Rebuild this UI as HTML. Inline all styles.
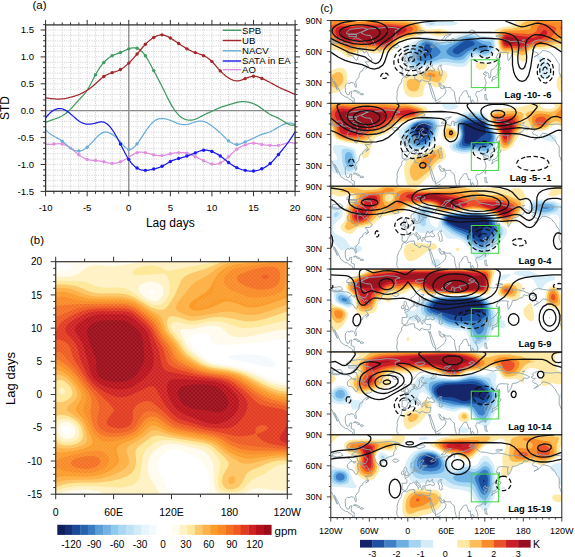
<!DOCTYPE html>
<html><head><meta charset="utf-8"><style>html,body{margin:0;padding:0;background:#fff;width:575px;height:557px;overflow:hidden}svg{display:block}</style></head>
<body><svg width="575" height="557" viewBox="0 0 575 557" font-family='"Liberation Sans", sans-serif'>
<path d="M53.92 24.9V191.3M62.23 24.9V191.3M70.55 24.9V191.3M78.87 24.9V191.3M87.18 24.9V191.3M95.5 24.9V191.3M103.82 24.9V191.3M112.13 24.9V191.3M120.45 24.9V191.3M128.77 24.9V191.3M137.08 24.9V191.3M145.4 24.9V191.3M153.72 24.9V191.3M162.03 24.9V191.3M170.35 24.9V191.3M178.67 24.9V191.3M186.98 24.9V191.3M195.3 24.9V191.3M203.62 24.9V191.3M211.93 24.9V191.3M220.25 24.9V191.3M228.57 24.9V191.3M236.88 24.9V191.3M245.2 24.9V191.3M253.52 24.9V191.3M261.83 24.9V191.3M270.15 24.9V191.3M278.47 24.9V191.3M286.78 24.9V191.3M45.6 186.02H295.1M45.6 180.64H295.1M45.6 175.26H295.1M45.6 169.88H295.1M45.6 164.5H295.1M45.6 159.12H295.1M45.6 153.74H295.1M45.6 148.36H295.1M45.6 142.98H295.1M45.6 137.6H295.1M45.6 132.22H295.1M45.6 126.84H295.1M45.6 121.46H295.1M45.6 116.08H295.1M45.6 110.7H295.1M45.6 105.32H295.1M45.6 99.94H295.1M45.6 94.56H295.1M45.6 89.18H295.1M45.6 83.8H295.1M45.6 78.42H295.1M45.6 73.04H295.1M45.6 67.66H295.1M45.6 62.28H295.1M45.6 56.9H295.1M45.6 51.52H295.1M45.6 46.14H295.1M45.6 40.76H295.1M45.6 35.38H295.1M45.6 30H295.1" stroke="#b4b4b4" stroke-width="0.7" stroke-dasharray="0.9 1.4" fill="none"/>
<path d="M45.6 110.7H295.1 M128.77 24.9V191.3" stroke="#8a8a8a" stroke-width="1.3" fill="none"/>
<polyline points="45.6,144.06 46.43,144.2 47.26,144.3 48.1,144.36 48.93,144.39 49.76,144.38 50.59,144.35 51.42,144.29 52.25,144.22 53.09,144.14 53.92,144.06 54.75,143.97 55.58,143.89 56.41,143.82 57.24,143.77 58.08,143.73 58.91,143.72 59.74,143.75 60.57,143.81 61.4,143.91 62.23,144.06 63.06,144.25 63.9,144.5 64.73,144.8 65.56,145.14 66.39,145.53 67.22,145.96 68.06,146.44 68.89,146.95 69.72,147.5 70.55,148.09 71.38,148.71 72.21,149.36 73.05,150.04 73.88,150.72 74.71,151.42 75.54,152.12 76.37,152.82 77.2,153.5 78.04,154.17 78.87,154.82 79.7,155.43 80.53,156.02 81.36,156.57 82.19,157.09 83.03,157.57 83.86,158.02 84.69,158.42 85.52,158.79 86.35,159.11 87.18,159.39 88.02,159.62 88.85,159.82 89.68,159.98 90.51,160.11 91.34,160.21 92.17,160.3 93.01,160.37 93.84,160.44 94.67,160.51 95.5,160.57 96.33,160.65 97.16,160.73 98,160.83 98.83,160.93 99.66,161.05 100.49,161.17 101.32,161.31 102.15,161.47 102.99,161.63 103.82,161.81 104.65,162 105.48,162.2 106.31,162.41 107.14,162.61 107.98,162.8 108.81,162.98 109.64,163.14 110.47,163.27 111.3,163.36 112.13,163.42 112.97,163.44 113.8,163.41 114.63,163.34 115.46,163.24 116.29,163.09 117.12,162.9 117.96,162.68 118.79,162.42 119.62,162.13 120.45,161.81 121.28,161.46 122.11,161.07 122.95,160.66 123.78,160.23 124.61,159.77 125.44,159.3 126.27,158.8 127.1,158.29 127.94,157.77 128.77,157.24 129.6,156.7 130.43,156.15 131.26,155.62 132.09,155.09 132.93,154.59 133.76,154.12 134.59,153.68 135.42,153.29 136.25,152.95 137.08,152.66 137.92,152.44 138.75,152.29 139.58,152.18 140.41,152.13 141.24,152.13 142.07,152.17 142.91,152.25 143.74,152.36 144.57,152.5 145.4,152.66 146.23,152.85 147.06,153.05 147.9,153.26 148.73,153.48 149.56,153.71 150.39,153.94 151.22,154.17 152.05,154.39 152.89,154.61 153.72,154.82 154.55,155.01 155.38,155.18 156.21,155.33 157.04,155.46 157.88,155.57 158.71,155.65 159.54,155.69 160.37,155.71 161.2,155.68 162.03,155.62 162.87,155.52 163.7,155.38 164.53,155.22 165.36,155.03 166.19,154.82 167.02,154.6 167.86,154.38 168.69,154.16 169.52,153.94 170.35,153.74 171.18,153.56 172.01,153.39 172.85,153.24 173.68,153.11 174.51,152.99 175.34,152.89 176.17,152.8 177,152.72 177.84,152.66 178.67,152.61 179.5,152.57 180.33,152.54 181.16,152.54 181.99,152.55 182.83,152.58 183.66,152.64 184.49,152.73 185.32,152.85 186.15,153.01 186.98,153.2 187.82,153.44 188.65,153.71 189.48,154.01 190.31,154.35 191.14,154.71 191.97,155.08 192.81,155.47 193.64,155.88 194.47,156.29 195.3,156.7 196.13,157.11 196.96,157.52 197.8,157.92 198.63,158.33 199.46,158.73 200.29,159.13 201.12,159.53 201.95,159.94 202.79,160.33 203.62,160.73 204.45,161.13 205.28,161.53 206.11,161.91 206.94,162.28 207.78,162.63 208.61,162.96 209.44,163.26 210.27,163.53 211.1,163.77 211.93,163.96 212.77,164.11 213.6,164.21 214.43,164.26 215.26,164.26 216.09,164.21 216.92,164.09 217.76,163.93 218.59,163.7 219.42,163.4 220.25,163.05 221.08,162.63 221.91,162.14 222.75,161.6 223.58,161.01 224.41,160.37 225.24,159.7 226.07,158.99 226.9,158.25 227.74,157.48 228.57,156.7 229.4,155.9 230.23,155.1 231.06,154.29 231.89,153.5 232.73,152.71 233.56,151.94 234.39,151.19 235.22,150.48 236.05,149.8 236.88,149.17 237.72,148.58 238.55,148.04 239.38,147.54 240.21,147.08 241.04,146.65 241.87,146.26 242.71,145.89 243.54,145.55 244.37,145.22 245.2,144.92 246.03,144.62 246.86,144.35 247.7,144.09 248.53,143.85 249.36,143.65 250.19,143.47 251.02,143.33 251.85,143.22 252.69,143.16 253.52,143.14 254.35,143.17 255.18,143.24 256.01,143.35 256.84,143.48 257.68,143.63 258.51,143.8 259.34,143.98 260.17,144.16 261,144.33 261.83,144.49 262.67,144.63 263.5,144.75 264.33,144.85 265.16,144.95 265.99,145.03 266.82,145.1 267.66,145.17 268.49,145.23 269.32,145.29 270.15,145.35 270.98,145.41 271.81,145.47 272.65,145.52 273.48,145.56 274.31,145.59 275.14,145.6 275.97,145.58 276.8,145.54 277.64,145.46 278.47,145.35 279.3,145.2 280.13,145.01 280.96,144.8 281.79,144.57 282.63,144.32 283.46,144.07 284.29,143.82 285.12,143.58 285.95,143.35 286.78,143.14 287.62,142.96 288.45,142.82 289.28,142.72 290.11,142.67 290.94,142.67 291.77,142.74 292.61,142.88 293.44,143.1 294.27,143.4 295.1,143.79" fill="none" stroke="#e08ee0" stroke-width="1.25" stroke-linejoin="round"/>
<circle cx="53.92" cy="144.06" r="1.7" fill="#e08ee0"/>
<circle cx="62.23" cy="144.06" r="1.7" fill="#e08ee0"/>
<circle cx="70.55" cy="148.09" r="1.7" fill="#e08ee0"/>
<circle cx="78.87" cy="154.82" r="1.7" fill="#e08ee0"/>
<circle cx="87.18" cy="159.39" r="1.7" fill="#e08ee0"/>
<circle cx="95.5" cy="160.57" r="1.7" fill="#e08ee0"/>
<circle cx="103.82" cy="161.81" r="1.7" fill="#e08ee0"/>
<circle cx="112.13" cy="163.42" r="1.7" fill="#e08ee0"/>
<circle cx="120.45" cy="161.81" r="1.7" fill="#e08ee0"/>
<circle cx="137.08" cy="152.66" r="1.7" fill="#e08ee0"/>
<circle cx="145.4" cy="152.66" r="1.7" fill="#e08ee0"/>
<circle cx="153.72" cy="154.82" r="1.7" fill="#e08ee0"/>
<circle cx="162.03" cy="155.62" r="1.7" fill="#e08ee0"/>
<circle cx="170.35" cy="153.74" r="1.7" fill="#e08ee0"/>
<circle cx="178.67" cy="152.61" r="1.7" fill="#e08ee0"/>
<circle cx="186.98" cy="153.2" r="1.7" fill="#e08ee0"/>
<circle cx="195.3" cy="156.7" r="1.7" fill="#e08ee0"/>
<circle cx="203.62" cy="160.73" r="1.7" fill="#e08ee0"/>
<circle cx="211.93" cy="163.96" r="1.7" fill="#e08ee0"/>
<circle cx="220.25" cy="163.05" r="1.7" fill="#e08ee0"/>
<circle cx="228.57" cy="156.7" r="1.7" fill="#e08ee0"/>
<circle cx="236.88" cy="149.17" r="1.7" fill="#e08ee0"/>
<circle cx="245.2" cy="144.92" r="1.7" fill="#e08ee0"/>
<circle cx="253.52" cy="143.14" r="1.7" fill="#e08ee0"/>
<circle cx="261.83" cy="144.49" r="1.7" fill="#e08ee0"/>
<circle cx="270.15" cy="145.35" r="1.7" fill="#e08ee0"/>
<circle cx="278.47" cy="145.35" r="1.7" fill="#e08ee0"/>
<polyline points="45.6,129.53 46.43,130.48 47.26,131.36 48.1,132.16 48.93,132.89 49.76,133.57 50.59,134.2 51.42,134.78 52.25,135.32 53.09,135.83 53.92,136.31 54.75,136.77 55.58,137.23 56.41,137.67 57.24,138.12 58.08,138.58 58.91,139.05 59.74,139.54 60.57,140.06 61.4,140.61 62.23,141.2 63.06,141.84 63.9,142.52 64.73,143.22 65.56,143.95 66.39,144.68 67.22,145.4 68.06,146.12 68.89,146.81 69.72,147.47 70.55,148.09 71.38,148.66 72.21,149.17 73.05,149.63 73.88,150.03 74.71,150.36 75.54,150.64 76.37,150.84 77.2,150.98 78.04,151.05 78.87,151.05 79.7,150.97 80.53,150.82 81.36,150.6 82.19,150.31 83.03,149.95 83.86,149.52 84.69,149.03 85.52,148.47 86.35,147.85 87.18,147.18 88.02,146.44 88.85,145.65 89.68,144.82 90.51,143.96 91.34,143.07 92.17,142.16 93.01,141.25 93.84,140.33 94.67,139.41 95.5,138.51 96.33,137.64 97.16,136.79 98,135.99 98.83,135.24 99.66,134.54 100.49,133.91 101.32,133.35 102.15,132.88 102.99,132.5 103.82,132.22 104.65,132.05 105.48,131.98 106.31,132.01 107.14,132.13 107.98,132.33 108.81,132.61 109.64,132.97 110.47,133.38 111.3,133.85 112.13,134.37 112.97,134.94 113.8,135.55 114.63,136.2 115.46,136.89 116.29,137.63 117.12,138.4 117.96,139.22 118.79,140.08 119.62,140.97 120.45,141.9 121.28,142.87 122.11,143.85 122.95,144.83 123.78,145.77 124.61,146.65 125.44,147.46 126.27,148.17 127.1,148.75 127.94,149.18 128.77,149.44 129.6,149.51 130.43,149.39 131.26,149.12 132.09,148.69 132.93,148.12 133.76,147.43 134.59,146.63 135.42,145.74 136.25,144.77 137.08,143.73 137.92,142.64 138.75,141.51 139.58,140.34 140.41,139.14 141.24,137.92 142.07,136.68 142.91,135.43 143.74,134.17 144.57,132.92 145.4,131.68 146.23,130.46 147.06,129.26 147.9,128.09 148.73,126.96 149.56,125.88 150.39,124.86 151.22,123.89 152.05,123 152.89,122.19 153.72,121.46 154.55,120.82 155.38,120.28 156.21,119.81 157.04,119.43 157.88,119.12 158.71,118.88 159.54,118.7 160.37,118.58 161.2,118.52 162.03,118.5 162.87,118.53 163.7,118.6 164.53,118.72 165.36,118.86 166.19,119.05 167.02,119.26 167.86,119.5 168.69,119.77 169.52,120.07 170.35,120.38 171.18,120.72 172.01,121.07 172.85,121.42 173.68,121.78 174.51,122.14 175.34,122.49 176.17,122.83 177,123.15 177.84,123.45 178.67,123.72 179.5,123.96 180.33,124.16 181.16,124.33 181.99,124.46 182.83,124.56 183.66,124.61 184.49,124.63 185.32,124.6 186.15,124.53 186.98,124.42 187.82,124.26 188.65,124.06 189.48,123.84 190.31,123.58 191.14,123.31 191.97,123.03 192.81,122.75 193.64,122.47 194.47,122.2 195.3,121.94 196.13,121.72 196.96,121.52 197.8,121.35 198.63,121.22 199.46,121.13 200.29,121.09 201.12,121.09 201.95,121.16 202.79,121.28 203.62,121.46 204.45,121.71 205.28,122.02 206.11,122.39 206.94,122.8 207.78,123.26 208.61,123.76 209.44,124.29 210.27,124.85 211.1,125.44 211.93,126.03 212.77,126.64 213.6,127.26 214.43,127.9 215.26,128.55 216.09,129.21 216.92,129.9 217.76,130.61 218.59,131.33 219.42,132.09 220.25,132.87 221.08,133.67 221.91,134.49 222.75,135.33 223.58,136.17 224.41,137 225.24,137.82 226.07,138.63 226.9,139.4 227.74,140.14 228.57,140.83 229.4,141.47 230.23,142.06 231.06,142.58 231.89,143.05 232.73,143.46 233.56,143.79 234.39,144.06 235.22,144.26 236.05,144.39 236.88,144.43 237.72,144.4 238.55,144.3 239.38,144.13 240.21,143.91 241.04,143.65 241.87,143.34 242.71,143.01 243.54,142.65 244.37,142.28 245.2,141.9 246.03,141.53 246.86,141.16 247.7,140.79 248.53,140.42 249.36,140.05 250.19,139.67 251.02,139.3 251.85,138.92 252.69,138.53 253.52,138.14 254.35,137.74 255.18,137.33 256.01,136.93 256.84,136.53 257.68,136.13 258.51,135.75 259.34,135.38 260.17,135.02 261,134.68 261.83,134.37 262.67,134.09 263.5,133.82 264.33,133.57 265.16,133.32 265.99,133.08 266.82,132.84 267.66,132.58 268.49,132.3 269.32,132.01 270.15,131.68 270.98,131.32 271.81,130.93 272.65,130.51 273.48,130.07 274.31,129.61 275.14,129.13 275.97,128.65 276.8,128.15 277.64,127.66 278.47,127.16 279.3,126.68 280.13,126.2 280.96,125.74 281.79,125.3 282.63,124.88 283.46,124.49 284.29,124.14 285.12,123.83 285.95,123.56 286.78,123.34 287.62,123.18 288.45,123.07 289.28,123.03 290.11,123.05 290.94,123.15 291.77,123.33 292.61,123.59 293.44,123.93 294.27,124.37 295.1,124.9" fill="none" stroke="#6aaed8" stroke-width="1.25" stroke-linejoin="round"/>
<circle cx="62.23" cy="141.2" r="1.7" fill="#6aaed8"/>
<circle cx="78.87" cy="151.05" r="1.7" fill="#6aaed8"/>
<circle cx="87.18" cy="147.18" r="1.7" fill="#6aaed8"/>
<circle cx="128.77" cy="149.44" r="1.7" fill="#6aaed8"/>
<circle cx="137.08" cy="143.73" r="1.7" fill="#6aaed8"/>
<circle cx="228.57" cy="140.83" r="1.7" fill="#6aaed8"/>
<circle cx="236.88" cy="144.43" r="1.7" fill="#6aaed8"/>
<circle cx="245.2" cy="141.9" r="1.7" fill="#6aaed8"/>
<polyline points="45.6,122.54 46.43,122.12 47.26,121.74 48.1,121.38 48.93,121.04 49.76,120.73 50.59,120.43 51.42,120.14 52.25,119.86 53.09,119.58 53.92,119.31 54.75,119.03 55.58,118.75 56.41,118.45 57.24,118.15 58.08,117.82 58.91,117.48 59.74,117.11 60.57,116.71 61.4,116.28 62.23,115.81 63.06,115.31 63.9,114.76 64.73,114.18 65.56,113.56 66.39,112.9 67.22,112.21 68.06,111.48 68.89,110.72 69.72,109.92 70.55,109.09 71.38,108.22 72.21,107.33 73.05,106.42 73.88,105.49 74.71,104.55 75.54,103.61 76.37,102.67 77.2,101.74 78.04,100.83 78.87,99.94 79.7,99.07 80.53,98.22 81.36,97.37 82.19,96.5 83.03,95.61 83.86,94.67 84.69,93.69 85.52,92.63 86.35,91.49 87.18,90.26 88.02,88.92 88.85,87.49 89.68,85.98 90.51,84.42 91.34,82.81 92.17,81.18 93.01,79.54 93.84,77.92 94.67,76.32 95.5,74.76 96.33,73.26 97.16,71.83 98,70.45 98.83,69.14 99.66,67.88 100.49,66.68 101.32,65.55 102.15,64.47 102.99,63.45 103.82,62.5 104.65,61.6 105.48,60.75 106.31,59.96 107.14,59.23 107.98,58.54 108.81,57.91 109.64,57.32 110.47,56.78 111.3,56.28 112.13,55.82 112.97,55.41 113.8,55.02 114.63,54.66 115.46,54.33 116.29,54.01 117.12,53.7 117.96,53.39 118.79,53.08 119.62,52.77 120.45,52.43 121.28,52.09 122.11,51.72 122.95,51.35 123.78,50.96 124.61,50.58 125.44,50.2 126.27,49.84 127.1,49.48 127.94,49.14 128.77,48.83 129.6,48.54 130.43,48.29 131.26,48.08 132.09,47.92 132.93,47.81 133.76,47.76 134.59,47.78 135.42,47.87 136.25,48.04 137.08,48.29 137.92,48.64 138.75,49.07 139.58,49.6 140.41,50.22 141.24,50.93 142.07,51.73 142.91,52.61 143.74,53.59 144.57,54.66 145.4,55.82 146.23,57.07 147.06,58.4 147.9,59.79 148.73,61.25 149.56,62.75 150.39,64.29 151.22,65.86 152.05,67.44 152.89,69.03 153.72,70.62 154.55,72.19 155.38,73.76 156.21,75.32 157.04,76.88 157.88,78.45 158.71,80.02 159.54,81.61 160.37,83.21 161.2,84.84 162.03,86.49 162.87,88.17 163.7,89.87 164.53,91.59 165.36,93.31 166.19,95.02 167.02,96.72 167.86,98.39 168.69,100.03 169.52,101.62 170.35,103.17 171.18,104.65 172.01,106.07 172.85,107.43 173.68,108.72 174.51,109.95 175.34,111.1 176.17,112.19 177,113.2 177.84,114.14 178.67,115 179.5,115.79 180.33,116.51 181.16,117.15 181.99,117.72 182.83,118.23 183.66,118.67 184.49,119.05 185.32,119.37 186.15,119.64 186.98,119.85 187.82,120 188.65,120.11 189.48,120.17 190.31,120.17 191.14,120.13 191.97,120.04 192.81,119.9 193.64,119.71 194.47,119.48 195.3,119.2 196.13,118.88 196.96,118.51 197.8,118.12 198.63,117.7 199.46,117.26 200.29,116.81 201.12,116.35 201.95,115.89 202.79,115.44 203.62,115 204.45,114.59 205.28,114.19 206.11,113.8 206.94,113.43 207.78,113.06 208.61,112.7 209.44,112.34 210.27,111.98 211.1,111.61 211.93,111.24 212.77,110.85 213.6,110.46 214.43,110.06 215.26,109.67 216.09,109.27 216.92,108.88 217.76,108.51 218.59,108.14 219.42,107.8 220.25,107.47 221.08,107.17 221.91,106.89 222.75,106.63 223.58,106.38 224.41,106.14 225.24,105.9 226.07,105.67 226.9,105.43 227.74,105.19 228.57,104.94 229.4,104.68 230.23,104.41 231.06,104.13 231.89,103.85 232.73,103.57 233.56,103.3 234.39,103.04 235.22,102.8 236.05,102.57 236.88,102.36 237.72,102.18 238.55,102.03 239.38,101.9 240.21,101.79 241.04,101.72 241.87,101.67 242.71,101.64 243.54,101.64 244.37,101.67 245.2,101.72 246.03,101.79 246.86,101.89 247.7,102.02 248.53,102.17 249.36,102.36 250.19,102.57 251.02,102.81 251.85,103.08 252.69,103.38 253.52,103.71 254.35,104.07 255.18,104.46 256.01,104.88 256.84,105.33 257.68,105.8 258.51,106.31 259.34,106.83 260.17,107.38 261,107.95 261.83,108.55 262.67,109.16 263.5,109.79 264.33,110.42 265.16,111.05 265.99,111.68 266.82,112.29 267.66,112.88 268.49,113.45 269.32,113.98 270.15,114.47 270.98,114.91 271.81,115.32 272.65,115.69 273.48,116.05 274.31,116.39 275.14,116.73 275.97,117.07 276.8,117.43 277.64,117.82 278.47,118.23 279.3,118.69 280.13,119.17 280.96,119.68 281.79,120.21 282.63,120.75 283.46,121.3 284.29,121.83 285.12,122.36 285.95,122.87 286.78,123.34 287.62,123.78 288.45,124.18 289.28,124.53 290.11,124.82 290.94,125.04 291.77,125.19 292.61,125.26 293.44,125.24 294.27,125.12 295.1,124.9" fill="none" stroke="#3f9a62" stroke-width="1.25" stroke-linejoin="round"/>
<circle cx="95.5" cy="74.76" r="1.7" fill="#3f9a62"/>
<circle cx="103.82" cy="62.5" r="1.7" fill="#3f9a62"/>
<circle cx="112.13" cy="55.82" r="1.7" fill="#3f9a62"/>
<circle cx="120.45" cy="52.43" r="1.7" fill="#3f9a62"/>
<circle cx="128.77" cy="48.83" r="1.7" fill="#3f9a62"/>
<circle cx="137.08" cy="48.29" r="1.7" fill="#3f9a62"/>
<circle cx="145.4" cy="55.82" r="1.7" fill="#3f9a62"/>
<circle cx="153.72" cy="70.62" r="1.7" fill="#3f9a62"/>
<polyline points="45.6,97.9 46.43,98.01 47.26,98.12 48.1,98.23 48.93,98.33 49.76,98.44 50.59,98.53 51.42,98.63 52.25,98.71 53.09,98.79 53.92,98.86 54.75,98.92 55.58,98.97 56.41,99.01 57.24,99.04 58.08,99.05 58.91,99.05 59.74,99.03 60.57,98.99 61.4,98.94 62.23,98.86 63.06,98.77 63.9,98.66 64.73,98.53 65.56,98.39 66.39,98.23 67.22,98.05 68.06,97.87 68.89,97.67 69.72,97.46 70.55,97.25 71.38,97.03 72.21,96.8 73.05,96.56 73.88,96.31 74.71,96.05 75.54,95.78 76.37,95.5 77.2,95.2 78.04,94.89 78.87,94.56 79.7,94.22 80.53,93.85 81.36,93.47 82.19,93.08 83.03,92.66 83.86,92.22 84.69,91.76 85.52,91.28 86.35,90.78 87.18,90.26 88.02,89.71 88.85,89.14 89.68,88.55 90.51,87.93 91.34,87.3 92.17,86.64 93.01,85.96 93.84,85.26 94.67,84.54 95.5,83.8 96.33,83.04 97.16,82.27 98,81.5 98.83,80.72 99.66,79.96 100.49,79.21 101.32,78.49 102.15,77.8 102.99,77.14 103.82,76.54 104.65,75.98 105.48,75.48 106.31,75.01 107.14,74.59 107.98,74.21 108.81,73.85 109.64,73.53 110.47,73.22 111.3,72.94 112.13,72.66 112.97,72.4 113.8,72.14 114.63,71.88 115.46,71.62 116.29,71.33 117.12,71.04 117.96,70.71 118.79,70.36 119.62,69.97 120.45,69.54 121.28,69.07 122.11,68.55 122.95,67.99 123.78,67.39 124.61,66.75 125.44,66.08 126.27,65.37 127.1,64.64 127.94,63.88 128.77,63.09 129.6,62.28 130.43,61.44 131.26,60.59 132.09,59.71 132.93,58.81 133.76,57.9 134.59,56.96 135.42,56.01 136.25,55.04 137.08,54.05 137.92,53.05 138.75,52.03 139.58,51.01 140.41,50 141.24,48.99 142.07,47.99 142.91,47.02 143.74,46.06 144.57,45.14 145.4,44.26 146.23,43.41 147.06,42.61 147.9,41.85 148.73,41.13 149.56,40.44 150.39,39.79 151.22,39.18 152.05,38.6 152.89,38.05 153.72,37.53 154.55,37.05 155.38,36.6 156.21,36.19 157.04,35.82 157.88,35.51 158.71,35.25 159.54,35.05 160.37,34.91 161.2,34.84 162.03,34.84 162.87,34.92 163.7,35.07 164.53,35.29 165.36,35.57 166.19,35.89 167.02,36.26 167.86,36.67 168.69,37.12 169.52,37.58 170.35,38.07 171.18,38.57 172.01,39.08 172.85,39.6 173.68,40.13 174.51,40.67 175.34,41.22 176.17,41.77 177,42.32 177.84,42.89 178.67,43.45 179.5,44.02 180.33,44.58 181.16,45.15 181.99,45.71 182.83,46.26 183.66,46.8 184.49,47.33 185.32,47.85 186.15,48.35 186.98,48.83 187.82,49.29 188.65,49.73 189.48,50.15 190.31,50.55 191.14,50.93 191.97,51.3 192.81,51.64 193.64,51.98 194.47,52.29 195.3,52.6 196.13,52.89 196.96,53.17 197.8,53.45 198.63,53.72 199.46,54.01 200.29,54.3 201.12,54.61 201.95,54.93 202.79,55.28 203.62,55.66 204.45,56.07 205.28,56.52 206.11,57 206.94,57.52 207.78,58.09 208.61,58.69 209.44,59.34 210.27,60.04 211.1,60.78 211.93,61.58 212.77,62.43 213.6,63.32 214.43,64.24 215.26,65.19 216.09,66.16 216.92,67.13 217.76,68.09 218.59,69.05 219.42,69.98 220.25,70.89 221.08,71.75 221.91,72.58 222.75,73.37 223.58,74.12 224.41,74.83 225.24,75.51 226.07,76.15 226.9,76.76 227.74,77.34 228.57,77.88 229.4,78.39 230.23,78.87 231.06,79.3 231.89,79.7 232.73,80.04 233.56,80.33 234.39,80.57 235.22,80.74 236.05,80.85 236.88,80.89 237.72,80.87 238.55,80.77 239.38,80.62 240.21,80.42 241.04,80.18 241.87,79.9 242.71,79.59 243.54,79.27 244.37,78.93 245.2,78.58 246.03,78.24 246.86,77.9 247.7,77.58 248.53,77.29 249.36,77.01 250.19,76.77 251.02,76.57 251.85,76.42 252.69,76.31 253.52,76.27 254.35,76.28 255.18,76.36 256.01,76.48 256.84,76.66 257.68,76.88 258.51,77.13 259.34,77.42 260.17,77.73 261,78.07 261.83,78.42 262.67,78.78 263.5,79.16 264.33,79.55 265.16,79.94 265.99,80.35 266.82,80.77 267.66,81.19 268.49,81.62 269.32,82.06 270.15,82.51 270.98,82.96 271.81,83.42 272.65,83.88 273.48,84.35 274.31,84.81 275.14,85.27 275.97,85.72 276.8,86.16 277.64,86.6 278.47,87.03 279.3,87.44 280.13,87.84 280.96,88.24 281.79,88.62 282.63,88.99 283.46,89.36 284.29,89.72 285.12,90.08 285.95,90.44 286.78,90.79 287.62,91.15 288.45,91.51 289.28,91.86 290.11,92.23 290.94,92.6 291.77,92.97 292.61,93.35 293.44,93.74 294.27,94.15 295.1,94.56" fill="none" stroke="#a3262a" stroke-width="1.25" stroke-linejoin="round"/>
<circle cx="103.82" cy="76.54" r="1.7" fill="#a3262a"/>
<circle cx="112.13" cy="72.66" r="1.7" fill="#a3262a"/>
<circle cx="120.45" cy="69.54" r="1.7" fill="#a3262a"/>
<circle cx="128.77" cy="63.09" r="1.7" fill="#a3262a"/>
<circle cx="137.08" cy="54.05" r="1.7" fill="#a3262a"/>
<circle cx="145.4" cy="44.26" r="1.7" fill="#a3262a"/>
<circle cx="153.72" cy="37.53" r="1.7" fill="#a3262a"/>
<circle cx="162.03" cy="34.84" r="1.7" fill="#a3262a"/>
<circle cx="170.35" cy="38.07" r="1.7" fill="#a3262a"/>
<circle cx="178.67" cy="43.45" r="1.7" fill="#a3262a"/>
<circle cx="186.98" cy="48.83" r="1.7" fill="#a3262a"/>
<circle cx="195.3" cy="52.6" r="1.7" fill="#a3262a"/>
<circle cx="203.62" cy="55.66" r="1.7" fill="#a3262a"/>
<circle cx="211.93" cy="61.58" r="1.7" fill="#a3262a"/>
<circle cx="220.25" cy="70.89" r="1.7" fill="#a3262a"/>
<circle cx="245.2" cy="78.58" r="1.7" fill="#a3262a"/>
<circle cx="253.52" cy="76.27" r="1.7" fill="#a3262a"/>
<circle cx="261.83" cy="78.42" r="1.7" fill="#a3262a"/>
<polyline points="45.6,118.07 46.43,116.99 47.26,115.97 48.1,115.02 48.93,114.13 49.76,113.31 50.59,112.55 51.42,111.85 52.25,111.22 53.09,110.66 53.92,110.16 54.75,109.73 55.58,109.37 56.41,109.07 57.24,108.84 58.08,108.68 58.91,108.59 59.74,108.57 60.57,108.62 61.4,108.74 62.23,108.92 63.06,109.18 63.9,109.51 64.73,109.89 65.56,110.33 66.39,110.83 67.22,111.37 68.06,111.96 68.89,112.58 69.72,113.24 70.55,113.93 71.38,114.64 72.21,115.37 73.05,116.11 73.88,116.85 74.71,117.59 75.54,118.31 76.37,119.01 77.2,119.69 78.04,120.33 78.87,120.92 79.7,121.47 80.53,121.97 81.36,122.41 82.19,122.81 83.03,123.16 83.86,123.46 84.69,123.7 85.52,123.9 86.35,124.05 87.18,124.15 88.02,124.2 88.85,124.21 89.68,124.17 90.51,124.1 91.34,123.99 92.17,123.85 93.01,123.69 93.84,123.5 94.67,123.29 95.5,123.07 96.33,122.84 97.16,122.62 98,122.4 98.83,122.21 99.66,122.05 100.49,121.94 101.32,121.89 102.15,121.91 102.99,122.02 103.82,122.21 104.65,122.51 105.48,122.92 106.31,123.42 107.14,124.03 107.98,124.72 108.81,125.51 109.64,126.39 110.47,127.35 111.3,128.4 112.13,129.53 112.97,130.74 113.8,132.01 114.63,133.36 115.46,134.76 116.29,136.21 117.12,137.72 117.96,139.26 118.79,140.83 119.62,142.43 120.45,144.06 121.28,145.69 122.11,147.33 122.95,148.97 123.78,150.59 124.61,152.18 125.44,153.74 126.27,155.25 127.1,156.7 127.94,158.08 128.77,159.39 129.6,160.61 130.43,161.75 131.26,162.8 132.09,163.77 132.93,164.66 133.76,165.48 134.59,166.23 135.42,166.9 136.25,167.51 137.08,168.05 137.92,168.53 138.75,168.95 139.58,169.3 140.41,169.61 141.24,169.85 142.07,170.05 142.91,170.2 143.74,170.3 144.57,170.35 145.4,170.36 146.23,170.34 147.06,170.27 147.9,170.18 148.73,170.06 149.56,169.91 150.39,169.75 151.22,169.56 152.05,169.37 152.89,169.17 153.72,168.97 154.55,168.76 155.38,168.55 156.21,168.34 157.04,168.11 157.88,167.87 158.71,167.6 159.54,167.32 160.37,167 161.2,166.66 162.03,166.28 162.87,165.86 163.7,165.4 164.53,164.93 165.36,164.44 166.19,163.93 167.02,163.43 167.86,162.93 168.69,162.44 169.52,161.98 170.35,161.54 171.18,161.14 172.01,160.77 172.85,160.42 173.68,160.11 174.51,159.81 175.34,159.53 176.17,159.27 177,159.02 177.84,158.77 178.67,158.53 179.5,158.29 180.33,158.05 181.16,157.8 181.99,157.56 182.83,157.31 183.66,157.06 184.49,156.8 185.32,156.54 186.15,156.27 186.98,156 187.82,155.72 188.65,155.43 189.48,155.13 190.31,154.83 191.14,154.52 191.97,154.2 192.81,153.88 193.64,153.55 194.47,153.22 195.3,152.88 196.13,152.53 196.96,152.19 197.8,151.85 198.63,151.53 199.46,151.22 200.29,150.94 201.12,150.69 201.95,150.48 202.79,150.31 203.62,150.19 204.45,150.12 205.28,150.11 206.11,150.14 206.94,150.23 207.78,150.35 208.61,150.52 209.44,150.72 210.27,150.96 211.1,151.23 211.93,151.53 212.77,151.86 213.6,152.21 214.43,152.59 215.26,153 216.09,153.43 216.92,153.89 217.76,154.38 218.59,154.89 219.42,155.43 220.25,156 221.08,156.6 221.91,157.21 222.75,157.85 223.58,158.5 224.41,159.17 225.24,159.83 226.07,160.5 226.9,161.16 227.74,161.82 228.57,162.46 229.4,163.08 230.23,163.68 231.06,164.27 231.89,164.83 232.73,165.37 233.56,165.88 234.39,166.37 235.22,166.83 236.05,167.27 236.88,167.67 237.72,168.05 238.55,168.4 239.38,168.72 240.21,169.02 241.04,169.29 241.87,169.54 242.71,169.77 243.54,169.99 244.37,170.18 245.2,170.36 246.03,170.53 246.86,170.68 247.7,170.81 248.53,170.93 249.36,171.02 250.19,171.08 251.02,171.12 251.85,171.14 252.69,171.12 253.52,171.06 254.35,170.98 255.18,170.86 256.01,170.7 256.84,170.52 257.68,170.3 258.51,170.06 259.34,169.78 260.17,169.48 261,169.16 261.83,168.8 262.67,168.43 263.5,168.03 264.33,167.59 265.16,167.13 265.99,166.63 266.82,166.1 267.66,165.52 268.49,164.9 269.32,164.24 270.15,163.53 270.98,162.77 271.81,161.97 272.65,161.12 273.48,160.24 274.31,159.33 275.14,158.39 275.97,157.44 276.8,156.46 277.64,155.48 278.47,154.49 279.3,153.5 280.13,152.51 280.96,151.52 281.79,150.51 282.63,149.5 283.46,148.47 284.29,147.44 285.12,146.38 285.95,145.31 286.78,144.22 287.62,143.1 288.45,141.96 289.28,140.8 290.11,139.6 290.94,138.37 291.77,137.11 292.61,135.81 293.44,134.48 294.27,133.1 295.1,131.68" fill="none" stroke="#1a1af0" stroke-width="1.25" stroke-linejoin="round"/>
<circle cx="120.45" cy="144.06" r="1.7" fill="#1a1af0"/>
<circle cx="128.77" cy="159.39" r="1.7" fill="#1a1af0"/>
<circle cx="137.08" cy="168.05" r="1.7" fill="#1a1af0"/>
<circle cx="145.4" cy="170.36" r="1.7" fill="#1a1af0"/>
<circle cx="153.72" cy="168.97" r="1.7" fill="#1a1af0"/>
<circle cx="162.03" cy="166.28" r="1.7" fill="#1a1af0"/>
<circle cx="170.35" cy="161.54" r="1.7" fill="#1a1af0"/>
<circle cx="178.67" cy="158.53" r="1.7" fill="#1a1af0"/>
<circle cx="186.98" cy="156" r="1.7" fill="#1a1af0"/>
<circle cx="195.3" cy="152.88" r="1.7" fill="#1a1af0"/>
<circle cx="203.62" cy="150.19" r="1.7" fill="#1a1af0"/>
<circle cx="211.93" cy="151.53" r="1.7" fill="#1a1af0"/>
<circle cx="220.25" cy="156" r="1.7" fill="#1a1af0"/>
<circle cx="228.57" cy="162.46" r="1.7" fill="#1a1af0"/>
<circle cx="236.88" cy="167.67" r="1.7" fill="#1a1af0"/>
<circle cx="245.2" cy="170.36" r="1.7" fill="#1a1af0"/>
<circle cx="253.52" cy="171.06" r="1.7" fill="#1a1af0"/>
<circle cx="261.83" cy="168.8" r="1.7" fill="#1a1af0"/>
<circle cx="270.15" cy="163.53" r="1.7" fill="#1a1af0"/>
<circle cx="278.47" cy="154.49" r="1.7" fill="#1a1af0"/>
<path d="M45.6 191.3v5M45.6 24.9v-5M53.92 191.3v2.5M53.92 24.9v-2.5M62.23 191.3v2.5M62.23 24.9v-2.5M70.55 191.3v2.5M70.55 24.9v-2.5M78.87 191.3v2.5M78.87 24.9v-2.5M87.18 191.3v5M87.18 24.9v-5M95.5 191.3v2.5M95.5 24.9v-2.5M103.82 191.3v2.5M103.82 24.9v-2.5M112.13 191.3v2.5M112.13 24.9v-2.5M120.45 191.3v2.5M120.45 24.9v-2.5M128.77 191.3v5M128.77 24.9v-5M137.08 191.3v2.5M137.08 24.9v-2.5M145.4 191.3v2.5M145.4 24.9v-2.5M153.72 191.3v2.5M153.72 24.9v-2.5M162.03 191.3v2.5M162.03 24.9v-2.5M170.35 191.3v5M170.35 24.9v-5M178.67 191.3v2.5M178.67 24.9v-2.5M186.98 191.3v2.5M186.98 24.9v-2.5M195.3 191.3v2.5M195.3 24.9v-2.5M203.62 191.3v2.5M203.62 24.9v-2.5M211.93 191.3v5M211.93 24.9v-5M220.25 191.3v2.5M220.25 24.9v-2.5M228.57 191.3v2.5M228.57 24.9v-2.5M236.88 191.3v2.5M236.88 24.9v-2.5M245.2 191.3v2.5M245.2 24.9v-2.5M253.52 191.3v5M253.52 24.9v-5M261.83 191.3v2.5M261.83 24.9v-2.5M270.15 191.3v2.5M270.15 24.9v-2.5M278.47 191.3v2.5M278.47 24.9v-2.5M286.78 191.3v2.5M286.78 24.9v-2.5M295.1 191.3v5M295.1 24.9v-5M45.6 191.4h-5M295.1 191.4h5M45.6 186.02h-2.5M295.1 186.02h2.5M45.6 180.64h-2.5M295.1 180.64h2.5M45.6 175.26h-2.5M295.1 175.26h2.5M45.6 169.88h-2.5M295.1 169.88h2.5M45.6 164.5h-5M295.1 164.5h5M45.6 159.12h-2.5M295.1 159.12h2.5M45.6 153.74h-2.5M295.1 153.74h2.5M45.6 148.36h-2.5M295.1 148.36h2.5M45.6 142.98h-2.5M295.1 142.98h2.5M45.6 137.6h-5M295.1 137.6h5M45.6 132.22h-2.5M295.1 132.22h2.5M45.6 126.84h-2.5M295.1 126.84h2.5M45.6 121.46h-2.5M295.1 121.46h2.5M45.6 116.08h-2.5M295.1 116.08h2.5M45.6 110.7h-5M295.1 110.7h5M45.6 105.32h-2.5M295.1 105.32h2.5M45.6 99.94h-2.5M295.1 99.94h2.5M45.6 94.56h-2.5M295.1 94.56h2.5M45.6 89.18h-2.5M295.1 89.18h2.5M45.6 83.8h-5M295.1 83.8h5M45.6 78.42h-2.5M295.1 78.42h2.5M45.6 73.04h-2.5M295.1 73.04h2.5M45.6 67.66h-2.5M295.1 67.66h2.5M45.6 62.28h-2.5M295.1 62.28h2.5M45.6 56.9h-5M295.1 56.9h5M45.6 51.52h-2.5M295.1 51.52h2.5M45.6 46.14h-2.5M295.1 46.14h2.5M45.6 40.76h-2.5M295.1 40.76h2.5M45.6 35.38h-2.5M295.1 35.38h2.5M45.6 30h-5M295.1 30h5M45.6 24.62h-2.5M295.1 24.62h2.5" stroke="#333" stroke-width="1" fill="none"/>
<rect x="45.6" y="24.9" width="249.5" height="166.4" fill="none" stroke="#333" stroke-width="1.3"/>
<line x1="222.7" y1="30.3" x2="241.2" y2="30.3" stroke="#3f9a62" stroke-width="1.4"/>
<text x="242" y="33.7" font-size="9.6">SPB</text>
<line x1="222.7" y1="40.5" x2="241.2" y2="40.5" stroke="#a3262a" stroke-width="1.4"/>
<text x="242" y="43.9" font-size="9.6">UB</text>
<line x1="222.7" y1="50.8" x2="241.2" y2="50.8" stroke="#6aaed8" stroke-width="1.4"/>
<text x="242" y="54.2" font-size="9.6">NACV</text>
<line x1="222.7" y1="61" x2="241.2" y2="61" stroke="#1a1af0" stroke-width="1.4"/>
<text x="242" y="64.4" font-size="9.6">SATA in EA</text>
<line x1="222.7" y1="69.7" x2="241.2" y2="69.7" stroke="#e08ee0" stroke-width="1.4"/>
<text x="242" y="73.1" font-size="9.6">AO</text>
<text x="45.6" y="210.8" font-size="9.6" text-anchor="middle">-10</text>
<text x="87.18" y="210.8" font-size="9.6" text-anchor="middle">-5</text>
<text x="128.77" y="210.8" font-size="9.6" text-anchor="middle">0</text>
<text x="170.35" y="210.8" font-size="9.6" text-anchor="middle">5</text>
<text x="211.93" y="210.8" font-size="9.6" text-anchor="middle">10</text>
<text x="253.52" y="210.8" font-size="9.6" text-anchor="middle">15</text>
<text x="295.1" y="210.8" font-size="9.6" text-anchor="middle">20</text>
<text x="34" y="194.8" font-size="9.6" text-anchor="end">-1.5</text>
<text x="34" y="167.9" font-size="9.6" text-anchor="end">-1.0</text>
<text x="34" y="141" font-size="9.6" text-anchor="end">-0.5</text>
<text x="34" y="114.1" font-size="9.6" text-anchor="end">0.0</text>
<text x="34" y="87.2" font-size="9.6" text-anchor="end">0.5</text>
<text x="34" y="60.3" font-size="9.6" text-anchor="end">1.0</text>
<text x="34" y="33.4" font-size="9.6" text-anchor="end">1.5</text>
<text x="170.3" y="226.8" font-size="12" text-anchor="middle">Lag days</text>
<text transform="translate(9.2,108) rotate(-90)" font-size="12" text-anchor="middle">STD</text>
<text x="32.5" y="9.2" font-size="11.5">(a)</text>
<defs><clipPath id="bclip"><rect x="55.7" y="261.7" width="231.6" height="232.5"/></clipPath><pattern id="stip" width="3.9" height="3.9" patternUnits="userSpaceOnUse"><circle cx="0.97" cy="0.97" r="0.72" fill="#fff" fill-opacity="0.25"/><circle cx="2.92" cy="2.92" r="0.72" fill="#fff" fill-opacity="0.25"/></pattern></defs>
<g clip-path="url(#bclip)">
<rect x="55.7" y="261.7" width="231.6" height="232.5" fill="#fff"/>
<path d="M57.2 261.7 287.3 261.7 287.3 339.3 282.9 338.9 277.1 339.2 258.2 342.4 246.5 343.8 226.1 344.8 218.8 344.8 215.9 344.5 213 343.6 211.4 342.1 210.8 340.7 209.7 334.8 208 333.4 204.3 332.9 198.4 333.4 192.4 334.8 190.1 336.3 189.3 337.7 189.1 339.2 190.2 343.6 192.6 347 199.9 352.9 205.4 358.2 210.1 361.3 213.5 362.6 217.4 363.5 233.4 365.8 243.6 368.1 253.8 371.6 269.7 378.7 275.6 380.7 281.5 381.8 287.3 381.6 287.3 494.2 204.5 494.2 207.2 493.2 208.6 491.5 209.3 488.4 209.5 484 209.1 478.1 208.3 473.7 206.8 469.3 204.3 464.8 199.9 459.5 195.4 456.2 180.5 450.3 173.7 448.9 170.8 449.2 167.9 450.2 164 453.3 160.2 457.6 158.3 460.6 157.3 463.5 157.2 466.4 158.5 470.8 166.9 488.4 169.3 491.1 170.8 492.2 176.2 494.2 55.7 494.2 55.7 268.5 58.6 270.5 61.5 271.1 64.4 271 67 270.5 69.8 269 71.2 267.5 71.8 266.1 71.4 264.6 67.4 263.2 60.1 263 57.8 263.2 55.7 263.8 55.7 261.7ZM149.3 290.9 149 292.4 150.4 294.1 151.8 294.7 153.3 294.7 154.5 293.9 154.9 292.4 154.1 290.9 151.8 289.8 150.4 290.1ZM62.7 426.9 61.8 428.4 61.6 429.9 62 431.3 63 433 64.8 434.2 67.4 434.6 68.8 434.2 70.3 433 71.1 431.3 71 429.9 70.5 428.4 69 426.9 65.9 425.9 64.4 426 63 426.7Z" fill="#fffbee"/>
<path d="M135.8 263 145.1 261.7 171.5 261.7 179.5 262.1 190.8 261.7 287.3 261.7 287.3 330 282.9 329.7 277.1 330.2 252.3 335.8 246.5 336.7 240.7 337.1 234.9 336.7 230.5 335.5 227.6 333.4 223.2 329 221 327.5 217.4 326.1 214.5 325.5 208.6 325.6 192.6 328.9 181.6 329 181 329.2 180.1 330.4 180.9 333.4 185 342.1 188.5 348 191.3 350.9 200.6 358.2 207.2 362.5 214.5 364.8 231.9 367.4 240.7 369.4 250.9 373.1 272.7 383.1 280 385.1 287.3 385.4 287.3 490.3 282.9 490.8 277.1 490.6 269.8 489.8 262.5 488.5 258.2 488.2 253.8 489.1 245.3 492.7 239.2 493.8 227.6 494.1 221.8 493.6 218.7 492.7 215.9 490.6 214.5 486.9 213.9 481 213.6 467.9 212.8 463.5 210.3 457.6 207.2 453.5 202.8 450.5 198.4 449.1 178.8 444.5 170.8 443.6 164.3 444.5 160.9 445.9 158.7 447.4 153.8 451.8 151.2 454.7 149.5 457.6 148.5 460.6 147.8 467.9 148.3 472.3 149 475.2 151.1 479.6 155.7 486.9 159.6 494.2 104.1 494.2 101.9 492.7 96.5 491 89.2 489.9 81.9 489.6 71.7 490.5 65.9 491.8 58 494.2 55.7 494.2 55.7 275.9 60.1 276.7 64.4 276.8 68.8 276.5 73.2 275.7 78.8 273.4 86.3 267.5 89.2 266.3 92.1 265.6 99.4 265.3 114 266.6 134.4 263.2ZM146.5 282.2 141.6 284 140.2 285.1 139.1 286.6 138.6 288 138.7 289.5 140 292.4 144.3 296.8 150.4 300.4 154.7 301.3 156.2 301.2 159.1 299.9 161.9 296.8 163.1 293.9 163.1 289.5 162 286.6 159.2 283.6 156.2 282.3 151.8 281.6 147.5 282ZM61.5 422.5 60.1 423.6 58.8 425.5 58.1 428.4 58.5 432.8 60.1 435.9 63 438.2 65.9 439 70.3 438.6 73.2 437.2 74.7 435.7 75.9 432.8 75.7 429.9 74.5 426.9 71.7 424.2 68.8 422.6 64.4 421.9 61.5 422.5Z" fill="#fff2c6"/>
<path d="M208.6 262.9 212.6 261.7 287.3 261.7 287.3 320.2 280 321.6 258.2 326.9 248 328.2 243.6 328.1 239.2 327.4 224.7 322.5 220.3 321.6 215.9 321.2 208.6 321.6 197 324.2 192.6 324.7 188.3 324.4 178.1 321.9 175.1 321.8 173.7 322.2 172.3 323.1 171.5 324.6 171.2 326 171.4 327.5 172.6 330.4 179.5 339.1 184 346.5 186.8 350.3 192.3 355.3 202.9 362.6 207.2 364.6 211.6 365.9 230.5 368.8 239.2 370.9 249.4 374.9 265.5 383 272.7 386.1 280 388.1 287.3 388.7 287.3 464.2 281.5 464.4 278.7 465 275.1 466.4 265.5 473.2 253.8 478.7 250.9 481 244.1 488.4 240.7 490.4 237.8 491.4 233.4 492 226.1 491.7 223.2 490.9 221.2 489.8 219.8 488.4 218.8 486.6 218.1 484 217.9 479.6 218.6 473.7 220.3 466.4 220.3 462 218.9 459.1 216.8 456.2 213.2 451.8 210.1 449 205.7 446.7 199.9 445.2 173.7 440.6 167.9 440.1 162 440.2 157.7 441.1 154.1 443 147.5 448.2 144.6 451.6 142.8 456.2 141.2 469.3 139.6 476.7 137.3 481.2 135.8 482.7 132.9 484.7 127.1 486.6 119.8 487.4 89.2 485.9 74.6 486.2 69.4 486.9 64.4 488 55.7 491.3 55.7 429.7 56.8 435.7 58.6 439 61.5 441.2 65.9 442.4 71.7 441.9 76.1 440 78.6 437.2 79.2 435.7 79.6 432.8 78.8 428.4 76 424 71.7 420.7 68.8 419.5 65.9 418.7 61.5 418.7 58.6 420.1 56.8 422.5 56 425.5 55.7 428 55.7 280.4 83.4 281.5 87.7 282.4 96.2 286.6 99.4 287.3 105.2 287.8 118.3 287.6 124.2 288.3 128.5 289.9 131.4 291.6 143.1 299.7 148.9 303.3 153.3 305.1 157.7 305.5 160.6 304.7 163.6 302.6 166.9 298.3 168.9 293.9 169.8 289.5 169.8 285.1 169 280.7 167.2 276.3 164.9 274.1 162 273.7 141.6 275.2 135.8 275.1 134.4 274.7 132.7 273.4 132.6 271.9 133.5 270.5 135.5 269 138.9 267.5 145.1 266.1 151.8 265.6 157.7 266.4 160.9 267.5 166.4 270.6 169.3 270.9 184.1 267.5 199.9 265 207.7 263.2ZM59.5 388.9 59 390.4 59 391.8 60.1 393.8 61.5 394.5 63 394.4 64.8 393.3 65.3 391.8 65.1 390.4 64.2 388.9 63 388 61.5 387.6 60.1 388.2ZM134.4 494.2 134.7 494.2 132.9 494.2Z" fill="#fde89c"/>
<path d="M218.8 263.1 223.5 261.7 287.3 261.7 287.3 311.5 265.5 318.8 258.2 320.5 250.9 321.4 243.6 321.1 229 317.9 220.3 317.1 211.6 317.6 197 320.4 191.2 320.7 186.8 319.9 176.6 316.8 173.7 316.3 170.8 316.3 168.8 317.3 167.9 318.5 167.3 320.2 167 323.1 167.7 327.5 169.9 331.9 177.3 340.7 182.9 349.4 185.3 352.6 188.2 355.3 192.2 358.2 201.4 363.9 205.7 365.8 210.1 367.2 229 370.1 237.8 372.3 246.6 375.8 264 385 271.3 388.3 280 390.9 287.3 391.7 287.3 460.4 278.6 460.5 271.2 462 263.5 465 250.9 470.5 248.1 472.3 246.5 473.9 241.4 484 238.8 486.9 234.9 488.8 231.9 489.3 229 489.3 226.1 488.4 224 486.9 222.4 484 222 481 222.3 478.1 223.2 475.1 228.3 466.4 228.7 463.5 228.3 462 224.8 457.6 213.9 447.4 208.9 444.5 204.1 443 160.6 435.8 156.2 435.5 153.3 436.2 150.4 437.8 139.1 445.9 136.4 448.9 135.5 451.8 136.2 462 135 467.9 133.5 470.8 131.4 473.3 127.1 476.3 119.8 479 109.6 481.3 97.9 482.4 77.5 482.7 70.3 483.2 63 484.5 55.7 487.4 55.7 439.6 58.2 443 60.7 444.5 64.4 445.4 70.3 445.3 76.1 444 80.5 441.6 82.5 438.6 83.1 435.7 82.3 429.9 80.5 425.5 77.5 421.6 74.6 419.2 68.8 416.2 63 414.8 58.6 415.1 57.2 415.8 55.7 417.3 55.7 401.2 57.2 401.9 60.1 402.2 63 401.7 65.9 400.7 70.5 397.7 71.7 396.1 72.5 393.3 72 390.4 70.6 387.5 68.3 384.5 64.9 381.6 63 380.6 60.1 379.8 57.2 380.5 55.7 381.9 55.7 284.4 65.9 284.6 74.6 285.8 80.5 287.7 90.7 292 95 293.1 100.9 293.5 118.3 293.2 127.1 294.5 134.4 297.3 151.8 307.8 157.7 309.6 162 309.9 164.9 308.9 167.9 305.9 175.4 293.9 181 280.9 182.4 278.8 185 276.3 190.1 273.4 205.7 268.8 218.7 263.2Z" fill="#fdc86a"/>
<path d="M229 263.1 237.7 261.7 287.3 261.7 287.3 304.6 264 312.8 258.2 314.3 252.3 315 245.1 314.7 233.4 312 227.6 311.5 218.8 312.4 198.4 316.1 192.6 316.5 188.3 315.8 183.9 314.3 178.2 311.4 176.7 310 176 308.5 175.9 307 177.7 302.6 189.7 287.4 192.6 284.2 197 281 207.2 275.4 218.1 267.5 224 264.6 228.8 263.2ZM58.6 288 64.4 288.1 70.3 289 74.6 290.3 84.8 294.4 92.1 296.2 99.4 296.8 114 296.4 121.2 296.7 128.5 297.9 134.4 300 138.7 302.4 150.4 309.9 157.7 313.9 160.2 315.8 162.1 318.7 165.4 329 167.9 333.4 175.4 342.1 180.9 350.9 183.1 353.8 186.8 357.2 192.5 361.1 200.4 365.5 207.2 368 213 369.3 229 371.7 237.8 374 245.1 377.2 262.5 386.9 269.8 390.4 278.6 393.2 287.3 394.6 287.3 457.8 281.5 457.6 274.2 458.2 268.4 459.2 252.3 463.2 248 463.8 243.6 463.6 240.7 462.8 233.4 458.5 226.1 453.6 215.9 445.3 210.1 442.2 202.8 440.3 172.2 435.2 166.4 433.7 157.7 430.6 153.3 430.2 150.4 431.3 141.6 438.5 130.8 444.5 127.4 447.4 126.7 448.9 126.4 451.8 128.7 459.1 128.9 462 128.6 463.5 127.1 466.4 125.8 467.9 121.2 471.1 109.6 476.2 100.9 478.4 92.1 479.4 67.4 479.9 61.5 480.9 55.7 483 55.7 445.5 58.6 447.6 63 448.6 68.8 448.6 74.6 447.7 80.5 446 83.7 444.5 85.5 443 86.4 441.6 87 438.6 86.5 434.2 85.3 429.9 83.5 425.5 81.9 422.5 77.5 417.7 69.6 412.3 67.7 410.9 66.8 409.4 67 407.9 68 406.5 74.5 400.6 76.5 397.7 77.1 396.2 77.2 393.3 75.7 388.9 71.7 383 68.8 379.9 65.9 377.6 63 375.9 60.1 374.8 57.2 374.5 55.7 374.8 55.7 288.3 58 288ZM231.9 476.2 234.1 476.7 235.1 478.1 235.3 479.6 235.1 481 234.3 482.5 231.9 484 230.5 484.1 229 483.3 228.2 481 229 478.1 230.6 476.7Z" fill="#fdb24a"/>
<path d="M248 263.1 258.4 261.7 287.3 261.7 287.3 297 281.5 299.6 266.9 304.5 261.1 306.2 255.3 307.3 250.9 307.5 246.5 306.9 233.4 302.3 227.6 301.3 223.2 302 212.4 307 208.3 308.5 202.1 310 197 310.4 194.1 310.2 192.6 309.9 190.1 308.5 189.2 307 189.1 305.6 190.9 302.6 194.3 299.7 205.5 292.4 208.6 289.5 210.8 286.6 216.6 276.3 218.8 273.4 221.8 270.5 226.3 267.5 230.5 265.9 236.2 264.6 247.2 263.2ZM57.2 292.2 61.5 291.8 67.1 292.4 81.9 297.3 89.2 298.7 97.9 299.3 121.2 299.2 128.5 300.3 134.4 302.4 140.2 305.7 152.9 314.3 157.7 318.4 159.7 321.7 162.8 329 164.9 332.9 173.6 343.6 179.8 353.8 183.9 358.1 188.3 361.1 197 365.9 204.3 368.8 211.6 370.5 227.6 372.9 236.3 375.3 243.8 378.7 259.6 388.1 268.4 392.5 277.1 395.4 287.3 397.4 287.3 455.6 281.5 455.3 274.2 455.6 252.3 458.6 245.1 458.2 237.8 455.9 230.5 452.4 226.1 449.6 217.3 443 211.6 440.2 204.3 438.4 181 434.6 172.2 432.8 166.4 430.7 157.7 426.3 153.3 425.3 151.8 425.5 148.9 426.8 141.2 434.2 137.3 437 132.9 439.2 123.4 443 118.4 445.9 117.1 447.4 116.3 450.3 118.7 459.1 118.4 462 117.8 463.5 115.3 466.4 111.7 469.3 108.1 471.5 100.9 474.6 93.6 476 84.8 476.4 64.4 476.1 60.1 476.5 55.7 477.6 55.7 451.6 58.6 452.4 64.4 452.4 71.7 451.4 79 449.9 84.8 448.4 89.2 446.6 92.1 444.5 92.8 443 92.8 441.6 91.9 438.6 85.2 422.5 81.9 417.5 77.3 412.3 76.3 410.9 75.9 409.4 76.7 406.5 80.5 400.7 81.5 397.7 81.6 394.8 80.2 390.4 77.6 386 74.6 381.9 68.8 375.7 63 371.7 58.6 369.9 55.7 369.2 55.7 292.5 56.1 292.4Z" fill="#fb9b2a"/>
<path d="M268.4 263.1 284.4 261.9 284.9 263.2 285.3 277.8 284.8 285.1 284 288 282.9 289.8 281.5 291.3 278.6 293.1 272.7 295.2 264 297.1 256.7 297.8 250.9 297.4 245.1 295.8 231.9 290.4 227.8 288 225.2 285.1 224.1 282.2 224.4 277.8 225.8 274.9 227 273.4 230.7 270.5 234.1 269 240 267.5 267.4 263.2ZM285.8 261.7 287.3 261.7 285.2 261.7ZM61.5 296.8 65.9 297.2 76.1 299.8 83.4 301 95 301.6 121.2 301.5 128.5 302.6 134.4 304.6 138.7 307.1 144.8 311.4 152.6 317.3 155.5 320.2 157.7 323.3 162.7 333.4 171.7 345 177.3 355.3 179.7 358.2 183.9 361.4 194.6 367 202.4 369.9 210.1 371.7 227.2 374.3 234.9 376.6 242.3 380.1 259.6 390.9 266.9 394.7 275.6 397.7 287.3 400.2 287.3 453.5 274.2 453.2 252.3 454.6 248 454.4 243.6 453.6 237.8 451.9 231.9 449.5 227.6 447 219.8 441.6 213.8 438.6 205.7 436.5 181 432.3 173.7 430.7 167.8 428.4 157.7 422.2 153.3 420.9 150.4 421.3 147.5 422.8 138 432.8 134.4 435.2 128.5 437.6 116.9 440.7 109.6 441.8 103.8 441.3 99.4 439.3 95 435.4 92.3 431.3 87.4 419.6 83.8 412.3 83.4 410.9 83.5 407.9 85.6 402.1 86.1 397.7 85.7 394.8 83.7 390.4 76.7 380.1 70.3 372.9 63 367.5 55.7 364 55.7 297.8 60.7 296.8ZM87.7 451.6 93.6 450.7 97.9 450.6 100.9 451 103.8 452.2 106.7 454.5 108.7 457.6 109.2 460.6 108.4 463.5 106.2 466.4 102.3 469.4 96.5 471.8 90.7 472.8 83.4 473 73.2 472.3 64.7 470.8 59 469.3 55.7 468 55.7 461.1 58.9 459.1 67.3 456.2 86.9 451.8Z" fill="#f98a25"/>
<path d="M261.1 267.5 266.9 266.8 272.7 266.8 276 267.5 278.2 269 279.2 270.5 280 273 280.2 277.8 279.1 282.2 277.1 285.1 274.2 287.2 269.8 288.8 264 289.6 258.2 289.5 252.3 288.4 246.5 286.4 241 283.6 237.7 280.7 237 279.2 237 277.8 237.6 276.3 239 274.9 240.7 273.9 249.9 270.5 261.1 267.5ZM83.4 304.1 121.2 303.7 128.5 304.8 134.4 306.9 138.7 309.5 143.3 312.9 150.4 318.5 153.5 321.7 156.2 325.5 161.9 336.3 169.5 346.5 175.1 357.9 178.1 361.1 180.2 362.6 189.2 367 199.9 371 207.2 372.7 224.7 375.3 231.9 377.3 240.7 381.6 256.7 392.3 265.5 397.2 272.7 399.8 287.3 403.3 287.3 451.4 275.6 450.8 253.8 450.8 248 450.2 240.7 448.9 231.9 445.8 221.8 439.5 214.5 436.4 207.2 434.7 180.7 429.9 173.7 428 168.5 425.5 159.1 418.7 156.2 417.3 153.3 416.5 148.9 416.9 146 418.5 143.1 421.5 139.2 426.9 136.7 429.9 132.9 432.6 128.5 434.4 119.8 436.4 111.1 437 105.2 436.3 102.3 435.3 99.4 433.7 96.7 431.3 95 429.1 93.3 425.5 92 421.1 90.4 412.3 91.5 403.5 91.4 400.6 90.4 396.2 88.2 391.8 77.5 376.7 71.7 369.9 67.4 366 61.5 361.6 58.6 359.8 55.7 358.6 55.7 305.9 71.7 304.5 82 304.1ZM86.3 456.2 93.6 456.1 97.9 457.5 99.7 459.1 100.4 460.6 100.5 462 99.9 463.5 97.9 465.6 95 467.3 92.1 468.3 87.7 468.9 83.4 468.8 77.5 467.9 73.4 466.4 71.5 465 70.8 463.5 71.1 462 72.5 460.6 75 459.1 79 457.7 86.3 456.2Z" fill="#f46f22"/>
<path d="M264 274.8 265.5 274.5 267.9 274.9 269 276.3 268.5 277.8 265.5 279.2 264 279.1 262.5 278.5 261.7 277.8 261.7 276.3 263.7 274.9ZM84.8 307 96.5 306.2 119.8 305.9 127.1 306.6 132.9 308.5 137.3 311 141.7 314.3 148.9 320.4 152.8 324.6 160 337.7 166.8 348 171.5 359.7 173.7 362.4 175.8 364.1 182.4 367.2 197 372.2 205.7 374 223.2 376.7 230.3 378.7 238.7 383.1 258.2 397.2 262.5 399.7 269.8 402.4 281.6 405 287.3 406.7 287.3 449.3 258.2 446.8 243.6 444.8 237.8 443.5 232.5 441.6 223.2 436.8 217.4 434.7 181 427.2 175.1 425.5 169.8 422.5 159.1 414.1 154.7 411.9 151.8 411.1 147.5 411.3 144.6 412.6 143.1 413.7 140.6 416.7 136.8 424 134.8 426.9 131.4 429.7 128.5 431.1 121.2 432.7 114 433 106.7 432 101.8 429.9 99 426.9 97.4 422.5 97.2 418.2 99.3 409.4 99.4 406.5 98.3 402.1 95.4 396.2 84.4 381.6 76.1 369.8 68.4 361.1 63 354.3 60.1 352.3 58.6 352 55.7 352.2 55.7 317.2 74.6 309.2 79 308 84.8 307Z" fill="#ee5a20"/>
<path d="M97.9 308.5 118.3 308.2 125.6 308.7 131.4 310.3 134.4 311.8 138 314.3 147.5 322.4 151.8 327.5 157.7 339.1 162.8 348 164.4 352.4 166.2 359.7 167.5 362.6 169.3 364.9 172.2 367 178.1 369.4 194.1 373.7 201.4 375.2 220.3 377.9 228.3 380.1 234.1 383.1 240.3 387.5 247.3 393.3 255.3 401 259.6 404.2 265.5 406.2 281.5 409 287.3 411.2 287.3 446.8 273.1 444.5 267.7 443 264.2 441.6 259.8 438.6 257.2 435.7 256.5 434.2 264 431.2 266.9 429.4 267.8 428.4 267.6 426.9 264.9 425.5 262.5 425.1 259.6 425.4 256.8 426.9 255.8 428.4 255.4 429.9 255.7 432.8 255.3 433.5 253.9 434.2 247.2 435.7 242.1 436.3 234.9 435.9 221.8 432.7 205.7 429.8 181.3 424 175.1 421.6 170.8 418.6 162 410.4 154.7 404.2 150.4 401.5 147.5 400.9 144.6 401.2 140.2 402.8 136.9 405 134.1 407.9 132.9 410.9 133 418.2 132.4 421.1 130.9 424 128.5 426.3 124.2 428 118.3 428.4 111.1 427 108.2 425.5 107 424 106.6 422.5 106.8 421.1 108.3 418.2 113.1 412.3 113.7 410.9 113.7 409.4 113.1 407.9 109.3 403.5 92.1 386.8 86.7 380.1 74.1 359.7 72.4 355.3 70.3 348 68.6 345 67.3 343.6 64.4 341.6 60.1 339.7 57.2 339.5 55.7 340.8 55.7 332.9 57 329 59.2 324.6 63 320.8 71.3 315.8 80.8 311.4 87.7 309.6 97.4 308.5Z" fill="#e23a1e"/>
<path d="M96.5 311.3 118.3 310.9 125.6 311.4 130 312.6 132.9 314 139.1 318.7 147 326 150.4 330.7 159 350.9 161 362.6 161.8 365.5 163.5 368.6 166.4 370.9 172.2 372.6 191.2 376 212.5 378.7 220.3 380.1 227.6 382.6 233.2 386 238.5 390.4 242.8 394.8 245.9 399.2 247.1 402.1 247.6 405 246.9 409.4 244.2 415.2 241.2 419.6 236.3 424.5 233.4 426.3 229 427.9 224.7 428.5 218.8 428.6 213 428.1 205.8 426.9 182.4 420 178.3 418.2 175.1 416.1 170.8 412 165 405 162.2 400.6 156.2 389.1 154.7 387.4 153.3 386.5 151.8 386.2 148.9 386.6 131.4 395.1 125.6 396.8 121.2 397.3 116.9 396.9 111.1 395.1 103.8 391.4 97.9 387.5 92.1 382.2 87.6 375.8 80.5 359.7 76.5 345 73.7 340.7 66.8 333.4 65.5 330.4 65.4 329 65.8 327.5 67.7 324.6 71.1 321.7 75.5 318.7 84.8 314 89.2 312.5 95.1 311.4ZM287.3 423.3 287.3 443.5 282.2 441.6 280.3 440.1 279.6 438.6 279.7 437.2 280.2 435.7 285.1 428.4 286.9 424Z" fill="#cf2020"/>
<path d="M116.9 314.3 124.2 314.6 130 316.4 135.5 320.2 144.6 328.7 147.5 333.2 148.9 337.1 153 352.4 153.8 358.2 153.5 364.1 152.2 368.4 149.3 372.8 143.8 378.7 138.7 383.1 132.9 386.7 127.1 388.7 121.2 389.6 114 389.1 105.2 386.6 98.6 383.1 93.8 378.7 91.9 375.8 90.2 371.4 87.4 359.7 83.1 345 81.1 340.7 75.5 331.9 74.9 329 76 326 78.9 323.1 85.6 318.7 90.7 316.4 95 315.2 99.4 314.6 116.1 314.3ZM170.8 380.1 175.1 379.1 179.5 378.9 204.3 380.4 214.5 381.6 220.3 383 224 384.5 228.8 387.5 232.1 390.4 235.9 394.8 237.8 397.7 238.8 400.6 239.1 403.5 238.7 406.5 237.7 409.4 234.1 415.2 229.3 419.6 223.5 422.5 217.4 423.9 211.6 423.8 205.7 422.6 185.3 414.9 180.6 412.3 176.6 409 172.2 403.8 169.7 399.2 167.3 391.8 166.9 386 167.9 382.8 168.7 381.6 170.7 380.1Z" fill="#b8101a"/>
<path d="M118.3 320.2 124.2 320.7 128.5 322.4 135.8 328 140.2 332.7 141.6 335.4 142.7 339.2 144.5 356.7 144 361.1 142.2 365.5 138.7 371.4 135.3 375.8 131.8 378.7 128.5 380.3 124.2 381.5 119.8 382 112.5 381.7 106.7 380.8 101.6 378.7 98.4 375.8 97 372.8 96.5 370.8 96.1 359.7 90.7 345.8 87.8 336.3 87 331.9 87.4 329 89.4 326 93.3 323.1 96.5 321.7 102.3 320.6 117.7 320.2ZM194.1 384.5 202.8 384.4 210.1 385.1 214.5 386.1 217.8 387.5 220.2 388.9 224.4 393.3 227.9 399.2 228.5 403.5 227.7 406.5 226.7 407.9 224.7 409.9 221.8 411.5 218.8 412.3 215.9 412.5 207.2 410.6 197 409.5 192.6 408.7 188.3 407.2 184.4 405 181 401.7 178.6 397.7 177.6 393.3 178.1 390.2 180.2 387.5 183.3 386 186.8 385.2 193.6 384.5Z" fill="#9a0c18"/>
<path d="M233.4 355.2 242.1 354.5 250.9 354.5 259.6 355.2 265.5 356.4 269.8 358 272.7 359.7 275.3 362.6 275.8 364.1 275.8 365.5 274.1 367 271.3 367.3 268.1 367 234.6 359.7 229.5 358.2 228.1 356.7 232.5 355.3Z" fill="#f4f9fd"/>
<path d="M252.3 263 262.1 261.7 287.3 261.7 287.3 294.9 284.4 296.8 278.6 299.2 264 303.7 256.7 305.3 252.3 305.6 248 305.2 243.6 303.9 231.9 299.4 227.6 298.5 223.2 298.3 218.8 299.2 212.1 304.1 209.5 305.6 205.4 307 198.4 307.9 195.1 307 194.3 305.6 194.8 304.1 196 302.6 200.2 299.7 209.4 295.3 211.6 293.6 212.9 290.9 215 283.6 217.4 277.8 220.4 273.4 223.3 270.5 227.6 267.8 232.4 266.1 239.2 264.8 251.3 263.2ZM57.2 293.1 61.5 292.6 65.9 293.1 70.3 294.2 80.5 297.6 87.7 299.1 96.5 299.8 121.2 299.7 128.5 300.8 134.4 302.9 140.2 306.2 152 314.3 157.1 318.7 159.1 321.7 162.3 329 164.7 333.4 173 343.6 179.1 353.8 182.4 357.6 187.3 361.1 197 366.3 204.3 369.1 211.6 370.7 227.6 373.2 236.3 375.7 242.9 378.7 259.6 388.6 266.9 392.4 275.6 395.6 287.3 397.9 287.3 455.2 281.5 454.9 274.2 455.1 252.3 457.8 248 457.7 243.6 457 237.8 455 230.5 451.6 226.1 448.9 218.3 443 211.6 439.7 204.3 437.9 181 434.1 172.2 432.3 166.4 430.1 157.7 425.4 153.3 424.4 150.4 425 148.9 425.8 141.6 432.9 137.3 436.3 131.4 439.1 121.1 443 115.8 445.9 114.5 447.4 113.9 448.9 113.9 450.3 116.3 457.6 116.6 460.6 116.3 462 115.6 463.5 113.2 466.4 109.7 469.3 106.7 471.2 99.4 474.2 92.1 475.5 83.4 475.8 63 475.2 58.6 475.5 55.7 476.3 55.7 453 60.1 453.5 65.9 453 81.9 449.9 87.7 448.2 92.1 446.3 94.3 444.5 94.6 443 93.7 440.1 85.1 421.1 77.8 410.9 77.4 409.4 77.6 407.9 81.6 400.6 82.4 397.7 82.4 394.8 80.9 390.4 78.3 386 75.1 381.6 68.8 374.9 63 370.9 58.6 369 55.7 368.2 55.7 293.4Z" fill="url(#stip)"/>
</g>
<path d="M55.7 494.2h-5M287.3 494.2h5M55.7 487.56h-2.5M287.3 487.56h2.5M55.7 480.91h-2.5M287.3 480.91h2.5M55.7 474.27h-2.5M287.3 474.27h2.5M55.7 467.63h-2.5M287.3 467.63h2.5M55.7 460.99h-5M287.3 460.99h5M55.7 454.34h-2.5M287.3 454.34h2.5M55.7 447.7h-2.5M287.3 447.7h2.5M55.7 441.06h-2.5M287.3 441.06h2.5M55.7 434.41h-2.5M287.3 434.41h2.5M55.7 427.77h-5M287.3 427.77h5M55.7 421.13h-2.5M287.3 421.13h2.5M55.7 414.49h-2.5M287.3 414.49h2.5M55.7 407.84h-2.5M287.3 407.84h2.5M55.7 401.2h-2.5M287.3 401.2h2.5M55.7 394.56h-5M287.3 394.56h5M55.7 387.91h-2.5M287.3 387.91h2.5M55.7 381.27h-2.5M287.3 381.27h2.5M55.7 374.63h-2.5M287.3 374.63h2.5M55.7 367.99h-2.5M287.3 367.99h2.5M55.7 361.34h-5M287.3 361.34h5M55.7 354.7h-2.5M287.3 354.7h2.5M55.7 348.06h-2.5M287.3 348.06h2.5M55.7 341.41h-2.5M287.3 341.41h2.5M55.7 334.77h-2.5M287.3 334.77h2.5M55.7 328.13h-5M287.3 328.13h5M55.7 321.49h-2.5M287.3 321.49h2.5M55.7 314.84h-2.5M287.3 314.84h2.5M55.7 308.2h-2.5M287.3 308.2h2.5M55.7 301.56h-2.5M287.3 301.56h2.5M55.7 294.91h-5M287.3 294.91h5M55.7 288.27h-2.5M287.3 288.27h2.5M55.7 281.63h-2.5M287.3 281.63h2.5M55.7 274.99h-2.5M287.3 274.99h2.5M55.7 268.34h-2.5M287.3 268.34h2.5M55.7 261.7h-5M287.3 261.7h5M55.7 494.2v5M55.7 261.7v-5M84.65 494.2v3M84.65 261.7v-3M113.6 494.2v5M113.6 261.7v-5M142.55 494.2v3M142.55 261.7v-3M171.5 494.2v5M171.5 261.7v-5M200.45 494.2v3M200.45 261.7v-3M229.4 494.2v5M229.4 261.7v-5M258.35 494.2v3M258.35 261.7v-3M287.3 494.2v5M287.3 261.7v-5" stroke="#333" stroke-width="1" fill="none"/>
<rect x="55.7" y="261.7" width="231.6" height="232.5" fill="none" stroke="#333" stroke-width="1.2"/>
<text x="42" y="497.8" font-size="10" text-anchor="end">-15</text>
<text x="42" y="464.59" font-size="10" text-anchor="end">-10</text>
<text x="42" y="431.37" font-size="10" text-anchor="end">-5</text>
<text x="42" y="398.16" font-size="10" text-anchor="end">0</text>
<text x="42" y="364.94" font-size="10" text-anchor="end">5</text>
<text x="42" y="331.73" font-size="10" text-anchor="end">10</text>
<text x="42" y="298.51" font-size="10" text-anchor="end">15</text>
<text x="42" y="265.3" font-size="10" text-anchor="end">20</text>
<text x="55.7" y="516.4" font-size="10.5" text-anchor="middle">0</text>
<text x="113.6" y="516.4" font-size="10.5" text-anchor="middle">60E</text>
<text x="171.5" y="516.4" font-size="10.5" text-anchor="middle">120E</text>
<text x="229.4" y="516.4" font-size="10.5" text-anchor="middle">180</text>
<text x="287.3" y="516.4" font-size="10.5" text-anchor="middle">120W</text>
<text transform="translate(15.2,378.5) rotate(-90)" font-size="13" text-anchor="middle">Lag days</text>
<text x="30" y="244.3" font-size="11.5">(b)</text>
<rect x="57.3" y="524.8" width="7.94" height="10.1" fill="#0f1f5c"/>
<rect x="64.94" y="524.8" width="7.94" height="10.1" fill="#14307a"/>
<rect x="72.59" y="524.8" width="7.94" height="10.1" fill="#1a4898"/>
<rect x="80.23" y="524.8" width="7.94" height="10.1" fill="#2862ae"/>
<rect x="87.87" y="524.8" width="7.94" height="10.1" fill="#3a7cc0"/>
<rect x="95.51" y="524.8" width="7.94" height="10.1" fill="#5a9cd6"/>
<rect x="103.16" y="524.8" width="7.94" height="10.1" fill="#74b0e0"/>
<rect x="110.8" y="524.8" width="7.94" height="10.1" fill="#8ccbee"/>
<rect x="118.44" y="524.8" width="7.94" height="10.1" fill="#a8d8f4"/>
<rect x="126.09" y="524.8" width="7.94" height="10.1" fill="#bde2f6"/>
<rect x="133.73" y="524.8" width="7.94" height="10.1" fill="#d2ebf8"/>
<rect x="141.37" y="524.8" width="7.94" height="10.1" fill="#e6f4fb"/>
<rect x="149.01" y="524.8" width="7.94" height="10.1" fill="#f4f9fd"/>
<rect x="156.66" y="524.8" width="7.94" height="10.1" fill="#ffffff"/>
<rect x="164.3" y="524.8" width="7.94" height="10.1" fill="#ffffff"/>
<rect x="171.94" y="524.8" width="7.94" height="10.1" fill="#fffbee"/>
<rect x="179.59" y="524.8" width="7.94" height="10.1" fill="#fff2c6"/>
<rect x="187.23" y="524.8" width="7.94" height="10.1" fill="#fde89c"/>
<rect x="194.87" y="524.8" width="7.94" height="10.1" fill="#fdc86a"/>
<rect x="202.51" y="524.8" width="7.94" height="10.1" fill="#fdb24a"/>
<rect x="210.16" y="524.8" width="7.94" height="10.1" fill="#fb9b2a"/>
<rect x="217.8" y="524.8" width="7.94" height="10.1" fill="#f98a25"/>
<rect x="225.44" y="524.8" width="7.94" height="10.1" fill="#f46f22"/>
<rect x="233.09" y="524.8" width="7.94" height="10.1" fill="#ee5a20"/>
<rect x="240.73" y="524.8" width="7.94" height="10.1" fill="#e23a1e"/>
<rect x="248.37" y="524.8" width="7.94" height="10.1" fill="#cf2020"/>
<rect x="256.01" y="524.8" width="7.94" height="10.1" fill="#b8101a"/>
<rect x="263.66" y="524.8" width="7.94" height="10.1" fill="#9a0c18"/>
<text x="71.29" y="547.9" font-size="10" text-anchor="middle">-120</text>
<text x="94.21" y="547.9" font-size="10" text-anchor="middle">-90</text>
<text x="117.14" y="547.9" font-size="10" text-anchor="middle">-60</text>
<text x="140.07" y="547.9" font-size="10" text-anchor="middle">-30</text>
<text x="163" y="547.9" font-size="10" text-anchor="middle">0</text>
<text x="185.93" y="547.9" font-size="10" text-anchor="middle">30</text>
<text x="208.86" y="547.9" font-size="10" text-anchor="middle">60</text>
<text x="231.79" y="547.9" font-size="10" text-anchor="middle">90</text>
<text x="254.71" y="547.9" font-size="10" text-anchor="middle">120</text>
<text x="274.5" y="534.5" font-size="11.5">gpm</text>
<defs>
<clipPath id="mc0"><rect x="330.8" y="20.5" width="231" height="82.8"/></clipPath>
<clipPath id="mc1"><rect x="330.8" y="103.3" width="231" height="82.8"/></clipPath>
<clipPath id="mc2"><rect x="330.8" y="186.2" width="231" height="82.8"/></clipPath>
<clipPath id="mc3"><rect x="330.8" y="269" width="231" height="82.8"/></clipPath>
<clipPath id="mc4"><rect x="330.8" y="351.9" width="231" height="82.8"/></clipPath>
<clipPath id="mc5"><rect x="330.8" y="434.8" width="231" height="82.8"/></clipPath>
</defs>
<g clip-path="url(#mc0)">
<rect x="330.8" y="20.5" width="231" height="82.8" fill="#fff"/>
<path d="M331.8 20.5 412.8 20.5 417.8 21.6 419 22.5 422.6 27.2 425.5 29.2 428.4 29.8 437.1 28.9 442 29.2 447.3 30.5 449.1 31.5 449.5 32.5 448.8 33.5 445.1 35.5 440 36.5 436.2 36.2 428.4 33.7 423.6 33.9 412 38.2 400.4 40.7 397.5 43 393.6 49.4 391.7 51 389.8 51.9 384 53 376.2 53.6 372.4 53.2 365.6 51.6 361.7 51.6 357.9 53 351.1 57.1 348.2 57.5 346.3 56.7 341.7 52.4 339.5 51.1 330.8 49.6 330.8 20.5ZM514.4 20.5 561.8 20.5 561.8 49.6 557 47.9 554.1 47.5 544.4 49 536.7 48.7 532.8 49.4 530.9 50.5 529 52.4 527.7 55.4 526 61 524.1 62 521.2 61 515.4 55.4 513.5 54.4 510.6 54 504.8 54.6 501.9 54 500.1 52.4 499.2 50.4 497.4 38.5 496.1 34.6 494.5 31.5 494.5 30.5 495.7 29.5 499 28.2 512.5 25.2 514.4 23.9 515.2 22.5 515.1 21.5 513.7 20.5ZM477.7 62.3 481.6 62 485.4 63.1 486.8 64.4 487.1 65.4 486.5 67.4 484.5 69.1 482.5 69.8 479.6 69.7 477.7 69 476.3 67.4 475.8 65.4 476.4 63.4 477.4 62.4ZM336.6 68.2 341.4 67.7 343.4 68.3 345.3 70 346.6 72.4 347.4 75.4 347.2 81.4 345.5 86.4 342.9 89.4 336.6 92.5 331.8 93.2 330.8 93 330.8 71.3 332.7 69.9 335.9 68.4ZM430.4 68.4 435.2 68.5 440.5 69.4 443.9 70.6 446.4 72.4 447.4 74.4 447.3 76.4 445.4 80.4 442.7 84.4 440 86.6 437.1 87.4 434.2 86.8 428.4 83.8 426.5 83.8 425.4 84.4 424.6 85.7 423.2 94.4 421.7 96.2 418.8 97 412 97.5 409.1 97 407.2 95.8 404.7 92.4 403.1 86.4 403 80.4 404.4 76.4 405.4 75.4 407.2 74.8 414.9 75.6 417.8 75.2 424.6 70 427.5 68.8 430 68.4ZM561.8 71.3 561.8 93 559.9 91.8 557.9 89.4 557 87.2 556.5 84.4 556.8 81.4 558 77.4 559.9 73.7 561.7 71.4Z" fill="#feeaa6"/>
<path d="M331.8 20.5 398.2 20.5 411 21.8 414.9 22.5 417 23.5 418.9 25.5 422.1 30.5 421.9 31.5 420.6 32.5 414.2 35.5 399.2 39.5 396.6 41.5 391.7 47.9 387.8 49.8 379.1 50.6 366.6 49.1 361.7 49 357.9 50.1 352.1 53.2 349.2 53.7 347.2 52.9 340.5 48.2 330.8 44.5 330.8 20.5ZM526 21.2 528.4 20.5 561.8 20.5 561.8 44.5 558.9 43.6 556 43.7 544.4 46.6 533.2 47.5 529.3 49.4 524.1 54.9 522.2 55.5 514.4 51.8 511.5 51.4 504.8 51.7 501.9 50.4 500.1 47.5 499.2 43.5 498.4 34.5 498.7 32.5 499.4 31.5 501 30.5 503.8 29.6 513.2 28.5 517 27.5 519.3 26.2 523.1 22.6 525.1 21.5ZM434.2 31.4 437.1 30.9 439.1 31.1 440.6 31.5 441.5 32.5 440 33.7 437.1 34 435.1 33.5 433.7 32.5 434.1 31.5ZM428.4 70.3 431.3 70.1 435.2 70.6 438.1 71.6 440.8 73.4 441.8 76.4 441.4 78.4 440 80.7 438.1 82.3 436.2 82.6 423 78.4 422.5 76.4 423.7 73.4 425.7 71.4 428.1 70.4ZM336.6 72.2 339.5 72 341.8 73.4 343.2 76.4 343.4 79.7 342.4 83.1 340.7 85.4 337.6 87.2 334.7 87.6 332.7 87.2 330.8 85.6 330.8 77.5 332.9 74.4 335.9 72.4ZM561.8 77.5 561.8 85.6 560.7 82.4 561.4 78.4ZM409.1 79.2 413.9 78.9 417.8 79.5 419.7 80.4 420.1 82.4 419.6 86.4 418.8 88.5 416.8 90.7 414.9 91.4 412 91.3 410.1 90.5 408.1 88.6 407.1 86.4 406.8 83.4 407.2 81.3 408.8 79.4Z" fill="#fdbb50"/>
<path d="M331.8 21.3 341.4 20.5 353 22.4 367.5 21.3 387.8 21.7 410.1 23.6 413.9 24.4 415.9 25.5 417.4 27.5 417.9 29.5 416.8 31.5 413.5 33.5 398.1 38.5 395.6 40.5 391.6 45.5 387.8 47.8 381.1 48.5 360.8 46.8 357.9 47.3 352.1 49.8 350.1 50.1 348.2 49.5 336.6 43.3 330.8 38.9 330.8 21.4ZM536.7 21.3 542.5 20.5 554.1 21.8 561.8 21.4 561.8 38.9 559.9 38 557.9 38.2 549.6 42.5 545.4 44.1 532.8 45.9 529.3 47.5 524.1 51.2 522.2 51.8 514.4 49.6 504.8 49.6 502.8 48.6 501.9 47.5 500.4 43.5 499.9 38.5 500.5 34.5 501.9 32.8 503.8 31.8 506.7 31.2 529.6 29.5 530.6 28.5 531 25.5 532.1 23.5 536 21.5ZM428.4 73.3 430.4 72.7 433.7 73.4 434.9 74.4 435.3 75.4 435.2 76.4 433.3 77.2 429.5 76.4 428.1 75.4 427.7 74.4 428.2 73.4Z" fill="#fa8c28"/>
<path d="M368.5 23.5 388.8 23.7 406.5 25.5 412 26.9 413.2 28.5 413.2 29.5 411.5 31.5 409.1 33 399.4 36.3 396.5 37.8 390.7 44.1 388.8 45.6 384 46.7 370.4 45.7 359.8 44.4 351.1 46 348.2 45.6 340.5 42.4 337.3 40.5 334.5 37.5 330.8 30.8 330.8 25.7 335.6 23.9 340.5 23.5 353 24.9 368.3 23.5ZM540.5 24.2 543.4 23.7 548.5 24.5 554.2 26.5 555.8 27.5 556.3 28.5 555.3 31.5 552.9 35.5 550.1 38.5 547.1 40.5 542.5 42.4 531.8 44.3 524.1 48.6 522.2 49.1 514.4 47.7 505.7 48 503.8 47.2 502.4 45.5 501.4 42.5 501.2 38.5 502.2 35.5 503.8 33.9 505.7 33.2 509.6 32.8 528.9 34 532.8 33.6 536.1 31.5 538.1 26.5 539.9 24.5ZM561.8 25.7 561.8 30.8 560.4 28.5 560.2 27.5 560.8 26.5Z" fill="#eb502a"/>
<path d="M339.5 26.4 342.4 26.2 352.1 27.1 370.4 25.6 390.7 25.8 398.8 26.5 403.9 27.5 406.1 28.5 407 29.5 406.9 30.5 404.7 32.5 398.5 35 395.6 36.7 388.8 43.7 385.9 44.7 383 44.9 369.5 43.8 358.8 41.7 348.2 41.8 342.4 40.3 340.5 39.4 338.1 37.5 336.7 35.5 335.5 32.5 335.4 30.5 336 28.5 336.9 27.5 339 26.5ZM543.4 30.2 544.4 29.9 546.3 30.4 547.3 32.5 546.3 35.2 544.4 37.2 541.5 38.8 533.8 40.8 523.1 46.2 521.2 46.5 514.4 45.7 506.7 46.4 504.4 45.5 502.8 43 502.4 40.5 502.8 37.9 503.8 36.3 505.7 35.1 510.6 34.7 533.8 37.8 537.6 36.3 543 30.5Z" fill="#cc1c28"/>
<path d="M365.6 28.4 379.1 27.9 393.6 28.1 398.5 28.7 400.3 29.5 401.1 30.5 400.6 31.5 393.6 36.1 388.8 41.5 386.9 42.6 384.9 42.9 368.5 41.6 356.9 38.3 344.3 37.7 342.4 36.9 340.5 35.5 339.1 32.5 339.6 30.5 340.7 29.5 342.4 29 352.1 29.5 364.7 28.5ZM505.7 37.4 507.7 36.7 510.6 36.9 522.2 40.3 523.2 41.5 521.7 42.5 515.4 42.8 509.6 44.4 506.7 44.4 505.1 43.5 504.1 41.5 504.2 39.5 505.6 37.5Z" fill="#9c1420"/>
<path d="M427.5 21.4 452.6 21.2 456.4 21.9 457.5 22.5 457.6 23.5 456.4 24.5 452.6 25.5 440 25.7 429.4 26.6 426.5 25.8 425 24.5 424.5 23.5 424.7 22.5 426.8 21.5ZM466.1 33.4 474.8 33.6 483.5 36.1 490.3 36.5 493.2 37.6 495.2 40.5 495.7 45.5 494.5 51.4 492.4 55.4 490.3 57 487.4 57.8 483.5 57.7 476.7 56.5 473.8 56.9 471.7 58.4 467.1 65.1 465.1 66.5 462.2 67.3 458.4 67.1 446.8 64.9 438.1 64.7 426.5 66.2 417.8 69.5 414.9 69.9 412 69.2 408.8 67.4 406.3 65.4 404.8 63.4 404 59.4 404.7 52.4 404.5 47.5 404.9 46.5 406.2 45.4 420.7 38.2 424.6 37 428.4 37 438.1 39.9 443.9 40.2 451.6 38.6 460.3 34.8 465.4 33.5ZM536.7 55.1 539.6 55.4 544.4 58.2 551.8 68.4 552.3 71.4 551.4 74.4 549.3 77.4 547.3 78.8 545.4 79.2 543.4 78.8 541.6 77.4 540.5 75.7 539.5 71.4 539.5 62.4 538.9 60.4 536.2 56.4 536.2 55.4ZM358.8 61.5 359.7 62.4 359.1 63.4 358.4 63.4 358 62.4Z" fill="#d8eef9"/>
<path d="M428.4 23.3 431.3 22.7 435 23.5 433.2 24.5 431.3 24.7 429.2 24.5 428.2 23.5ZM465.1 35.3 469 34.9 472.9 35.2 476.7 36 483.5 38.5 490.3 38.8 492.2 39.5 493.7 41.5 494.2 44.5 493.4 48.4 491.5 52.4 489.3 54.7 485.4 56 482.5 55.7 475.8 54 472.9 54.4 470 56.4 465.1 62.2 462.2 63.4 458.4 63.4 446.8 61.9 442 62 426.5 64.7 418.8 66.8 415.9 67.1 412 65.7 408.9 62.4 408.2 60.4 408.2 57.4 409.3 52.4 410.7 48.4 414.4 44.5 421.6 39.5 425.5 38.3 428.4 38.3 439.1 42 444.9 42.4 452.6 40.5 464.4 35.5Z" fill="#a8d8f4"/>
<path d="M464.2 37.2 468 36.6 472.9 36.9 476.7 38 483.5 41 490.3 41.7 491.3 42.5 491.9 44.5 491.2 48.4 488.6 52.4 485.4 54 482.5 53.8 475.8 51.6 471.9 52 469 53.7 464.2 58.8 460.3 60.3 455.5 60.2 446.8 58.6 443.9 58.5 440 59.3 430 62.4 418.8 64.2 416.8 64 414.9 63.2 412.5 60.4 412.1 58.4 412.3 55.4 414.4 49.4 419.1 43.5 423.2 40.5 426.5 39.6 429.4 39.9 440 44.8 444.9 45.3 452.6 42.8 463.4 37.5Z" fill="#70b4e6"/>
<path d="M466.1 38.4 470 38.2 473.8 39 481.6 43.4 486.4 44.9 487.5 45.5 488.1 46.5 487.5 49.4 486.4 50.8 484.5 51.6 482.5 51.4 476.7 49 474.8 48.9 471.9 49.4 467.6 51.4 462.2 56.2 458.4 57.5 455.2 57.4 451.6 56.5 449.5 55.4 447.1 53.4 446.3 51.4 446.6 50.4 449.5 47.5 461.3 40.3 466 38.5ZM425.5 41.4 428.9 41.5 432.8 43.5 439.4 49.4 440.7 51.4 440.6 52.4 438 55.4 431.3 59.6 424.6 61.4 419.7 61.1 417.8 59.9 416.8 58.4 416.4 56.4 416.8 53.4 420.6 45.5 422.6 43.1 425.4 41.5Z" fill="#3b80c6"/>
<path d="M467.1 40.3 470.7 40.5 473.2 41.5 474.2 42.5 474.7 43.5 474.5 44.5 473.4 45.5 465.1 49.4 459.3 53.7 456.4 54.2 453.5 53 452.6 51.4 452.7 50.4 454 48.4 463.2 41.8 466.3 40.5ZM426.5 44.1 428.4 44.1 430.4 45.5 431.6 47.5 431.9 49.4 431.3 51.5 429.4 54.8 427.5 56.3 425.5 56.7 424.4 56.4 423.6 55.6 423.3 54.4 423.7 47.5 424.6 45.5 425.6 44.5Z" fill="#1b4fa0"/>
<path transform="translate(0,20.5)" d="M330.8 57.6 332.1 58 332.7 59.5 333.5 62.1 334.7 64.2 335.9 66.3 337.2 69.4 337.5 69.2 336.9 67.8 335.8 65.2 335.3 63.2 334.3 60.6 335.9 63.2 337.9 66.8 340.1 71.5 341.1 73.5 345.6 76.6 347.5 76.6 348.8 78.2 351.3 79.4 352.6 80.8 352.9 82.8M354.2 82.8 354.2 77.7 351.3 76.8 351.3 74 352 70.9 349.7 71.5 349.4 73.8 347.2 74.4 345.6 71.5 345.2 66.8 345.6 64.2 347.5 62.4 350.1 63 350.7 61.8 353.3 62.4 354.5 63.2 354.9 65.2 355.8 67.1 356.5 65.8 356.1 63.7 355.6 61.1 357.1 58.5 359 57 359 54.9 360.3 51.3 362.9 50.2 362.6 48.7 364.8 46.9 366.4 45.8 368.7 46.1 365.8 48.2 368.7 46.1 366.7 43 365.1 41.4 369.3 41.2 371.9 39.9 371.9 38.3 370.6 36.8 368.7 35.2 368 33.1 366.4 30.8 364.2 32.6 362.9 30 357.8 28.5 357.8 32.6 358.4 35.7 356.8 39.9 354.9 38.8 353.3 35.9 351 34.7 348.4 34.2 347.2 32.1 347.5 30 349.7 27.4 352 26.4 350.1 24.3 346.8 22.8 344.9 23 340.4 22.3 338.5 22.8 334 22.8 330.8 21.2M561.8 21.2 558.6 20.7 555.4 20.7 552.2 21.2 548.3 21.1 542.5 20.3 538.4 19.4 534.8 20.5 532.3 22 533.6 23.8 531 25.3 532.9 26.4 535.5 26.4 533.6 28 532.3 29.5 533.2 30.8 534.8 31.3 537.4 32.4 538.1 33.7 534.8 36.2 533.9 36.6 539.3 33.7 541.3 31.6 542.5 30 545.1 30.2 549 31.4 551.5 33.1 554.1 36.2 555.4 37.3 557 40.9 559.2 43 559.2 45.6 559.2 49.7 559 51.4 560.2 54.4 561.5 57.5 561.8 57.6M353.3 70.6 355.2 69.7 358.1 70.9 360.2 72.3 357.9 72.6 355.8 70.7 353.3 70.6M360 74 361.3 72.6 363.8 73.7 362.9 74.4 360 74M368 24.3 365.4 29 362.2 28.2 357.8 26.4 356.5 20.7 351.3 20.2 355.2 17.1 358.4 17.9 362.2 20.2 364.8 21.7 368 24.3M346.8 13.5 356.5 13.5 368 8.8 362.9 7.2 350.1 8.8 346.8 11.4 346.8 13.5M332.7 18.6 340.4 17.6 343 20.7 337.2 22.3 332.1 20.7 332.7 18.6M348.8 16.1 356.5 16.1 356.5 14 348.8 14 348.8 16.1M352.6 26.9 356.1 26.9 353.9 28.5 352.6 26.9M361 12.4 365.4 14.5 370.6 15 372.5 19.7 374.4 22.3 375.7 26.9 379.6 31.1 380.9 30 382.8 25.4 387.3 22.8 393.7 20.7 393.7 17.6 396.2 14.5 395 10.4 400.1 8.8 395 7.2 386.6 6.7 378.9 7.8 369.3 8.3 366.1 9.3 361 12.4M392.4 25.4 393.7 24.4 397.5 24.3 399.1 25.9 396.2 27.5 393.7 27.1 392.4 25.4M398.5 82.3 397.1 80.3 396.7 78 397.4 73 396.9 71.5 398.5 66.3 399.5 64.5 401.6 61.6 401.7 59 403.9 56.1 406.5 56.9 409.7 55.1 414.2 54.7 414.9 57 414.3 58.2 417.7 59.9 420 61.8 420.6 59.9 422.6 59.4 423.8 60.3 427.1 60.9 428.7 60.9 429.9 60.6 430.6 57.5 430.9 55.3 428.3 55.7 426.4 55.3 425.1 54.1 424.7 51.8 426.4 50.7 427.7 50.6 430.3 49.7 432.2 50.7 434.4 50.2 434.6 48.7 432.8 47.1 431.9 46.3 432.7 44.3 430.3 46.4 429.3 47.1 428.7 46.1 427.7 44.9 426.8 46.4 426.1 47.9 425.8 49.9 424.7 51 422.6 51.3 423.2 53.9 422.2 55.4 421.3 53.3 420.3 51.8 420.2 49.7 418.1 48.2 416.5 45.9 415.7 46.6 416.8 49.7 419.7 51.7 418.1 53.9 417.8 51.8 415.8 50 414.2 47.6 413.3 47.3 411.6 48.6 409.9 48.5 409.9 49.7 408.1 51.3 407.5 53.1 406.5 55.1 404.3 55.9 403.6 54.9 402 54.9 402.2 49.7 401.9 48.5 406.8 48.3 407 45.6 404.8 43 406.8 42.8 408.8 41.4 410.4 39.9 411 37.9 413.3 37.6 413.3 34.2 414.5 33.5 414.5 36.8 415.8 36.9 416.8 37.3 419.4 36.5 421.3 35.2 421.6 33.7 423.2 34 422.9 31.9 427.1 31.1 422.2 30.8 421.6 29.5 421.6 28 424.2 25.9 421.9 25.1 419 28.5 419.7 31.1 418.4 34.7 417 35.7 416 35.2 415.2 33.1 414.2 32.1 412.3 33.1 411 32.1 411 29 414.2 26.9 416.8 23.3 418.7 21.2 421.9 20.2 424.5 19.7 427.1 20.7 429 21.4 431.5 22.3 434.1 23.4 432.8 24.9 430.3 26.4 431.5 27.1 434.1 26.4 436 24.9 436 22.3 439.9 22.8 442.4 22.3 445 22 446.3 20.9 450.8 22.3 452.1 17.9 454 18.1 454.3 22.8 455 19.2 459.1 18.1 461.1 20.7 459.1 17.1 463.6 16.6 468.8 14.5 474.5 12.7 480.3 17.1 485.4 17.6 490.6 18.6 493.1 19.2 497.6 18.1 504 19.1 510.5 21 516.9 20.7 523.3 22 528.4 24.3 529.7 25.1 527.1 26.6 523.9 25.9 522.7 28.5 519.4 29.3 516.9 31.1 512.4 31.6 511.8 34.2 510.5 37.3 508.3 40.4 507.9 38.5 507.6 33.7 508.5 32.2 505.3 31.9 500.8 31.8 498.3 32.6 496 37.3 498.3 38.3 498 42.5 496.3 45.6 493.1 48.9 491.5 49.2 490.9 51 490.8 54.9 490.6 56.9 489 57.5 488.8 54.2 487.8 52.2 485.8 52.8 485.6 51 483.5 52.6 483.5 53.9 485.1 54.4 486.4 54.9 484.5 57 485.4 59.9 486.1 62.1 485.8 64.2 484.5 66.8 482.9 68.9 480.9 70.1 478.7 71.5 478.3 70.9 477.1 70.9 476.1 72.5 475.6 74 477.4 77.7 477.9 80.8 477.1 81.8 476.2 82.8M440.5 80.9 436.4 82.4 435.6 81 435.1 79.2 433.1 77.2 431.7 73.5 430.6 69.4 429.6 65.2 428.7 62.2 429.5 64.4 430.3 62.7 430.6 64.2 431.5 66.8 432.8 70.4 434.1 74 435.3 77.7 435.6 80.1 436.7 80 438.9 78.7 441.3 76.9 443.1 75.1 444.9 73.5 446.2 69.9 445.3 68.8 444 65.9 443.7 67.8 442.8 68.1 440.8 67.8 440.7 66.2 440 66.8 439.6 65.2 438.6 62.7 439.9 62.1 440.8 64.4 442.4 65.6 444.1 65.1 444.6 66.6 447.3 67.1 450.5 66.9 451.1 68.4 451.8 69.2 452.7 69.9 454.4 71.1 454.6 73.5 455 76.6 455.8 80 456.6 82.8M459 82.8 459.3 79.2 459.3 76.8 460.6 75.6 462.2 73.1 463.6 70.9 464.6 70.4 465.5 70.4 466.7 70.1 467 71.8 468.4 75.1 468.3 76.6 470.4 76.1 470.4 78.2 471.1 82.8M471.5 82.8 472 79.2 472.5 79.3 473.6 80.8 474.2 82.3M438 47.1 439.6 45 441.8 44.7 440.7 46.4 441.8 49.5 442.4 51.3 441.9 52.5 442.4 54.6 440.5 55.2 439.2 54.3 439.6 51.5 438.3 49.2 438 47.1M491.8 60.9 492.3 58.5 492.8 56.4 495.1 56 497.6 53.3 498 50.2 498.6 50.4 498.9 52.3 498.3 54.9 498.1 56.6 497.5 57 495.7 57.4 494.4 58.4 492.8 59.2 491.8 60.9M497.6 49.7 498.6 46.2 501.2 47.6 499.8 49.7 498.3 49.9 497.6 49.7M498.9 45.6 499.9 42.5 499.2 37.1 498.9 40.4 498.9 45.6M484.9 69.9 485.4 67.1 486 67.3 485.4 70.4 484.9 69.9M484.8 74 486.2 74 486.1 76.1 487.4 79.7 485.2 78.9 484.8 76.6 484.8 74M404.1 41.4 408.7 40.2 408.9 38.6 407.9 37.8 406.8 35.9 406.5 33.5 405.7 32.5 404.6 32.5 403.8 34.7 404.6 36.2 405.9 37.3 404.9 38 404.9 39.4 404.5 39.8 405.9 40.1 404.1 41.4M403.9 39.4 403.9 37.3 403.1 35.9 402.3 36.8 401.4 37.3 401.4 39.4 402.7 39.9 403.9 39.4M414.9 11.9 418.1 10.4 423.8 10 425.1 11.9 419.4 14 416.8 12.9 414.9 11.9M441.2 19.7 443.7 17.6 445 15 451.4 13.5 446.3 17.1 444.4 20.2 441.2 19.7M468.8 11.4 472 9.3 475.2 10.9 472 12.4 468.8 11.4M495.7 15.5 498.9 14.5 502.8 15.2 497.6 16.6 495.7 15.5M522.3 19.7 524.6 19.2 523.6 19.9 522.3 19.7" fill="none" stroke="#8ea3ab" stroke-width="0.9" stroke-linejoin="round"/>
<path d="M561.8 52.1 554.7 47.4 547 44.1 540.6 43 538.1 43.5 536.1 44.4 534.4 46.4 533.3 49.5 530.7 67.1 528.6 75.4 525.9 79.7 523.9 81 522 81.4 519.4 80.7 517.5 79.1 515.6 76.4 513.8 72.3 512.5 65 512.4 50.5 511.1 45.4 509.7 43.3 507.3 41.3 504 40 500.2 39.2 491.9 38.4 483.5 38.2 461.1 40.1 450.1 40.4 438.6 40.1 418.7 38.2 412.3 38.4 407.2 39.3 398.8 42.4 391.8 47.3 389.7 49.5 387.8 52.6 384.6 61.9 382.9 65 378.9 67.9 374.4 69.2 370.6 68.5 362.2 64.6 351.3 62.4 344.9 60.4 338.5 57.3 330.8 52.1" fill="none" stroke="#111" stroke-width="1.3"/>
<path d="M561.8 43.5 549 37.3 541.9 35 535.5 34.7 532.9 35.4 530.4 36.7 527.1 39.9 525.7 43.3 525.5 46.4 526.7 56.7 526.4 61.9 524.6 67.3 523.3 68.7 522 69.1 520.7 68.7 519.4 67.3 518 63 517.8 56.7 519 45.4 518.1 41.2 516.1 38.1 513 35.5 509.8 34 505.3 32.9 489.9 32.3 423.2 32.5 414.9 33 408.4 34 403.9 35.4 398.8 37.7 392.4 41.5 387.3 45.4 384 49.5 381.5 57.8 380 60.9 378.3 62.7 375.7 63.5 372.5 62.5 364.8 56.8 349.4 52.7 330.8 43.5" fill="none" stroke="#111" stroke-width="1.3"/>
<path d="M453.8 20.5 437.3 20.8 424.5 21.9 415.5 23.3 407.8 25.3 403.3 27.3 400.1 29.4 391.1 37.1 381.2 44.3 375.7 49.5 373.8 50.5 357.1 48.3 350.7 46.8 339.8 42.9 330.8 38.4M561.8 38.4 557 35 549 27.4 545.8 25.3 542.5 24 538.7 23.2 535.5 23.3 525.2 26.4 521.4 26.8 517.1 25.7 506.6 21.5 505 20.5" fill="none" stroke="#111" stroke-width="1.3"/>
<path d="M366.6 20.5 377.6 22.2 381.5 23.5 384.7 25.3 387 27.7 387.7 29.8 387.6 31.9 385.9 35 381.3 39.1 375.1 42.5 369.3 44 361.6 44.4 353.3 43.6 344.3 41.1 337.8 38.1 334.9 36 333 34 332.1 31.9 332.2 29.8 333.4 27.7 336.6 25.2 340.4 23.4 344.9 22.1 356.3 20.5" fill="none" stroke="#111" stroke-width="1.3"/>
<path d="M350.7 25.6 356.5 24.9 362.2 24.8 367.4 25.3 372.5 26.4 376.1 27.7 378.9 29.8 380 31.9 379.8 34 378.4 36 375.6 38.1 371.9 39.7 368 40.7 359 41.3 349.4 39.7 344.9 38.1 341.5 36 339.7 34 339.4 31.9 340.6 29.8 343 28.1 350.5 25.7Z" fill="none" stroke="#111" stroke-width="1.3"/>
<path d="M407.8 46.2 403.9 47.5 400.7 49.3 398.1 51.6 395.7 54.7 394.4 57.8 393.8 61.9 394.1 65 395.4 68.1 397.5 70.8 400.1 72.6 403.3 74.2 407.2 75.2 411 75.5 415.5 75.2 422.6 72.8 427 69.5 430.3 65 431.5 59.9 431.1 56.7 430.3 54.7 427 50.5 421.3 47.2 414.9 45.7 408.4 46.1ZM483.5 46.4 479.7 47.1 476.5 48.3 474.5 49.5 472.6 51.6 471.6 53.6 471.6 55.7 472.5 57.8 474.4 59.9 477.1 61.5 480.3 62.6 487.4 63.3 493.8 62 496.3 60.7 498.6 58.8 499.9 56.7 500.2 53.6 499.4 51.6 497.5 49.5 494.4 47.8 491.2 46.8 487.4 46.3 483.5 46.4M543.2 58.8 540.6 60.5 538.5 64 537.4 68.1 537.3 73.3 538.4 77.5 540.3 80.6 542.5 82.4 545.8 83 549 81.7 551.8 78.5 553.4 74.4 553.6 69.2 552.6 65 550.2 61.1 547 58.9 543.8 58.6ZM383.4 73.3 381.5 74.4 380.7 76.4 382.1 78.2 384.7 78.6 387 77.5 388.1 75.4 387.8 74.4 386.6 73.4 384.1 73.1Z" fill="none" stroke="#111" stroke-width="1.25" stroke-dasharray="4.5 2.5"/>
<path d="M407.8 49.4 402.7 51.9 399.3 55.7 398.4 57.8 398.1 60.9 399.5 65.2 401 67.1 403.3 68.8 405.9 70 409.1 70.7 414.9 70.5 418.1 69.5 420.6 68.1 423.8 65.1 425.4 61.9 425.6 57.8 424.4 54.7 421.5 51.6 417.4 49.5 412.9 48.8 407.8 49.4M484.2 50.5 481.4 51.6 479.7 53.6 480.1 55.7 481.1 56.7 484.2 58 487.4 58.1 489.9 57.3 492.1 55.7 492.5 53.6 490.8 51.6 488 50.5 484.8 50.4ZM543.8 62.7 541.9 64 540.6 66.1 539.8 69.2 539.9 72.3 540.6 74.9 541.9 76.9 543.8 78.2 545.8 78.4 547.7 77.6 549.6 75.4 550.6 72.3 550.6 69.2 549.8 66.1 548.4 64 546.4 62.7 544.5 62.5Z" fill="none" stroke="#111" stroke-width="1.25" stroke-dasharray="4.5 2.5"/>
<path d="M408.4 52.5 405.2 54.2 403.1 56.7 402.3 59.9 403.3 63.1 405.9 65.5 409.7 66.8 413.6 66.7 417.4 65.2 419.8 63 420.8 60.9 420.8 57.8 419.8 55.7 417.7 53.6 415.5 52.6 412.3 52 409.1 52.4ZM545.1 67 543.5 68.1 542.9 70.2 543.3 72.3 544.1 73.3 545.1 73.7 546.2 73.3 547 72.3 547.5 70.2 546.8 68.1 545.5 67.1Z" fill="none" stroke="#111" stroke-width="1.25" stroke-dasharray="4.5 2.5"/>
<path d="M409.7 57.4 408.5 58.8 408.5 59.9 409.1 60.9 411.6 61.7 413.8 60.9 414.4 59.9 413.9 57.8 412.3 57 410.4 57.1Z" fill="none" stroke="#111" stroke-width="1.25" stroke-dasharray="4.5 2.5"/>
</g>
<g clip-path="url(#mc1)">
<rect x="330.8" y="103.3" width="231" height="82.8" fill="#fff"/>
<path d="M331.8 103.3 413.6 103.3 425.5 107.3 426.9 108.3 427.7 110.3 426.1 113.3 421.9 116.3 397.7 124.3 394.9 126.3 390.7 130.7 387.8 133 379.1 135.9 376.4 137.3 374.3 139.4 372.2 143.3 369.2 155.3 367.5 157.3 364.6 158.5 362.7 157.3 362 155.3 362.7 152.6 365.4 148.3 365.3 146.3 364.6 145.3 360.8 143.7 350.1 143 340.5 140.7 336.6 139.2 333.7 136.3 330.8 128.9 330.8 103.3ZM530.9 104.1 532.9 103.3 561.8 103.3 561.8 128.9 560.8 127.2 558.9 125.3 556 124.6 554.1 125 549 128.3 545.4 129.9 539.6 130.9 533.8 130.8 529.7 129.3 526 125.1 525.1 124.6 524.1 125 523.4 126.3 520.9 133.3 517.3 138.1 512.5 146.3 509.6 148.8 505.7 150.7 502.8 151.1 500.9 150.4 499.9 149.3 499.3 147.3 498.9 138.3 498.3 134.3 497 131.3 492.9 125.3 491.4 122.3 489.9 116.3 489.8 114.3 490.3 112.8 491.2 111.8 493.2 110.9 505.7 108.1 518.3 107.4 530.1 104.3ZM541.4 104.3 539.5 105.3 540.3 106.3 544.4 108.2 547.3 108.8 552.1 108.5 554.1 107.5 555 106.3 555 105.3 554.1 104.4 552.1 103.9 547.3 103.7 541.5 104.3ZM445.8 124.3 446.8 124 448.7 124.9 454.5 129.1 456.4 131.3 457.2 133.3 457.1 135.3 456 137.3 454.5 138.6 450.6 139.9 446.8 140.3 443.9 139.6 442.9 138.3 442.4 135.3 442.8 131.3 443.9 127.3 445.8 124.3ZM439.1 145.2 441 145.6 441.8 146.3 443.9 149.7 446.3 155.3 446.2 157.3 445.7 158.3 443.5 160.2 436.2 165.1 429.9 175.2 419.7 185 417.4 186.2 407.8 186.2 405.2 178.9 404 171.2 404.5 165.2 406.4 161.2 409.6 158.3 413 156.3 427.5 151.9 436.2 146.4 438.9 145.3ZM551.2 164.1 552.1 165.2 552 166.2 551.2 167 550.2 166.2 550.2 165 550.9 164.2Z" fill="#feeaa6"/>
<path d="M331.8 103.3 398.2 103.3 405.2 103.9 411 104.9 420.7 108 423 109.3 424 111.3 423.5 113.3 422.6 114.3 419.7 116.2 407.2 120.2 396.5 122.7 393.8 124.3 387.8 129.4 384.9 130.8 374.5 134.3 366.6 140.3 361.7 141.1 351.1 141.3 344.3 140.1 339.5 138.7 336.6 136.8 334.8 134.3 332.6 127.3 330.8 124.1 330.8 103.3ZM559.9 103.3 561.8 103.3 561.8 124.1 558.9 121.9 555 121.2 552.1 122.6 546.8 127.3 543.4 128.7 540.5 129.1 534.7 128.6 532.8 127.7 531.3 126.3 525.6 114.3 526.2 113.3 529.7 111.3 533.8 110.6 549.2 111.8 553.1 111.4 556 110 559 107.3 560.2 105.3 560.4 104.3 559.7 103.4ZM507.7 111.2 513.5 111 518.3 111.5 521.2 112.3 523.8 114.3 519.3 129.3 514.9 136.3 511.8 143.3 508.6 146.7 505.7 148 503.8 148.1 501.9 146.9 500.9 145.3 498.9 133.3 497.5 130.3 492.9 123.3 491.6 119.3 491.4 116.3 492.2 113.9 494.1 112.6 498 111.9 506.9 111.3ZM447.7 128.3 449.7 128.4 451.6 129.1 454.7 131.3 455.5 132.4 455.9 134.3 455.5 135.7 454.5 136.8 452.6 137.8 449.7 138.1 447.7 137.7 445.9 136.3 445.1 134.3 445.3 131.3 446.3 129.3 447.7 128.3ZM437.1 149.2 439.1 149.6 440 150.2 441.4 152.3 441.9 155.3 441 157.3 434.1 163.2 429.3 170.2 426.5 173.3 417.6 180.2 414.9 180.8 413 179.9 410.7 176.2 409.9 173.2 409.7 170.2 410.7 166.2 413.9 161.2 415.7 159.2 418.4 157.3 428.4 153.6 437 149.3Z" fill="#fdbb50"/>
<path d="M340.5 104.3 352.1 105.1 362.7 104.6 386.9 104.8 397.5 106.1 407.2 105.9 412 106.9 418.8 109.1 420.7 110.3 421.5 112.3 420.4 114.3 416.6 116.3 408.1 118.6 398.5 120.1 395.6 121 385.9 127.5 372.6 132.3 365.7 137.3 363.7 138.3 357.9 139.4 350.1 139.4 341.4 137.7 337.6 135.3 335.9 132.3 333.7 124.3 330.8 120.4 330.8 108.5 334.7 105.3 340.1 104.3ZM561.8 108.5 561.8 120.4 556.4 116.3 555.9 115.3 557 113.3 561 109.3ZM495.1 114.3 498 113.7 504.8 114.2 513.5 113.7 515.4 114.1 517.3 115.2 518.7 117.3 519 122.3 517.5 128.3 513.5 134.8 510 142.3 508.6 143.9 506.7 145.2 503.8 145.2 502.1 143.3 499.1 131.3 493.6 122.3 492.9 117.3 493.7 115.3 495 114.3ZM535.7 114.3 540.5 113.6 546.4 114.3 549.5 115.3 550.9 116.3 550.9 118.3 548.3 123.3 545.4 126 541.5 127.3 537.6 127.2 535.7 126.6 533.9 125.3 532.6 123.3 532 121.3 532 118.3 532.8 116.3 535.7 114.3ZM448.7 132.2 449.7 131.5 451.6 131.6 453.5 133.1 453.7 134.3 452.6 135.6 449.7 135.5 448.5 134.3 448.6 132.3ZM435.2 154.1 436.2 154.3 436.6 155.3 436.2 156.3 432.3 160 427.5 166.6 424.6 168.5 422.6 168.4 421.7 167.7 420.4 164.2 420.6 162.2 421.6 160.2 424.4 158.3 434.2 154.3Z" fill="#fa8c28"/>
<path d="M339.5 106.3 343.4 106.3 351.1 107.3 363.7 106.7 385.9 107.3 396.5 108.5 408.1 107.8 415.9 109.7 417.8 110.7 419 112.3 418.8 113.3 417.9 114.3 413 116.3 407.2 117.4 398.5 118.1 394.6 119 384 125.7 370.4 130.7 364.3 135.3 361.7 136.7 356.9 137.6 349.2 137.4 342.4 136.3 339.2 134.3 337.6 131.3 335.7 123.3 330.9 115.3 331.4 112.3 333.7 109.4 336.3 107.3 339.3 106.3ZM561.8 113.9 561.8 114.9 561.7 114.3ZM497 116 504.8 116.7 512.5 116.1 515.3 117.3 516.6 119.3 517.1 123.3 516 127.3 512.4 133.3 509 140.3 506.7 142.5 504.8 142.7 503.8 142.1 502.8 140.7 499.8 130.3 495 122.3 494.6 118.3 496.1 116.3ZM537.6 117.3 541.5 116.5 543.4 116.7 545.4 117.7 546.3 119.2 546.4 120.3 545.2 123.3 543.4 124.8 541.5 125.4 539 125.3 536.7 124.3 535.4 122.3 535.3 120.3 536.3 118.3 537.6 117.3Z" fill="#eb502a"/>
<path d="M338.5 109.2 342.4 108.4 351.1 109.4 363.7 108.8 377.2 109.3 384.9 109.8 396.5 111.8 404.3 110.2 408.1 109.9 413 110.7 415.6 112.3 415.5 113.3 414.1 114.3 410.1 115.3 405.2 115.6 398.5 115.2 394.6 115.8 390.7 117.7 383 123.4 368.5 128.9 361.3 134.3 358.8 135.2 355 135.4 344.3 134.6 342.4 134 340.4 132.3 339.5 130.3 338.3 123.3 335.1 116.3 334.7 114.3 335.9 111.3 338.2 109.3ZM498 119 499.9 118.7 504.8 119.2 511.5 118.6 513.5 119.4 514.8 121.3 515.1 123.3 514.4 126.3 508.6 137.1 506.7 139.4 504.8 139.5 503.7 138.3 500.7 129.3 497.1 122.3 496.9 120.3 497.5 119.3Z" fill="#cc1c28"/>
<path d="M343.4 111.3 352.1 111.8 366.6 111.3 377.2 111.6 381.1 112.1 384 113.1 385.4 114.3 385.8 115.3 384.4 118.3 380.8 121.3 376.2 123.4 365.6 126.6 363.7 127.6 359.8 130.7 356.9 131.5 355 131.1 351.1 128.9 350.1 128.7 346.3 130.2 345.3 130.2 343.9 129.3 343.3 128.3 342.6 124.3 339.8 118.3 339 115.3 339.4 113.3 340.3 112.3 343.1 111.3ZM504.8 122.1 508.6 121.5 510.6 121.7 511.7 122.3 512.5 124.3 511.6 127.3 508.6 132.9 506.7 135.5 505.7 135.9 504.8 135.5 503.8 133.9 501.3 125.3 501.6 123.3 503.9 122.3Z" fill="#9c1420"/>
<path d="M442.9 103.9 446.8 103.4 454.5 104 457.4 105.1 457.9 106.3 457.5 107.3 456.4 108.3 454.5 109 450.6 109.7 446.8 109.6 444.9 108.9 443 107.3 442 105.3 442.2 104.3ZM465.1 112.3 470 111.6 477.7 111.6 481.6 112.1 484.5 113.4 487.4 117.4 491.3 126.3 496.1 133.3 496.9 136.3 497 139.3 495.5 146.3 492.2 152.3 489.3 155.4 487.4 156.7 485.4 157.2 483.5 156.8 477.7 153.4 474.8 152.5 471.9 152.6 465.1 154.1 459.3 153.5 452.8 151.3 451.3 150.3 449.8 148.3 449.4 146.3 450.3 144.3 457.4 139.3 458.7 137.3 459.3 135.3 459.3 133.3 458.4 130.3 453.6 123.3 454.1 120.3 455.8 118.3 460.3 114.9 464.9 112.3ZM430.4 116.3 434.2 116.9 436.8 118.3 438.6 120.3 439.6 123.3 439.6 127.3 438.2 133.3 436.5 138.3 434.1 142.3 429.1 147.3 423.6 149.8 418.8 150.6 413 150.8 409.3 150.3 407.2 149.3 405.2 147.2 398.7 136.3 398.2 133.3 399.3 130.3 402.7 127.3 412.7 121.3 426.5 117 430.3 116.3ZM543.4 135.1 549.2 134.4 554.1 134.8 556 136.4 556.6 138.3 556.4 140.3 555 141.9 553.1 142.3 542.9 139.3 541 138.3 540.4 137.3 540.8 136.3 542.6 135.3ZM334.7 145.2 338.5 144.7 343.2 145.3 352.1 147.4 355.1 149.3 356.2 152.3 358.4 166.2 357.7 169.2 355.2 172.2 350.1 174.3 340.5 175.8 337.6 175 332.5 171.2 330.9 167.2 330.9 164.2 331.4 162.2 332.7 160.5 335.6 160.6 336.5 160.2 337 158.3 336.6 156.1 333.8 152.3 332.8 149.3 332.8 147.3 333.3 146.3 334.6 145.3Z" fill="#d8eef9"/>
<path d="M467.1 114.2 477.7 113.8 480.6 114.1 483.5 115.2 486.4 118.1 490.3 126.4 495.1 133.3 495.8 135.3 496 138.3 495.1 143.3 491.6 149.3 487.4 153.2 485.4 153.9 483.5 153.7 477.7 151.2 474.8 150.5 465.1 152 461.3 151.8 455.5 150.1 453.5 148.7 452.6 147.3 452.7 145.3 458.4 139.9 459.8 137.3 460.3 135.3 460.3 133.3 459.5 130.3 456 124.3 456.2 121.3 457.8 119.3 460.3 117.4 464.2 115.2 466.6 114.3ZM427.5 118.3 430.7 118.3 433.8 119.3 436.2 121.2 437.3 123.3 437.7 126.3 437.2 130.3 435.2 136.3 433.2 140.3 429.1 145.3 426.5 147 423.6 148.1 419.7 148.8 415.9 148.8 413 148.4 410.3 147.3 407.5 144.3 404.4 137.3 403.6 133.3 404.5 130.3 408.6 125.3 412.8 122.3 417.8 120.4 427.2 118.3ZM342.4 149.2 345.3 148.6 349.2 149 352.1 150.3 353.7 152.3 355 157.3 355.7 164.2 355.4 166.2 354.4 168.2 352.1 170.3 350.1 170.9 347.2 170.7 345.3 169.7 343.6 167.2 342.6 163.2 341.5 152.3 341.6 150.3 342.3 149.3Z" fill="#a8d8f4"/>
<path d="M468 116.1 478.7 115.8 481.6 116.2 483.5 117.1 486.4 120.3 489.7 127.3 493.9 133.3 495 137.3 494.1 141.8 490.3 147.6 486.4 150.7 483.5 151.1 477.7 149.2 474.8 148.7 466.1 150 462.2 150 458.4 149 456 147.3 455.7 145.3 460.1 139.3 461.3 135.3 460.9 131.3 457.9 124.3 458.1 122.3 459.3 120.5 461.3 119 467.1 116.3ZM422.6 120.2 429.4 119.9 432.3 120.9 434.2 122.3 435.4 124.3 435.8 126.3 435 131.3 431.7 139.3 429.7 142.3 427.5 144.5 424.6 146.1 421.7 146.8 417.8 147 414.9 146.5 411.3 144.3 409.5 141.3 407.9 135.3 408 130.3 409.8 126.3 413 123.3 416.8 121.6 422.2 120.3ZM347.2 152.2 349.2 152.1 351.1 153.1 352.1 154.5 353 157.4 353.5 161.2 353.1 164.2 352.1 166.2 350.1 167.3 348.2 166.9 347.2 166.2 345.3 162.2 344.9 158.3 345.1 155.3 345.8 153.3 347 152.3Z" fill="#70b4e6"/>
<path d="M468 118.2 480.6 117.8 483.5 119 485.4 121 488.9 128.3 493 134.3 493.6 136.3 493.4 139.3 492.2 142 487.4 147.1 484.5 148.3 474.8 146.9 464.2 148.3 461.3 147.7 459.1 146.3 458.9 144.3 461.4 139.3 462.3 134.3 461.8 130.3 460.1 125.3 460.1 123.3 461.3 121.4 462.6 120.3 467.6 118.3ZM422.6 121.3 428.4 121.5 432 123.3 433.6 126.3 433.4 130.3 430.7 137.3 427.5 142 423.6 144.4 420.7 145 417.8 144.8 414.9 143.5 413 141.1 410.7 133.3 410.5 129.3 411.7 126.3 413.9 124 417.4 122.3 422.3 121.3Z" fill="#3b80c6"/>
<path d="M470 120.3 480.6 119.7 482.5 120.3 484.5 121.9 488.3 130.3 490.9 134.3 491.7 136.3 491.2 139.3 488.3 142.6 485.4 144.5 483.5 145 475.8 144.7 466.1 146.3 464.2 146.1 462.5 145.3 461.8 143.3 463.4 134.3 462.2 124.3 463.2 122.6 465.1 121.3 469.6 120.3ZM417.8 123.2 422.6 122.4 426.5 122.7 429.4 124 431.1 126.3 431.2 130.3 428.9 136.3 426.5 139.7 424.6 141.2 422.6 142 419.7 142.1 416.8 140.3 412.7 131.3 412.7 128.3 413.5 126.3 415.5 124.3 417.5 123.3Z" fill="#1b4fa0"/>
<path d="M476.7 122.3 480.6 121.8 483.5 123.4 484.6 125.3 485.4 128.3 485.7 131.3 485.4 133.7 484.5 134.6 481.3 136.3 477.3 140.3 473.7 142.3 469 143.7 467.1 143.8 465.3 143.3 464.6 142.3 464.3 140.3 464.7 134.3 464.2 127.3 464.6 125.3 465.3 124.3 467.1 123.3 476.5 122.3ZM418.8 124.2 422.6 123.7 425.5 124.3 427.3 125.3 428.6 127.3 428.7 130.3 427.7 133.3 425.5 136.3 423.6 137.5 421.7 137.6 419.7 136.7 416.8 133.7 415.2 131.3 414.7 129.3 415 127.3 416.4 125.3 418.3 124.3Z" fill="#15266a"/>
<path transform="translate(0,103.3)" d="M330.8 57.6 332.1 58 332.7 59.5 333.5 62.1 334.7 64.2 335.9 66.3 337.2 69.4 337.5 69.2 336.9 67.8 335.8 65.2 335.3 63.2 334.3 60.6 335.9 63.2 337.9 66.8 340.1 71.5 341.1 73.5 345.6 76.6 347.5 76.6 348.8 78.2 351.3 79.4 352.6 80.8 352.9 82.8M354.2 82.8 354.2 77.7 351.3 76.8 351.3 74 352 70.9 349.7 71.5 349.4 73.8 347.2 74.4 345.6 71.5 345.2 66.8 345.6 64.2 347.5 62.4 350.1 63 350.7 61.8 353.3 62.4 354.5 63.2 354.9 65.2 355.8 67.1 356.5 65.8 356.1 63.7 355.6 61.1 357.1 58.5 359 57 359 54.9 360.3 51.3 362.9 50.2 362.6 48.7 364.8 46.9 366.4 45.8 368.7 46.1 365.8 48.2 368.7 46.1 366.7 43 365.1 41.4 369.3 41.2 371.9 39.9 371.9 38.3 370.6 36.8 368.7 35.2 368 33.1 366.4 30.8 364.2 32.6 362.9 30 357.8 28.5 357.8 32.6 358.4 35.7 356.8 39.9 354.9 38.8 353.3 35.9 351 34.7 348.4 34.2 347.2 32.1 347.5 30 349.7 27.4 352 26.4 350.1 24.3 346.8 22.8 344.9 23 340.4 22.3 338.5 22.8 334 22.8 330.8 21.2M561.8 21.2 558.6 20.7 555.4 20.7 552.2 21.2 548.3 21.1 542.5 20.3 538.4 19.4 534.8 20.5 532.3 22 533.6 23.8 531 25.3 532.9 26.4 535.5 26.4 533.6 28 532.3 29.5 533.2 30.8 534.8 31.3 537.4 32.4 538.1 33.7 534.8 36.2 533.9 36.6 539.3 33.7 541.3 31.6 542.5 30 545.1 30.2 549 31.4 551.5 33.1 554.1 36.2 555.4 37.3 557 40.9 559.2 43 559.2 45.6 559.2 49.7 559 51.4 560.2 54.4 561.5 57.5 561.8 57.6M353.3 70.6 355.2 69.7 358.1 70.9 360.2 72.3 357.9 72.6 355.8 70.7 353.3 70.6M360 74 361.3 72.6 363.8 73.7 362.9 74.4 360 74M368 24.3 365.4 29 362.2 28.2 357.8 26.4 356.5 20.7 351.3 20.2 355.2 17.1 358.4 17.9 362.2 20.2 364.8 21.7 368 24.3M346.8 13.5 356.5 13.5 368 8.8 362.9 7.2 350.1 8.8 346.8 11.4 346.8 13.5M332.7 18.6 340.4 17.6 343 20.7 337.2 22.3 332.1 20.7 332.7 18.6M348.8 16.1 356.5 16.1 356.5 14 348.8 14 348.8 16.1M352.6 26.9 356.1 26.9 353.9 28.5 352.6 26.9M361 12.4 365.4 14.5 370.6 15 372.5 19.7 374.4 22.3 375.7 26.9 379.6 31.1 380.9 30 382.8 25.4 387.3 22.8 393.7 20.7 393.7 17.6 396.2 14.5 395 10.4 400.1 8.8 395 7.2 386.6 6.7 378.9 7.8 369.3 8.3 366.1 9.3 361 12.4M392.4 25.4 393.7 24.4 397.5 24.3 399.1 25.9 396.2 27.5 393.7 27.1 392.4 25.4M398.5 82.3 397.1 80.3 396.7 78 397.4 73 396.9 71.5 398.5 66.3 399.5 64.5 401.6 61.6 401.7 59 403.9 56.1 406.5 56.9 409.7 55.1 414.2 54.7 414.9 57 414.3 58.2 417.7 59.9 420 61.8 420.6 59.9 422.6 59.4 423.8 60.3 427.1 60.9 428.7 60.9 429.9 60.6 430.6 57.5 430.9 55.3 428.3 55.7 426.4 55.3 425.1 54.1 424.7 51.8 426.4 50.7 427.7 50.6 430.3 49.7 432.2 50.7 434.4 50.2 434.6 48.7 432.8 47.1 431.9 46.3 432.7 44.3 430.3 46.4 429.3 47.1 428.7 46.1 427.7 44.9 426.8 46.4 426.1 47.9 425.8 49.9 424.7 51 422.6 51.3 423.2 53.9 422.2 55.4 421.3 53.3 420.3 51.8 420.2 49.7 418.1 48.2 416.5 45.9 415.7 46.6 416.8 49.7 419.7 51.7 418.1 53.9 417.8 51.8 415.8 50 414.2 47.6 413.3 47.3 411.6 48.6 409.9 48.5 409.9 49.7 408.1 51.3 407.5 53.1 406.5 55.1 404.3 55.9 403.6 54.9 402 54.9 402.2 49.7 401.9 48.5 406.8 48.3 407 45.6 404.8 43 406.8 42.8 408.8 41.4 410.4 39.9 411 37.9 413.3 37.6 413.3 34.2 414.5 33.5 414.5 36.8 415.8 36.9 416.8 37.3 419.4 36.5 421.3 35.2 421.6 33.7 423.2 34 422.9 31.9 427.1 31.1 422.2 30.8 421.6 29.5 421.6 28 424.2 25.9 421.9 25.1 419 28.5 419.7 31.1 418.4 34.7 417 35.7 416 35.2 415.2 33.1 414.2 32.1 412.3 33.1 411 32.1 411 29 414.2 26.9 416.8 23.3 418.7 21.2 421.9 20.2 424.5 19.7 427.1 20.7 429 21.4 431.5 22.3 434.1 23.4 432.8 24.9 430.3 26.4 431.5 27.1 434.1 26.4 436 24.9 436 22.3 439.9 22.8 442.4 22.3 445 22 446.3 20.9 450.8 22.3 452.1 17.9 454 18.1 454.3 22.8 455 19.2 459.1 18.1 461.1 20.7 459.1 17.1 463.6 16.6 468.8 14.5 474.5 12.7 480.3 17.1 485.4 17.6 490.6 18.6 493.1 19.2 497.6 18.1 504 19.1 510.5 21 516.9 20.7 523.3 22 528.4 24.3 529.7 25.1 527.1 26.6 523.9 25.9 522.7 28.5 519.4 29.3 516.9 31.1 512.4 31.6 511.8 34.2 510.5 37.3 508.3 40.4 507.9 38.5 507.6 33.7 508.5 32.2 505.3 31.9 500.8 31.8 498.3 32.6 496 37.3 498.3 38.3 498 42.5 496.3 45.6 493.1 48.9 491.5 49.2 490.9 51 490.8 54.9 490.6 56.9 489 57.5 488.8 54.2 487.8 52.2 485.8 52.8 485.6 51 483.5 52.6 483.5 53.9 485.1 54.4 486.4 54.9 484.5 57 485.4 59.9 486.1 62.1 485.8 64.2 484.5 66.8 482.9 68.9 480.9 70.1 478.7 71.5 478.3 70.9 477.1 70.9 476.1 72.5 475.6 74 477.4 77.7 477.9 80.8 477.1 81.8 476.2 82.8M440.5 80.9 436.4 82.4 435.6 81 435.1 79.2 433.1 77.2 431.7 73.5 430.6 69.4 429.6 65.2 428.7 62.2 429.5 64.4 430.3 62.7 430.6 64.2 431.5 66.8 432.8 70.4 434.1 74 435.3 77.7 435.6 80.1 436.7 80 438.9 78.7 441.3 76.9 443.1 75.1 444.9 73.5 446.2 69.9 445.3 68.8 444 65.9 443.7 67.8 442.8 68.1 440.8 67.8 440.7 66.2 440 66.8 439.6 65.2 438.6 62.7 439.9 62.1 440.8 64.4 442.4 65.6 444.1 65.1 444.6 66.6 447.3 67.1 450.5 66.9 451.1 68.4 451.8 69.2 452.7 69.9 454.4 71.1 454.6 73.5 455 76.6 455.8 80 456.6 82.8M459 82.8 459.3 79.2 459.3 76.8 460.6 75.6 462.2 73.1 463.6 70.9 464.6 70.4 465.5 70.4 466.7 70.1 467 71.8 468.4 75.1 468.3 76.6 470.4 76.1 470.4 78.2 471.1 82.8M471.5 82.8 472 79.2 472.5 79.3 473.6 80.8 474.2 82.3M438 47.1 439.6 45 441.8 44.7 440.7 46.4 441.8 49.5 442.4 51.3 441.9 52.5 442.4 54.6 440.5 55.2 439.2 54.3 439.6 51.5 438.3 49.2 438 47.1M491.8 60.9 492.3 58.5 492.8 56.4 495.1 56 497.6 53.3 498 50.2 498.6 50.4 498.9 52.3 498.3 54.9 498.1 56.6 497.5 57 495.7 57.4 494.4 58.4 492.8 59.2 491.8 60.9M497.6 49.7 498.6 46.2 501.2 47.6 499.8 49.7 498.3 49.9 497.6 49.7M498.9 45.6 499.9 42.5 499.2 37.1 498.9 40.4 498.9 45.6M484.9 69.9 485.4 67.1 486 67.3 485.4 70.4 484.9 69.9M484.8 74 486.2 74 486.1 76.1 487.4 79.7 485.2 78.9 484.8 76.6 484.8 74M404.1 41.4 408.7 40.2 408.9 38.6 407.9 37.8 406.8 35.9 406.5 33.5 405.7 32.5 404.6 32.5 403.8 34.7 404.6 36.2 405.9 37.3 404.9 38 404.9 39.4 404.5 39.8 405.9 40.1 404.1 41.4M403.9 39.4 403.9 37.3 403.1 35.9 402.3 36.8 401.4 37.3 401.4 39.4 402.7 39.9 403.9 39.4M414.9 11.9 418.1 10.4 423.8 10 425.1 11.9 419.4 14 416.8 12.9 414.9 11.9M441.2 19.7 443.7 17.6 445 15 451.4 13.5 446.3 17.1 444.4 20.2 441.2 19.7M468.8 11.4 472 9.3 475.2 10.9 472 12.4 468.8 11.4M495.7 15.5 498.9 14.5 502.8 15.2 497.6 16.6 495.7 15.5M522.3 19.7 524.6 19.2 523.6 19.9 522.3 19.7" fill="none" stroke="#8ea3ab" stroke-width="0.9" stroke-linejoin="round"/>
<path d="M561.8 130.5 558.6 130.2 556 130.8 547.7 135.1 543.2 136.8 539.3 137.6 534.8 137.7 530.4 137.1 521 134.4 516.2 133.6 497.6 133.4 485.4 131.8 475.8 129.2 464.3 124 460.4 123.4 459.1 124 458.5 125.1 458.2 133.4 457 137.5 455.6 139.6 454 140.9 450.8 141.8 448.9 141.3 446.9 139.9 445.7 138.1 444.6 135.5 444.3 130.3 446 122 445 120.3 442.4 118.9 439.2 118.3 424.5 117.5 414.9 118.2 407.8 120.6 402 124.5 391.8 134.6 387.9 137.7 382.8 140.3 376.4 141.8 365.5 142.1 354.5 140.5 346.8 137.9 334.7 131.9 330.8 130.5M420.6 163.3 423.2 162.5 425.1 163.3 425.9 164.5 425.6 166.5 424.5 167.6 423.2 168 420.9 167.6 419.9 166.5 419.6 165.5 420.5 163.4Z" fill="none" stroke="#111" stroke-width="1.3"/>
<path d="M561.8 118 556.7 116.5 553.5 116.7 550.9 117.6 547.6 119.9 541.3 127 538.7 128.4 536.1 129.1 532.3 129.2 519.4 127.6 503.4 129.2 496.3 129.3 488.7 128.3 480.9 126 475.1 123 464.9 116.1 457.2 113.2 450.1 112.1 441.8 111.5 419.3 111.9 410.4 113.3 403.9 115.8 400.1 118.7 391.1 127.4 384.1 131.7 376.4 134 368 134.7 358.4 133.7 348.8 130.7 341.7 126.7 330.8 118M450.1 131.2 451.4 130.9 452.1 131.5 452.4 133.4 451.4 134.6 450.1 134.4 449.6 133.4 450 131.3Z" fill="none" stroke="#111" stroke-width="1.3"/>
<path d="M396 103.4 398.2 104.4 398.9 105.4 398.8 106.5 395.6 111.4 392 118.9 388.6 123.3 384.7 126.2 379.6 128.6 373.8 130 367.4 130.5 361 130 354.5 128.4 348.8 125.8 344.3 122.3 341.1 117.8 337.1 107.5 337.3 105.4 338.5 104.4 340.9 103.3M531.3 103.3 536.5 105.4 537.2 106.5 537 107.5 530.9 114.7 527.3 117.8 521 121 511.8 124 504.7 125.5 498.3 126 492.5 125.5 487.4 124.4 482.9 122.5 478.9 119.9 474.5 115.8 467.7 107.5 467.1 105.4 467.6 104.4 469 103.3" fill="none" stroke="#111" stroke-width="1.3"/>
<path d="M492.5 104.4 502.8 104.4 507.3 105.1 511.3 106.5 514.3 108.4 515.6 110 516.2 112.7 515.6 114.7 514.2 116.8 511.7 118.9 507.9 120.8 504 122 499.6 122.6 495.7 122.5 488.6 120.8 485.3 118.9 483 116.8 481.2 113.7 480.9 110.6 481.9 108.5 484.6 106.5 488 105.2 492.5 104.4ZM362.2 106.4 368 106.2 373.1 106.6 377.6 107.5 381.5 109 384.1 111 385.8 113.7 386.2 116.8 385.2 119.9 382.8 122.7 379.6 124.8 375.7 126.2 371.2 127.1 366.7 127.4 361.6 127 357.1 125.9 352.9 124.1 350.1 122 347.8 118.9 347.3 115.8 348.1 113 350.1 110.6 353.3 108.6 357.1 107.3 361.8 106.5Z" fill="none" stroke="#111" stroke-width="1.3"/>
<path d="M366.7 110.6 373.1 111.4 378 113.7 379 114.7 380 116.8 379.2 119.9 377 122 374.4 123.3 370.6 124.3 366.7 124.5 362.9 124.2 359 123.2 356.5 122 354.2 119.9 353.4 116.8 354.3 114.7 355.4 113.7 360.3 111.4 366.4 110.6ZM495.1 110.5 498.9 110.3 502.1 111 504.4 112.7 504.7 114.7 502.7 116.8 500.2 117.7 497 117.9 493.8 117.1 491.8 115.8 491 113.7 492.3 111.6 494.7 110.6Z" fill="none" stroke="#111" stroke-width="1.3"/>
<path d="M415.5 127.1 410.4 128.9 405.8 132.3 402.2 137.5 400.7 142.7 400.9 147.9 403.3 153 407.2 156.5 409.7 157.8 412.3 158.5 415.5 158.3 425.2 156.2 429 154.7 430.9 153.1 433.2 150 434.4 146.8 435 143.7 434.8 139.6 434 136.5 432.3 133.4 430.3 131 427.1 128.8 423.2 127.4 419.4 126.8 415.5 127.1M480.3 141.5 475.8 143.6 473.4 146.8 472.7 151 473.8 154.1 476.5 157.1 480.3 159 484.8 159.4 488.6 158.5 491.9 156.3 493.8 153.5 494.4 150 493.6 146.8 491.9 144.5 488.6 142.4 484.8 141.3 480.9 141.4ZM525.2 157.1 519.4 159.4 517.4 161.3 516.7 163.4 517.4 165.5 518.2 166.5 520.7 168.2 523.9 169.5 531.6 170.7 539.3 170.1 545.8 167.9 547.6 166.5 548.9 164.5 548.8 162.4 547.4 160.3 542.5 157.7 534.2 156.3 525.9 157ZM350.7 159.1 349.1 160.3 348.6 163.4 349.8 165.5 351.3 166.1 353.3 165 354.1 162.4 353.3 160 351.3 159Z" fill="none" stroke="#111" stroke-width="1.25" stroke-dasharray="4.5 2.5"/>
<path d="M413.6 131.2 409.1 133.9 406.3 137.5 404.8 142.7 405.4 146.8 408.2 151 412.3 153.5 417.4 154.2 422.6 153 426.4 150.5 429 146.8 430.1 141.7 429.1 137.5 426.4 133.7 422.6 131.3 418.1 130.5 413.6 131.2M480.9 146.8 479.1 148.9 479.1 151 479.7 152.2 480.9 153.3 482.9 154 484.8 153.8 486.5 153.1 488 151 487.9 148.9 487.3 147.9 484.8 146.3 481.6 146.5Z" fill="none" stroke="#111" stroke-width="1.25" stroke-dasharray="4.5 2.5"/>
<path d="M415.5 134.4 412.9 135.5 410.4 137.8 409 140.6 408.9 143.7 410.1 146.8 412.3 148.9 415.5 150.1 418.7 150.1 421.7 148.9 424 146.8 425.5 143.7 425.6 140.6 424.3 137.5 422.1 135.5 419.4 134.3 416.1 134.3Z" fill="none" stroke="#111" stroke-width="1.25" stroke-dasharray="4.5 2.5"/>
<path d="M416.1 139.6 414.8 140.6 414.3 142.7 415.5 144.3 417.5 144.8 419.4 143.7 420 141.7 418.7 139.8 416.8 139.4Z" fill="none" stroke="#111" stroke-width="1.25" stroke-dasharray="4.5 2.5"/>
</g>
<g clip-path="url(#mc2)">
<rect x="330.8" y="186.2" width="231" height="82.8" fill="#fff"/>
<path d="M331.8 186.2 407.8 186.2 415.9 186.4 416.8 186.6 417 187.2 420.7 188.2 426.5 188.5 432.2 188.2 436.9 187.2 436.7 186.2 465.5 186.2 483.5 188.3 495.1 188.1 504.8 190.3 508.6 189.9 514.4 188.2 518.3 188.1 521.2 189.1 523.1 191.1 524.9 194.2 525.2 197.2 523.7 207.2 522.2 211.6 513.7 222.1 511.5 223.6 509.6 224.2 506.7 224.3 503.8 223.4 500.9 221.4 494.1 214.6 491.2 213 486.4 211.6 479.6 210.3 473.8 209.9 438.1 212.4 437.1 211.5 435.1 207.2 433.3 205.6 429.4 204.3 425.5 204.1 409.1 206.4 407.2 207.3 403.3 211.6 400.4 213.5 385.9 215.8 383 216.6 380.4 218.1 372.4 224.9 368.5 226.3 358.8 227.9 356.8 229.1 353 233 350.1 233.9 346.3 233 342.6 231.1 340.8 229.1 340.5 227.1 341.4 225.1 345.3 220.1 346.1 218.1 346.4 215.1 346.1 208.2 346.7 205.2 348.2 203 352.1 199.9 353 198.2 353 197.2 352.1 196 349.2 195.1 346.3 195.3 340.5 196.6 338.5 196.5 330.8 193.7 330.8 186.2ZM417.8 186.2 427.1 186.2 417.5 186.2ZM553.1 186.2 561.8 186.2 561.8 193.7 554.1 196.5 550.4 196.2 548.8 195.2 548.4 194.2 549.3 192.2 554.5 187.2 552.2 186.2ZM532.8 238.1 532.8 238.1ZM412 243 417.8 242.8 426.5 244.1 433.3 243.1 436.2 244.4 437.2 247.1 436.8 248.1 435.2 249.3 427.5 251.2 420.7 256.6 415.9 259.6 413 260.8 410.1 261.2 407.2 260.1 405.5 258.1 404.3 255.1 403.8 251.1 404.3 248.1 405.4 246.1 407.9 244.1 411.1 243.1ZM456.4 247.9 458.5 248.1 459.3 249.1 459.3 250.2 458.4 251.1 456.4 250.7 455.7 249.1 456.2 248.1Z" fill="#feeaa6"/>
<path d="M383 187.1 388.8 186.6 394.6 186.7 400.4 187.7 410.1 188.3 418.8 189.9 424.6 190.2 451.6 188.4 465.1 188.3 469.5 189.2 480.6 193.5 486.4 194.9 492.2 195.3 501.9 194.5 506.7 195.2 519.3 200.5 521.1 203.2 521.3 206.2 520.9 208.2 519.4 211.2 512.5 219.9 509.6 222 506.7 222.6 503.8 221.9 501.9 220.7 496.1 214.9 493.2 212.9 489.3 211.4 481.6 209.7 473.8 208.9 450.6 210.7 442 210.9 439.1 209.9 434.8 205.2 430.4 203.5 425.5 203.2 416.8 204.3 409.1 204.4 406.2 205.4 400.8 210.2 397.5 211.8 392.7 212.5 383 212.8 380.1 213.6 378 215.1 372.3 221.1 367.5 224 356.9 226.2 350.1 229.7 348.2 229.9 345.9 229.1 344.7 227.1 348 219.1 348 210.2 348.4 207.2 349.7 205.2 354 201.9 355.5 200.2 356.3 198.2 356.4 196.2 355.5 194.2 353 193 341.4 192 340.3 191.2 340.1 190.2 340.9 189.2 344.3 188 351.1 187.5 355.9 188 362.7 189.9 370.4 190.1 377.2 189.2 382.7 187.2ZM386 195.2 385.2 196.2 384.8 198.2 385.9 201 387.8 202.1 390.7 201.4 392.8 199.2 393.5 197.2 393.3 196.2 392.7 195.2 390.7 194.3 386.9 194.7ZM412 249.9 413.9 250 413.8 251.1 412 251.4 411.6 251.1 411.8 250.1Z" fill="#fdbb50"/>
<path d="M386.9 188.1 392 188.2 394 189.2 394.7 190.2 394.4 191.2 393.6 191.4 384.9 192.5 384 192.9 383 194.1 382.5 197.2 383 201.7 384 204.2 385.9 205.8 387.8 205.7 390.7 204.5 394.4 201.2 396.2 197.2 396.7 192.2 401.4 190.6 407.2 189.8 421.7 191.4 456.4 191.4 460.3 192.2 464.9 195.2 468 196.2 491.2 198 503.8 197.6 507.7 198.7 515.4 202.2 517.6 204.2 518.4 207.2 516.7 211.2 511.5 218.2 508.6 220.4 505.7 220.9 503.8 220.5 501.9 219.3 496.8 214.1 493.2 211.8 489.3 210.5 479.6 208.3 472.9 207.8 451.6 209.9 444.9 210.1 441 209.2 436.2 204.7 431.3 202.7 426.5 202.2 416.8 203.1 408.1 202.7 404.3 204.1 399.4 208.2 396.5 209.5 391.7 209.9 384 208.2 380.1 209.2 376.2 211.9 369.7 220.1 365.6 222.6 361.7 223.6 355 224.3 352.6 224.1 351.1 223.3 350.2 219.1 349.8 212.2 350.1 209 352.1 206.2 357.5 202.2 358.6 200.2 360.2 195.2 361 194.2 362.8 193.2 365.6 192.5 380.1 191.2 386.1 188.2Z" fill="#fa8c28"/>
<path d="M406.2 192 409.1 191.8 418.8 192.5 440 192.7 455.5 195.2 464.2 198.7 470 199.9 483.5 199.5 502.8 200.1 507.7 201.4 513.1 204.2 514.9 206.2 515.1 208.2 514 211.2 510.6 216.6 508.6 218.4 505.7 219.3 502.8 218.4 497 212.8 494.1 211 490.3 209.6 476.7 206.4 471.9 206.3 462.2 207.9 446.8 209.4 442 208.3 436.2 203.2 430.4 201.5 425.5 201.3 416.8 201.8 407.2 200.8 403.3 201.5 398.5 204 397.7 203.2 400.4 195.3 402.8 193.2 405.4 192.2ZM368.5 194.1 375.3 193.6 378.2 194.2 379.1 194.8 379.9 196.2 380.4 199.2 380.2 202.2 379.4 204.2 373.4 210.2 369.4 217.1 366.6 220 363.7 221.5 360.8 222.2 357.9 222.3 355 221.8 353 220.2 352.2 218.1 351.7 213.2 352.3 210.2 354 207.9 359.9 204.2 361 202.2 362.2 198.2 363.5 196.2 364.9 195.2 368 194.2Z" fill="#eb502a"/>
<path d="M410.1 194 431.3 193.5 439.1 194.1 456.4 198.3 465.3 202.2 466.8 203.2 467.1 204.2 466.1 205.2 463.6 206.2 458.8 207.2 450.6 208.4 445.8 208.4 442.5 207.2 438.1 202.7 434.2 201 428.4 200.2 415.9 200.3 411.2 199.2 406.3 197.2 406 196.2 406.8 195.2 409.1 194.2ZM369.5 196 373.3 195.6 376.2 196.3 377.6 198.2 377.2 201.5 375.3 203.9 369.9 208.2 368.9 210.2 367.6 215.1 365.8 218.1 361.7 220.3 358.8 220.6 356.8 220.1 355.3 219.1 354.1 217.1 353.8 214.1 354.2 212.2 355.9 209.9 362.5 207.2 363.8 206.2 365.3 199.2 366.8 197.2 368.8 196.2ZM482.5 202.2 487.4 201.8 498.6 202.2 504.8 203.1 508.6 204.7 510.7 206.2 511.8 208.2 511.7 210.2 510.5 213.2 508.6 215.9 506.7 217.3 504.8 217.5 502.8 216.6 498 211.8 495.1 209.9 485.7 207.2 481 205.2 480.1 204.2 480.3 203.2 482.5 202.2Z" fill="#cc1c28"/>
<path d="M422.6 195.2 435.3 195.2 443.9 197.8 452 199.2 457.1 201.2 459.4 203.2 459.5 204.2 458.5 205.2 456.2 206.2 452.6 207.2 446.8 207.5 443.5 206.2 440 201.9 437.1 200 430.4 199 418.8 198.6 416.6 198.2 415.1 197.2 415.9 196.1 422.3 195.2ZM495.1 205.1 501.9 205.5 506.4 207.2 507.7 208.4 508.3 210.2 507.6 213.2 505.7 214.8 503.8 214.6 498 209 493 206.2 494.8 205.2ZM358.8 211.8 360.8 211.3 362.7 211.6 364.3 213.2 364.1 216.1 361.8 218.1 358.8 218.4 356.9 217.1 356.5 214.1 358.1 212.2Z" fill="#9c1420"/>
<path d="M537.6 199.2 542.5 199.4 555 201.3 558.9 203 561.8 205.5 561.8 238 558.5 230.1 559.3 220.1 558.8 217.1 557.9 215.8 556 214.8 553.1 214.7 543.4 217.2 541.5 217.2 538.6 216.4 531.8 213.2 529.4 211.2 528.6 209.2 528.5 207.2 529.9 203 532.8 200.4 537.6 199.2ZM331.8 206 337.6 205.7 339.5 206.2 341.4 208.6 342.5 213.2 342.2 216.1 341.2 218.1 335.5 223.1 333.3 226.1 332.7 229.1 333.6 232.1 335.7 234.1 342.1 237.1 345 239.1 347.5 242.1 350.1 246.4 351.1 246.8 356.9 245.4 360.3 246.1 361.3 247.1 361.9 249.1 361.2 251.1 360 252.1 357.9 252.5 355.6 252.1 350.1 248.3 344.3 250.3 340.5 249.9 336.6 246.4 332.1 240.1 330.8 238 330.8 205.5ZM425.5 206.2 428.4 206.3 430.4 207 432.2 209.2 432 212.2 429.5 218.1 429.6 221.1 430.4 223.1 432.3 225.5 436.2 227.7 437.1 227.6 438.1 226.3 439.6 219.1 440.8 216.1 442 214.9 443.9 213.8 450.6 212.7 477.7 211.8 487.4 213.5 493.1 216.1 499.9 223.6 506.3 229.1 507.3 231.1 507.1 233.1 505.5 236.1 501.6 241.1 493.7 249.1 487.4 256.6 482.5 259.9 479.6 260.6 477.7 260.5 475.8 259.4 474.8 258.1 471.4 251.1 468.5 247.1 464.2 242.7 460.3 240.1 455.5 238.5 448.7 238.7 446.8 238.3 442.9 232.6 439.1 230.5 437.1 230.5 431.3 232.6 426.5 233.3 420.7 232.8 416.8 231.1 415.4 229.1 414.5 226.1 412.8 215.1 413.1 212.2 414.9 210.2 418.8 208.2 425.5 206.2ZM435.2 258.8 438.1 259.1 440 261.1 440.1 264.1 439.5 265.1 438 266.1 434.2 266.4 431.3 265.1 430.8 264.1 431.1 262.1 432.6 260.1 434.3 259.1Z" fill="#d8eef9"/>
<path d="M535.7 202 538.6 201.5 543.4 201.5 553.1 202.8 555 203.6 557 205.2 558.1 207.2 558.1 209.2 556.5 211.2 553.1 212.5 544.4 214.5 542.5 214.7 539.6 214.1 533.6 211.2 531.8 209.4 531.2 208.2 531.2 206.2 531.8 204.7 533.2 203.2 535.1 202.2ZM423.6 208 426.5 207.6 428.4 208 429.7 209.2 430.1 210.2 429.7 212.2 426.4 219.1 425.5 225.3 424.6 226.3 423.6 226.4 420.8 225.1 419.3 223.1 417.8 219.1 417.2 215.1 417.5 213.2 418.7 211.2 421 209.2 423.1 208.2ZM336.6 212 337.6 212 338.5 212.8 338.6 215.1 336.7 217.1 334.7 217.3 333.8 216.1 333.8 215.1 334.7 213.3 336.2 212.2ZM460.3 213.1 477.7 212.6 485.4 213.8 490.3 215.6 493.9 218.1 502.3 228.1 503.5 231.1 502.8 234.1 497.3 241.1 486.4 251.6 482.5 253.3 478.7 252.6 475.8 250.6 464.2 239.7 460.3 237.4 451.6 233.7 443.4 227.1 441.7 225.1 440.9 222.1 441 219.1 441.7 217.1 443.4 215.1 445.8 214.1 448.7 213.5 459.9 213.2Z" fill="#a8d8f4"/>
<path d="M537.6 204.1 545.4 203.5 551.1 204.2 553.1 205.1 554.2 206.2 554.5 208.2 553.1 209.9 550.1 211.2 545.4 212.2 541.5 212.1 536.9 210.2 534.8 208.2 534.7 206.1 535.7 205 537.5 204.2ZM424.6 210.8 425.5 210.6 426.4 211.2 425.5 213.1 424.6 213.7 423.6 213.7 423.1 213.2 423.1 212.2 423.8 211.2ZM449.7 214.1 475.8 213.3 482.5 214.1 487.4 215.3 492.3 218.1 498.6 226.1 500.5 230.1 500.1 233.1 496.1 238.5 487.4 246.8 483.5 248.7 481.6 248.9 478.7 248.2 473.8 245.4 464.2 237 453.5 231.7 443.9 224.8 442.8 223.1 442.3 221.1 442.3 219.1 443 217.1 445.4 215.1 449.6 214.1Z" fill="#70b4e6"/>
<path d="M546.3 206.2 549.2 206.9 549.5 207.2 549.2 208.2 545.4 209.1 542.2 208.2 542.2 207.2 546.1 206.2ZM448.7 215 475.8 214.2 481.6 214.8 486.4 216 490.5 218.1 494 222.1 497.4 228.1 497.8 230.1 497.4 232.1 494.1 236.7 486.4 244 482.5 245.5 478.7 245 473.8 242.5 465.1 234.8 455.5 230.4 445.4 224.1 443.7 221.1 443.9 218.1 445.6 216.1 448.1 215.1Z" fill="#3b80c6"/>
<path d="M473.8 215.1 481.6 215.7 487.4 217.6 489.5 219.1 491.2 221.1 494.1 226.7 494.6 229.1 493.5 232.1 487.4 239.2 483.5 241.9 479.6 242.2 475.8 240.7 467.1 233.1 456.4 228.7 447.8 224.1 445.7 222.1 445 220.1 445.3 218.1 446.1 217.1 449.7 215.8 473.3 215.1Z" fill="#1b4fa0"/>
<path d="M448.7 217.1 452.6 216.5 473.8 216.2 480.6 216.7 484.5 217.8 486.8 219.1 489 222.1 489.3 224.5 488.3 226.2 483.8 228.1 482.4 229.1 481.5 231.1 481.9 236.1 480.6 237.4 478.7 237.4 476.7 236.6 473.1 233.1 470 231 457.4 227 449 223.1 447.7 222.1 446.6 220.1 447.1 218.1 448.5 217.1Z" fill="#15266a"/>
<path transform="translate(0,186.2)" d="M330.8 57.6 332.1 58 332.7 59.5 333.5 62.1 334.7 64.2 335.9 66.3 337.2 69.4 337.5 69.2 336.9 67.8 335.8 65.2 335.3 63.2 334.3 60.6 335.9 63.2 337.9 66.8 340.1 71.5 341.1 73.5 345.6 76.6 347.5 76.6 348.8 78.2 351.3 79.4 352.6 80.8 352.9 82.8M354.2 82.8 354.2 77.7 351.3 76.8 351.3 74 352 70.9 349.7 71.5 349.4 73.8 347.2 74.4 345.6 71.5 345.2 66.8 345.6 64.2 347.5 62.4 350.1 63 350.7 61.8 353.3 62.4 354.5 63.2 354.9 65.2 355.8 67.1 356.5 65.8 356.1 63.7 355.6 61.1 357.1 58.5 359 57 359 54.9 360.3 51.3 362.9 50.2 362.6 48.7 364.8 46.9 366.4 45.8 368.7 46.1 365.8 48.2 368.7 46.1 366.7 43 365.1 41.4 369.3 41.2 371.9 39.9 371.9 38.3 370.6 36.8 368.7 35.2 368 33.1 366.4 30.8 364.2 32.6 362.9 30 357.8 28.5 357.8 32.6 358.4 35.7 356.8 39.9 354.9 38.8 353.3 35.9 351 34.7 348.4 34.2 347.2 32.1 347.5 30 349.7 27.4 352 26.4 350.1 24.3 346.8 22.8 344.9 23 340.4 22.3 338.5 22.8 334 22.8 330.8 21.2M561.8 21.2 558.6 20.7 555.4 20.7 552.2 21.2 548.3 21.1 542.5 20.3 538.4 19.4 534.8 20.5 532.3 22 533.6 23.8 531 25.3 532.9 26.4 535.5 26.4 533.6 28 532.3 29.5 533.2 30.8 534.8 31.3 537.4 32.4 538.1 33.7 534.8 36.2 533.9 36.6 539.3 33.7 541.3 31.6 542.5 30 545.1 30.2 549 31.4 551.5 33.1 554.1 36.2 555.4 37.3 557 40.9 559.2 43 559.2 45.6 559.2 49.7 559 51.4 560.2 54.4 561.5 57.5 561.8 57.6M353.3 70.6 355.2 69.7 358.1 70.9 360.2 72.3 357.9 72.6 355.8 70.7 353.3 70.6M360 74 361.3 72.6 363.8 73.7 362.9 74.4 360 74M368 24.3 365.4 29 362.2 28.2 357.8 26.4 356.5 20.7 351.3 20.2 355.2 17.1 358.4 17.9 362.2 20.2 364.8 21.7 368 24.3M346.8 13.5 356.5 13.5 368 8.8 362.9 7.2 350.1 8.8 346.8 11.4 346.8 13.5M332.7 18.6 340.4 17.6 343 20.7 337.2 22.3 332.1 20.7 332.7 18.6M348.8 16.1 356.5 16.1 356.5 14 348.8 14 348.8 16.1M352.6 26.9 356.1 26.9 353.9 28.5 352.6 26.9M361 12.4 365.4 14.5 370.6 15 372.5 19.7 374.4 22.3 375.7 26.9 379.6 31.1 380.9 30 382.8 25.4 387.3 22.8 393.7 20.7 393.7 17.6 396.2 14.5 395 10.4 400.1 8.8 395 7.2 386.6 6.7 378.9 7.8 369.3 8.3 366.1 9.3 361 12.4M392.4 25.4 393.7 24.4 397.5 24.3 399.1 25.9 396.2 27.5 393.7 27.1 392.4 25.4M398.5 82.3 397.1 80.3 396.7 78 397.4 73 396.9 71.5 398.5 66.3 399.5 64.5 401.6 61.6 401.7 59 403.9 56.1 406.5 56.9 409.7 55.1 414.2 54.7 414.9 57 414.3 58.2 417.7 59.9 420 61.8 420.6 59.9 422.6 59.4 423.8 60.3 427.1 60.9 428.7 60.9 429.9 60.6 430.6 57.5 430.9 55.3 428.3 55.7 426.4 55.3 425.1 54.1 424.7 51.8 426.4 50.7 427.7 50.6 430.3 49.7 432.2 50.7 434.4 50.2 434.6 48.7 432.8 47.1 431.9 46.3 432.7 44.3 430.3 46.4 429.3 47.1 428.7 46.1 427.7 44.9 426.8 46.4 426.1 47.9 425.8 49.9 424.7 51 422.6 51.3 423.2 53.9 422.2 55.4 421.3 53.3 420.3 51.8 420.2 49.7 418.1 48.2 416.5 45.9 415.7 46.6 416.8 49.7 419.7 51.7 418.1 53.9 417.8 51.8 415.8 50 414.2 47.6 413.3 47.3 411.6 48.6 409.9 48.5 409.9 49.7 408.1 51.3 407.5 53.1 406.5 55.1 404.3 55.9 403.6 54.9 402 54.9 402.2 49.7 401.9 48.5 406.8 48.3 407 45.6 404.8 43 406.8 42.8 408.8 41.4 410.4 39.9 411 37.9 413.3 37.6 413.3 34.2 414.5 33.5 414.5 36.8 415.8 36.9 416.8 37.3 419.4 36.5 421.3 35.2 421.6 33.7 423.2 34 422.9 31.9 427.1 31.1 422.2 30.8 421.6 29.5 421.6 28 424.2 25.9 421.9 25.1 419 28.5 419.7 31.1 418.4 34.7 417 35.7 416 35.2 415.2 33.1 414.2 32.1 412.3 33.1 411 32.1 411 29 414.2 26.9 416.8 23.3 418.7 21.2 421.9 20.2 424.5 19.7 427.1 20.7 429 21.4 431.5 22.3 434.1 23.4 432.8 24.9 430.3 26.4 431.5 27.1 434.1 26.4 436 24.9 436 22.3 439.9 22.8 442.4 22.3 445 22 446.3 20.9 450.8 22.3 452.1 17.9 454 18.1 454.3 22.8 455 19.2 459.1 18.1 461.1 20.7 459.1 17.1 463.6 16.6 468.8 14.5 474.5 12.7 480.3 17.1 485.4 17.6 490.6 18.6 493.1 19.2 497.6 18.1 504 19.1 510.5 21 516.9 20.7 523.3 22 528.4 24.3 529.7 25.1 527.1 26.6 523.9 25.9 522.7 28.5 519.4 29.3 516.9 31.1 512.4 31.6 511.8 34.2 510.5 37.3 508.3 40.4 507.9 38.5 507.6 33.7 508.5 32.2 505.3 31.9 500.8 31.8 498.3 32.6 496 37.3 498.3 38.3 498 42.5 496.3 45.6 493.1 48.9 491.5 49.2 490.9 51 490.8 54.9 490.6 56.9 489 57.5 488.8 54.2 487.8 52.2 485.8 52.8 485.6 51 483.5 52.6 483.5 53.9 485.1 54.4 486.4 54.9 484.5 57 485.4 59.9 486.1 62.1 485.8 64.2 484.5 66.8 482.9 68.9 480.9 70.1 478.7 71.5 478.3 70.9 477.1 70.9 476.1 72.5 475.6 74 477.4 77.7 477.9 80.8 477.1 81.8 476.2 82.8M440.5 80.9 436.4 82.4 435.6 81 435.1 79.2 433.1 77.2 431.7 73.5 430.6 69.4 429.6 65.2 428.7 62.2 429.5 64.4 430.3 62.7 430.6 64.2 431.5 66.8 432.8 70.4 434.1 74 435.3 77.7 435.6 80.1 436.7 80 438.9 78.7 441.3 76.9 443.1 75.1 444.9 73.5 446.2 69.9 445.3 68.8 444 65.9 443.7 67.8 442.8 68.1 440.8 67.8 440.7 66.2 440 66.8 439.6 65.2 438.6 62.7 439.9 62.1 440.8 64.4 442.4 65.6 444.1 65.1 444.6 66.6 447.3 67.1 450.5 66.9 451.1 68.4 451.8 69.2 452.7 69.9 454.4 71.1 454.6 73.5 455 76.6 455.8 80 456.6 82.8M459 82.8 459.3 79.2 459.3 76.8 460.6 75.6 462.2 73.1 463.6 70.9 464.6 70.4 465.5 70.4 466.7 70.1 467 71.8 468.4 75.1 468.3 76.6 470.4 76.1 470.4 78.2 471.1 82.8M471.5 82.8 472 79.2 472.5 79.3 473.6 80.8 474.2 82.3M438 47.1 439.6 45 441.8 44.7 440.7 46.4 441.8 49.5 442.4 51.3 441.9 52.5 442.4 54.6 440.5 55.2 439.2 54.3 439.6 51.5 438.3 49.2 438 47.1M491.8 60.9 492.3 58.5 492.8 56.4 495.1 56 497.6 53.3 498 50.2 498.6 50.4 498.9 52.3 498.3 54.9 498.1 56.6 497.5 57 495.7 57.4 494.4 58.4 492.8 59.2 491.8 60.9M497.6 49.7 498.6 46.2 501.2 47.6 499.8 49.7 498.3 49.9 497.6 49.7M498.9 45.6 499.9 42.5 499.2 37.1 498.9 40.4 498.9 45.6M484.9 69.9 485.4 67.1 486 67.3 485.4 70.4 484.9 69.9M484.8 74 486.2 74 486.1 76.1 487.4 79.7 485.2 78.9 484.8 76.6 484.8 74M404.1 41.4 408.7 40.2 408.9 38.6 407.9 37.8 406.8 35.9 406.5 33.5 405.7 32.5 404.6 32.5 403.8 34.7 404.6 36.2 405.9 37.3 404.9 38 404.9 39.4 404.5 39.8 405.9 40.1 404.1 41.4M403.9 39.4 403.9 37.3 403.1 35.9 402.3 36.8 401.4 37.3 401.4 39.4 402.7 39.9 403.9 39.4M414.9 11.9 418.1 10.4 423.8 10 425.1 11.9 419.4 14 416.8 12.9 414.9 11.9M441.2 19.7 443.7 17.6 445 15 451.4 13.5 446.3 17.1 444.4 20.2 441.2 19.7M468.8 11.4 472 9.3 475.2 10.9 472 12.4 468.8 11.4M495.7 15.5 498.9 14.5 502.8 15.2 497.6 16.6 495.7 15.5M522.3 19.7 524.6 19.2 523.6 19.9 522.3 19.7" fill="none" stroke="#8ea3ab" stroke-width="0.9" stroke-linejoin="round"/>
<path d="M561.8 199.3 557.3 198.4 552.2 198.3 547.7 199.2 545 200.7 543 203.8 539.8 215.2 536.8 221.9 533.6 226 531.6 227.2 529.7 227.6 526.5 226.8 519.4 221.5 516.2 220.3 502.8 221.3 483.5 220.7 464.9 222.2 457.2 222 448.2 220.6 430.9 216.7 422.6 214.5 409.7 210.4 403.3 209.3 397.5 209.6 385.3 212.9 377 214.2 368 214.6 359 213.9 351.3 212.3 344.3 209.6 340.2 206.9 334 200.9 330.8 199.3M330.8 234.5 332.1 236.9 332.8 241.1 332.1 245.2 330.8 247.7M561.8 247.7 559.2 249.4 557.3 249.2 556 248.4 554.1 245.2 553.4 241.1 554.1 236.9 556 233.8 557.3 233 559.2 232.8 561.8 234.5" fill="none" stroke="#111" stroke-width="1.3"/>
<path d="M561.8 188 555.4 188 547.7 188.8 542.5 190.5 539.3 192.7 538 194.5 536.9 197.6 536.6 207.9 535.3 214.2 533.8 217.3 532.3 219.1 531 220 529.1 220.5 526.5 219.7 520.1 215.2 516.9 214.4 513.7 214.7 503.4 217.2 496.3 218 469.4 218.8 458.5 218 420.6 209.9 412 206.9 400.7 201.9 397.5 201.1 395 201.9 387 206.9 380.9 209.1 371.9 210.4 362.2 209.9 354.9 207.9 350.3 204.8 349.1 202.8 348.8 200.7 349.8 194.5 348.1 192 342.4 189.7 330.8 188" fill="none" stroke="#111" stroke-width="1.3"/>
<path d="M487.4 186.2 499.6 187.4 507.9 189.6 512.4 192.3 518.2 198.8 520.1 199.9 525.9 198.4 528.4 199 530.4 201.1 531.8 204.8 531.9 209 531 211.7 529.1 213.3 527.1 213.1 525.2 211.8 520.7 207.4 518.8 206.7 516.9 207.3 507.3 212.4 498.3 214.9 482.2 216.1 466.2 215.8 457.8 214.6 422.6 207 415.4 203.8 413 201.7 411.9 199.7 412 196.6 414.2 193.4 417.4 191.2 422.6 189.5 430.9 188.4 448.9 187.8 470.4 186.2M364.8 199.5 369.3 198.8 373.8 199.3 376.8 200.7 377.7 201.7 377.8 202.8 377.2 203.8 375.7 204.7 373.1 205.5 369.3 205.9 365.4 205.4 362.9 204.5 361.3 202.8 361.5 201.7 362.2 200.8 364.3 199.7Z" fill="none" stroke="#111" stroke-width="1.3"/>
<path d="M469.4 191.3 477.1 190.8 484.8 191 491.9 191.9 497.6 193.3 502.8 195.6 506.6 198.6 508.6 201.7 508.6 204.8 507.4 206.9 504.9 209 501.5 210.7 497.1 212.1 486.1 213.7 472.6 213.8 463 212.6 445 207.8 427.9 204.8 422.8 202.8 421.4 201.7 420.4 199.7 421.1 197.6 422.1 196.6 424.5 195.3 428.3 194.2 434.8 193.7 450.8 193.8 469 191.4Z" fill="none" stroke="#111" stroke-width="1.3"/>
<path d="M472 195.5 482.9 195.2 492.5 196.9 496.7 198.6 499.6 200.7 500.9 202.8 500.8 204.8 499.3 206.9 497.8 207.9 492.4 210 484.8 211.2 475.8 211.4 468.8 210.6 462.1 209 455 205.9 451 202.8 451 201.7 454.7 199.7 463.6 197 471.8 195.5Z" fill="none" stroke="#111" stroke-width="1.3"/>
<path d="M400.7 218.1 397.5 220 395.5 222.4 394.7 225.6 395.6 229.7 398.2 232.8 401.4 234.5 405.2 235 409.1 234 412.1 231.8 413.9 228.7 414.3 225.6 413.3 222.4 411.6 220.3 408.4 218.3 404.6 217.5 401.4 217.9ZM478.4 226.5 475 227.6 472 229.4 469.6 231.8 468.5 233.8 467.8 236.9 468 240.1 469.1 243.2 470.5 245.2 472.6 247.5 475.2 249.3 478.4 250.6 481.6 251.3 488 250.8 491.2 249.6 494.4 247.7 498 244.2 500 240.1 499.6 235.9 497.6 231.8 494.3 228.7 489.5 226.6 484.2 225.9 478.4 226.5M377 230.7 375.6 231.8 375.1 233.8 375.6 235.9 377 237 378.5 235.9 379 233.8 378.5 231.8 377.1 230.7ZM516.2 238.9 513.4 240.1 512.4 241.1 512.1 242.1 513.4 244.2 515.4 245.2 518.8 245.9 522 245.7 524.6 244.8 526.1 243.2 525.6 241.1 523.3 239.5 520.1 238.7 516.2 238.9" fill="none" stroke="#111" stroke-width="1.25" stroke-dasharray="4.5 2.5"/>
<path d="M403.3 222.3 401.4 223.5 400.7 224.5 400.6 226.6 402 228.7 403.3 229.3 405.2 229.4 407.8 228 408.6 225.6 407.2 223 405.9 222.3 403.9 222.2ZM479.7 229.6 475.8 231.8 473.7 234.9 473.5 239 474.9 242.1 477.7 244.8 481.6 246.2 486.1 246.1 489.9 244.4 492.3 242.1 493.7 239 493.7 235.9 492.3 232.8 490 230.7 486.7 229.4 482.9 229 479.7 229.6" fill="none" stroke="#111" stroke-width="1.25" stroke-dasharray="4.5 2.5"/>
<path d="M481.6 233.7 479.9 234.9 479.3 235.9 479 236.9 479.5 239 480.4 240.1 482.2 241 485.4 240.8 487.5 239 488 237.2 487.8 235.9 485.7 233.8 482.2 233.5Z" fill="none" stroke="#111" stroke-width="1.25" stroke-dasharray="4.5 2.5"/>
</g>
<g clip-path="url(#mc3)">
<rect x="330.8" y="269" width="231" height="82.8" fill="#fff"/>
<path d="M368.5 269.4 369.3 269 494.4 269 495.4 270 495.5 271 492.7 279 490.5 291 489.3 293 487.4 294.3 484.5 294.7 473.8 293.9 448.7 294.6 437.1 294.2 427.5 295 423.6 293.9 416.8 289.6 414.9 289.1 412 289.3 409.8 290 403.3 293.7 393.6 295.8 392.4 297 390.7 301 388.8 302.2 387.8 302.1 383 299.6 380.1 300.1 378.2 302.5 376.7 309 375.7 311 374.6 312 372.4 313.1 367.5 314.6 361.7 315.4 358.8 314.5 356.5 312 356 310 356 303 355.2 299 352.5 295 346.7 290 345.6 287 347.2 283 352.1 277.5 355 275.9 362.6 273 367.6 270ZM505.7 282.9 510.6 282.3 516.4 282.3 519.3 282.8 521.4 284 522.1 285 522.4 287 521.6 291 519.4 297 517.3 299.5 515.4 300.2 513.5 300.1 501.9 297.3 499 295.5 498.1 294 497.8 292 498.7 288 501.1 285 505.2 283ZM550.2 286.9 553.1 286.1 556.6 287 558.9 289.3 560.5 293 561.8 300.1 561.8 331.2 560.8 329.9 560.2 327.9 559 315 558 311 555.9 309 548.3 305.9 546.5 304 545.6 302 545.2 298 545.9 293 547.3 289.7 550 287ZM331 301 331.8 303 333.7 304.9 341.4 307.7 345.6 310 347.4 312 348.2 314 347.5 318 343.4 325.3 339.5 328.6 335.6 330.8 332.7 331.7 330.8 331.2 330.8 300.1ZM529.9 302.8 530.9 302.8 531.8 304.6 534.3 316 533.8 319.9 531.8 321.2 529.9 320.9 527 318.9 524.1 315 523.3 312 523.4 310 524.3 308 529.6 303ZM408.1 336.7 409.1 337.7 409.3 338.9 409.1 340.1 408.1 341.4 407.2 341.2 406.7 339.9 406.9 337.9 407.7 336.9Z" fill="#feeaa6"/>
<path d="M375.3 269.9 388.5 269 484.8 269 490.4 270 491.7 271 492.3 273 489.4 289 487.6 292 485.4 293.3 482.5 293.6 473.8 293.2 449.7 294 437.1 293.3 428.4 293.5 424.6 292.4 417.8 287.8 414.9 287.2 411 287.3 399.4 291.3 391.7 290.5 388.8 291 384 294.9 378.2 298 376.2 300.7 373.7 307 371.4 309.4 366.6 311.4 361.7 311.5 359.8 310.6 358.8 309.4 356.1 298 354 294.8 348.9 290 347.9 288 348.1 286 350.4 282 355 277.9 369.5 271.5 374.6 270ZM504.8 284.7 510.6 284.3 513.5 285 515.5 286 516.9 288 517.3 290 516.6 293 515.4 295 513.5 296.4 510.6 296.8 504.8 296.1 501.9 294.9 500.3 293 499.9 290 501.3 287 503.9 285ZM551.2 288.7 553.1 288.3 555 288.8 556.7 290 558.1 292 559.2 295 560 300 559.9 304 558.9 305.6 556 306 552.1 305.3 549.6 304 547.9 302 547 299 547.2 295 548.7 291 550.6 289ZM332.7 307.8 336.6 307.8 340.5 308.7 343 310 344.9 312 345.6 314 345.1 317 343.4 320 340.5 322.5 337.6 323 335.6 322.4 332.7 319.1 331.5 316 330.8 312 331.1 309 332.1 308ZM561.8 310.7 561.8 311.4 561.8 311Z" fill="#fdbb50"/>
<path d="M391.7 270 414.9 269.5 483.5 270 487.4 270.8 489.3 272 490.2 274 490.2 276 488.2 288 486.5 291 484.5 292.2 449.7 293.3 429.4 292.1 425.7 291 418.8 286.4 413.9 285.4 408.1 286 399.4 288.7 389.8 288 386.9 289.1 382.2 293 376.2 297 372.4 304.5 370.2 307 368.5 308 365.6 308.8 363.7 308.8 361.5 308 359.8 305.9 356.5 296 350.5 289 350.4 286 352.1 283 354.8 280 357.8 278 371.4 272.5 378.2 271 390.7 270ZM506.7 285.9 510.6 286.4 512.9 288 513.5 289 513.7 291 512.7 293 511.5 293.9 509.6 294.6 506.7 294.6 504.2 294 502.7 293 501.7 291 502 289 503.5 287 505.8 286ZM552.1 290.8 554.1 290.9 555 291.5 557.3 295 557.9 300 557.2 302 556 303.1 554.1 303.4 552.1 303.1 550.2 301.8 549.1 300 548.7 298 549 295 550.2 292.3 551.7 291ZM337.6 309.9 341.3 311 342.4 312.1 343.1 314 342.2 317 341.3 318 339.5 318.8 336.6 318.1 334.4 315 334.2 312 334.7 311 336.7 310Z" fill="#fa8c28"/>
<path d="M393.6 271 413.9 270.5 460.3 270.4 483.5 271.4 486.4 272.3 488 274 488.5 277 488 283 486.4 288.7 485.4 290 483.7 291 462.2 292.4 446.8 292.5 429.4 290.6 426.5 289.4 419.7 284.9 414.9 283.7 409.1 283.9 398.5 286.3 389.8 285.9 385.9 287.4 381.1 291.3 375.1 295 373.6 297 370.9 303 369 305 365.6 306.2 363.7 306 362.1 305 360.7 303 357.7 295 353.7 290 352.7 288 353.3 285 355.4 282 357.5 280 360.8 278.2 372.4 273.9 380.1 272.3 393.4 271ZM506.7 288 509.6 289 510.1 290 509.9 291 508.8 292 505.7 292.2 504.3 291 504 290 504.5 289 506.5 288ZM552.1 294.3 553.1 294 554.1 294.5 555.1 296 555.3 299 554.1 300.4 552.1 300.1 551.3 299 550.9 297 551.5 295Z" fill="#eb502a"/>
<path d="M398.5 272 461.3 271.4 474.8 272.7 482.5 272.9 485.3 274 486.4 275.8 486.8 279 486.5 284 485.1 288 483.5 289.5 481.6 290.2 464.2 291.5 450.6 291.8 443.9 291.3 430.4 289 427.5 287.7 421.7 283.7 415.9 282 409.1 281.9 398.5 283.7 389.8 284 385.9 285.2 379.1 290.2 372.7 293 371.4 294.9 369.5 301 367.5 302.9 364.6 303.2 362.7 301.8 359.6 294 355.8 288 356.2 285 359.3 281 364.9 278 374.3 275.1 381.1 273.9 398.2 272Z" fill="#cc1c28"/>
<path d="M441 273 463.2 272.9 469.2 274 473.8 276 481.6 275.3 483.5 276.3 484.5 277.9 484.9 282 484.6 285 483.6 287 482.5 288 479.6 288.9 463.2 290.6 447.7 290.8 442.4 290 431.9 287 429.4 285.8 424.6 282.4 420.7 280.7 414.9 279.6 408.1 279.4 402.3 279.7 387.8 282.1 384 283.7 379.1 287.4 376.2 288.4 373.3 288.3 368.5 287.4 362.7 287.7 361.2 287 360.6 286 360.8 284 363.5 281 367.5 279 375.1 277 400.4 274 416.8 273.2 440.6 273Z" fill="#9c1420"/>
<path d="M518.3 270.9 524.1 270.5 529.5 271 532.3 272 536.7 274.5 540.5 275.5 551.2 275.1 553.1 275.8 554.7 277 555.2 278 555.1 279 553.9 280 549.2 281.6 546.3 283.2 544.4 285 541.5 289.4 540.5 290.1 539.6 290 537.6 287.5 534.2 281 531.8 278.5 528.9 277.4 515.6 275 513.5 274 513.9 273 515.2 272 517.7 271ZM505.7 274 509.1 274 510.8 275 508.9 277 505.1 279 499.9 280.7 498 280.6 497.7 279 499 277 501.9 275 505.1 274ZM335.6 288.7 336.6 288.2 338.5 288.4 348.9 295 351.2 297 352.6 299 353.4 302 352.9 305 351.6 307 350.1 307.8 347.2 307.4 338.8 304 335.8 302 334.1 299 333.5 295 333.8 292 335.4 289ZM437.1 295.9 474.8 295.4 480.6 296.2 487.4 298.1 489.3 299.3 490.7 301 496.1 312.8 498 315.8 504.9 322 505.7 324.9 505.3 326.9 503.8 328.4 498 327.1 495.1 328 492.7 330.9 489.4 338.9 487.5 341.9 476.7 351.3 474.8 351.9 472.9 350.8 470.9 348 468.2 334.9 467.1 332.7 465.1 331 462.2 330.3 454.5 330.4 444.9 327.6 440 325.4 434.2 321.3 430.4 320 421.7 319.4 415.9 321.3 413.9 321.4 410.1 320.2 407.4 318 406.6 316 406.3 314 407.2 311.1 409.1 310.1 413.9 311.2 414.9 310.9 415.9 309.1 416.8 302 417.8 299.6 419.2 299 426.5 298.4 436.2 296Z" fill="#d8eef9"/>
<path d="M337.6 293 339.5 292.5 342.4 293.2 346.3 294.9 349.5 297 351.2 299 351.9 301 351.8 303 350.7 305 349.2 305.8 346.3 305.6 340.5 303.4 337.6 301.5 336.4 300 335.7 297 336 295 337.5 293ZM436.2 296.9 474.8 296.2 482.5 297.7 487.1 300 489.6 303 491.4 307 493.8 315 494.6 320 494 322 490.8 327.9 487.5 335.9 485.4 339 482.5 341.7 479.6 343.5 477.7 344.2 475.8 344.3 473.9 342.9 472.9 341.1 469.5 331.9 466.7 328.9 463.2 327.9 454.5 327.9 448.7 326.5 442.9 324.1 435.2 319 426.5 316.6 423.3 315 421.7 313 420.9 310 421 306 422.4 303 427.3 300 435.9 297Z" fill="#a8d8f4"/>
<path d="M339.5 295.5 341.4 295.1 343.4 295.4 348.2 297.7 350 300 350.1 302 349.6 303 348.2 303.9 346.3 304 340.9 302 339.5 301 338.2 299 338.2 297 338.8 296ZM469 297 473.8 296.9 477.7 297.4 481.6 298.5 484.6 300 486.8 302 488.2 304 490.4 310 491.1 315 490.9 319 486.8 330.9 484.1 335.9 481.9 337.9 479.6 339.1 477.7 339.4 475.8 338.5 474 335.9 471.2 329.9 468 326.9 464.2 325.8 454.5 325.7 447.7 324 444.9 322.6 437.1 317.6 426.8 314 425.5 313 424.2 311 423.9 307 425.4 304 429 301 434.2 298.5 440 297.5 468.5 297Z" fill="#70b4e6"/>
<path d="M342.4 297.9 344.3 297.9 346.3 298.8 347.3 300 347.3 301 345.3 301.6 343.2 301 341.9 300 341.5 299 342.2 298ZM454.5 298 475.8 297.9 482.1 300 485.6 303 487.3 306 488.3 309 488.6 315 483.7 329.9 481.6 333.2 479.6 334.2 477.6 333.9 475.8 332.2 472.5 326.9 469 324.5 465.1 323.6 454.5 323.4 449.7 322.3 446.5 321 439.1 316.2 429.4 312.7 427.5 311.1 426.8 310 426.6 308 427.7 305 430.5 302 433.6 300 439.1 298.5 453.8 298Z" fill="#3b80c6"/>
<path d="M448.7 299 472.9 298.6 476.4 299 479.4 300 482.5 302 485.3 306 486.4 311 485.6 315 484.5 316.8 482.5 318.5 477.7 320.7 456.4 320.9 449.7 319.3 442.2 315 433.3 311.9 430.3 310 429.6 308 430 306 432.1 303 434.7 301 439.1 299.6 448.7 299Z" fill="#1b4fa0"/>
<path d="M448.7 300 470.9 299.5 475.8 300 479.6 301.8 481.8 304 483.2 307 483.3 310 482.5 311.7 480.6 312.7 472.9 312.5 465.1 315.5 460.3 316 452.6 314.7 438.1 310.9 435.2 309.8 433.2 308 433 307 433.5 305 436.3 302 440 300.7 448.6 300Z" fill="#15266a"/>
<path transform="translate(0,269)" d="M330.8 57.6 332.1 58 332.7 59.5 333.5 62.1 334.7 64.2 335.9 66.3 337.2 69.4 337.5 69.2 336.9 67.8 335.8 65.2 335.3 63.2 334.3 60.6 335.9 63.2 337.9 66.8 340.1 71.5 341.1 73.5 345.6 76.6 347.5 76.6 348.8 78.2 351.3 79.4 352.6 80.8 352.9 82.8M354.2 82.8 354.2 77.7 351.3 76.8 351.3 74 352 70.9 349.7 71.5 349.4 73.8 347.2 74.4 345.6 71.5 345.2 66.8 345.6 64.2 347.5 62.4 350.1 63 350.7 61.8 353.3 62.4 354.5 63.2 354.9 65.2 355.8 67.1 356.5 65.8 356.1 63.7 355.6 61.1 357.1 58.5 359 57 359 54.9 360.3 51.3 362.9 50.2 362.6 48.7 364.8 46.9 366.4 45.8 368.7 46.1 365.8 48.2 368.7 46.1 366.7 43 365.1 41.4 369.3 41.2 371.9 39.9 371.9 38.3 370.6 36.8 368.7 35.2 368 33.1 366.4 30.8 364.2 32.6 362.9 30 357.8 28.5 357.8 32.6 358.4 35.7 356.8 39.9 354.9 38.8 353.3 35.9 351 34.7 348.4 34.2 347.2 32.1 347.5 30 349.7 27.4 352 26.4 350.1 24.3 346.8 22.8 344.9 23 340.4 22.3 338.5 22.8 334 22.8 330.8 21.2M561.8 21.2 558.6 20.7 555.4 20.7 552.2 21.2 548.3 21.1 542.5 20.3 538.4 19.4 534.8 20.5 532.3 22 533.6 23.8 531 25.3 532.9 26.4 535.5 26.4 533.6 28 532.3 29.5 533.2 30.8 534.8 31.3 537.4 32.4 538.1 33.7 534.8 36.2 533.9 36.6 539.3 33.7 541.3 31.6 542.5 30 545.1 30.2 549 31.4 551.5 33.1 554.1 36.2 555.4 37.3 557 40.9 559.2 43 559.2 45.6 559.2 49.7 559 51.4 560.2 54.4 561.5 57.5 561.8 57.6M353.3 70.6 355.2 69.7 358.1 70.9 360.2 72.3 357.9 72.6 355.8 70.7 353.3 70.6M360 74 361.3 72.6 363.8 73.7 362.9 74.4 360 74M368 24.3 365.4 29 362.2 28.2 357.8 26.4 356.5 20.7 351.3 20.2 355.2 17.1 358.4 17.9 362.2 20.2 364.8 21.7 368 24.3M346.8 13.5 356.5 13.5 368 8.8 362.9 7.2 350.1 8.8 346.8 11.4 346.8 13.5M332.7 18.6 340.4 17.6 343 20.7 337.2 22.3 332.1 20.7 332.7 18.6M348.8 16.1 356.5 16.1 356.5 14 348.8 14 348.8 16.1M352.6 26.9 356.1 26.9 353.9 28.5 352.6 26.9M361 12.4 365.4 14.5 370.6 15 372.5 19.7 374.4 22.3 375.7 26.9 379.6 31.1 380.9 30 382.8 25.4 387.3 22.8 393.7 20.7 393.7 17.6 396.2 14.5 395 10.4 400.1 8.8 395 7.2 386.6 6.7 378.9 7.8 369.3 8.3 366.1 9.3 361 12.4M392.4 25.4 393.7 24.4 397.5 24.3 399.1 25.9 396.2 27.5 393.7 27.1 392.4 25.4M398.5 82.3 397.1 80.3 396.7 78 397.4 73 396.9 71.5 398.5 66.3 399.5 64.5 401.6 61.6 401.7 59 403.9 56.1 406.5 56.9 409.7 55.1 414.2 54.7 414.9 57 414.3 58.2 417.7 59.9 420 61.8 420.6 59.9 422.6 59.4 423.8 60.3 427.1 60.9 428.7 60.9 429.9 60.6 430.6 57.5 430.9 55.3 428.3 55.7 426.4 55.3 425.1 54.1 424.7 51.8 426.4 50.7 427.7 50.6 430.3 49.7 432.2 50.7 434.4 50.2 434.6 48.7 432.8 47.1 431.9 46.3 432.7 44.3 430.3 46.4 429.3 47.1 428.7 46.1 427.7 44.9 426.8 46.4 426.1 47.9 425.8 49.9 424.7 51 422.6 51.3 423.2 53.9 422.2 55.4 421.3 53.3 420.3 51.8 420.2 49.7 418.1 48.2 416.5 45.9 415.7 46.6 416.8 49.7 419.7 51.7 418.1 53.9 417.8 51.8 415.8 50 414.2 47.6 413.3 47.3 411.6 48.6 409.9 48.5 409.9 49.7 408.1 51.3 407.5 53.1 406.5 55.1 404.3 55.9 403.6 54.9 402 54.9 402.2 49.7 401.9 48.5 406.8 48.3 407 45.6 404.8 43 406.8 42.8 408.8 41.4 410.4 39.9 411 37.9 413.3 37.6 413.3 34.2 414.5 33.5 414.5 36.8 415.8 36.9 416.8 37.3 419.4 36.5 421.3 35.2 421.6 33.7 423.2 34 422.9 31.9 427.1 31.1 422.2 30.8 421.6 29.5 421.6 28 424.2 25.9 421.9 25.1 419 28.5 419.7 31.1 418.4 34.7 417 35.7 416 35.2 415.2 33.1 414.2 32.1 412.3 33.1 411 32.1 411 29 414.2 26.9 416.8 23.3 418.7 21.2 421.9 20.2 424.5 19.7 427.1 20.7 429 21.4 431.5 22.3 434.1 23.4 432.8 24.9 430.3 26.4 431.5 27.1 434.1 26.4 436 24.9 436 22.3 439.9 22.8 442.4 22.3 445 22 446.3 20.9 450.8 22.3 452.1 17.9 454 18.1 454.3 22.8 455 19.2 459.1 18.1 461.1 20.7 459.1 17.1 463.6 16.6 468.8 14.5 474.5 12.7 480.3 17.1 485.4 17.6 490.6 18.6 493.1 19.2 497.6 18.1 504 19.1 510.5 21 516.9 20.7 523.3 22 528.4 24.3 529.7 25.1 527.1 26.6 523.9 25.9 522.7 28.5 519.4 29.3 516.9 31.1 512.4 31.6 511.8 34.2 510.5 37.3 508.3 40.4 507.9 38.5 507.6 33.7 508.5 32.2 505.3 31.9 500.8 31.8 498.3 32.6 496 37.3 498.3 38.3 498 42.5 496.3 45.6 493.1 48.9 491.5 49.2 490.9 51 490.8 54.9 490.6 56.9 489 57.5 488.8 54.2 487.8 52.2 485.8 52.8 485.6 51 483.5 52.6 483.5 53.9 485.1 54.4 486.4 54.9 484.5 57 485.4 59.9 486.1 62.1 485.8 64.2 484.5 66.8 482.9 68.9 480.9 70.1 478.7 71.5 478.3 70.9 477.1 70.9 476.1 72.5 475.6 74 477.4 77.7 477.9 80.8 477.1 81.8 476.2 82.8M440.5 80.9 436.4 82.4 435.6 81 435.1 79.2 433.1 77.2 431.7 73.5 430.6 69.4 429.6 65.2 428.7 62.2 429.5 64.4 430.3 62.7 430.6 64.2 431.5 66.8 432.8 70.4 434.1 74 435.3 77.7 435.6 80.1 436.7 80 438.9 78.7 441.3 76.9 443.1 75.1 444.9 73.5 446.2 69.9 445.3 68.8 444 65.9 443.7 67.8 442.8 68.1 440.8 67.8 440.7 66.2 440 66.8 439.6 65.2 438.6 62.7 439.9 62.1 440.8 64.4 442.4 65.6 444.1 65.1 444.6 66.6 447.3 67.1 450.5 66.9 451.1 68.4 451.8 69.2 452.7 69.9 454.4 71.1 454.6 73.5 455 76.6 455.8 80 456.6 82.8M459 82.8 459.3 79.2 459.3 76.8 460.6 75.6 462.2 73.1 463.6 70.9 464.6 70.4 465.5 70.4 466.7 70.1 467 71.8 468.4 75.1 468.3 76.6 470.4 76.1 470.4 78.2 471.1 82.8M471.5 82.8 472 79.2 472.5 79.3 473.6 80.8 474.2 82.3M438 47.1 439.6 45 441.8 44.7 440.7 46.4 441.8 49.5 442.4 51.3 441.9 52.5 442.4 54.6 440.5 55.2 439.2 54.3 439.6 51.5 438.3 49.2 438 47.1M491.8 60.9 492.3 58.5 492.8 56.4 495.1 56 497.6 53.3 498 50.2 498.6 50.4 498.9 52.3 498.3 54.9 498.1 56.6 497.5 57 495.7 57.4 494.4 58.4 492.8 59.2 491.8 60.9M497.6 49.7 498.6 46.2 501.2 47.6 499.8 49.7 498.3 49.9 497.6 49.7M498.9 45.6 499.9 42.5 499.2 37.1 498.9 40.4 498.9 45.6M484.9 69.9 485.4 67.1 486 67.3 485.4 70.4 484.9 69.9M484.8 74 486.2 74 486.1 76.1 487.4 79.7 485.2 78.9 484.8 76.6 484.8 74M404.1 41.4 408.7 40.2 408.9 38.6 407.9 37.8 406.8 35.9 406.5 33.5 405.7 32.5 404.6 32.5 403.8 34.7 404.6 36.2 405.9 37.3 404.9 38 404.9 39.4 404.5 39.8 405.9 40.1 404.1 41.4M403.9 39.4 403.9 37.3 403.1 35.9 402.3 36.8 401.4 37.3 401.4 39.4 402.7 39.9 403.9 39.4M414.9 11.9 418.1 10.4 423.8 10 425.1 11.9 419.4 14 416.8 12.9 414.9 11.9M441.2 19.7 443.7 17.6 445 15 451.4 13.5 446.3 17.1 444.4 20.2 441.2 19.7M468.8 11.4 472 9.3 475.2 10.9 472 12.4 468.8 11.4M495.7 15.5 498.9 14.5 502.8 15.2 497.6 16.6 495.7 15.5M522.3 19.7 524.6 19.2 523.6 19.9 522.3 19.7" fill="none" stroke="#8ea3ab" stroke-width="0.9" stroke-linejoin="round"/>
<path d="M561.8 274.8 552.2 274.9 532.9 276.3 524.6 277.6 518.8 279.4 515.2 281.5 513 283.5 507.7 292.9 504.2 297 498.9 300.8 493.1 303.2 486.7 304.4 466.8 305.6 448.9 308.7 442.4 309.1 435.4 308.6 427.1 306.7 419.4 304.1 408.4 299.3 403.3 298.1 387.9 299.1 374.4 297.9 371.2 299.2 364.8 304.8 362.9 305.3 361.6 305 359.7 303.4 357.4 299.1 356 293.9 354.3 283.5 353.1 280.4 351.3 278.1 348.8 276.4 345.6 275.6 330.8 274.8M531 293.5 533.6 293.1 535.9 294.9 536.4 298 534.8 300.3 532.3 300.7 529.9 299.1 529.3 296 530.4 293.9ZM547 304.2 549 303.8 551.5 304.1 555.4 306.2 558.5 310.5 560 315.7 559.8 320.8 558 326 554.7 329.8 550.9 331.4 547 331.1 543.2 328.6 540.7 325 539.2 319.8 539.4 314.6 540.6 310.5 543.2 306.6 547 304.3ZM355.8 314.5 357.8 314 359 314.5 360.3 316.4 360.8 318.8 360.6 321.9 359.7 323.9 358.4 325.3 357.1 325.9 355.8 325.8 354.5 325.1 352.9 321.9 353.3 317.7 354.5 315.7 355.7 314.6ZM511.1 314.3 513 313.7 515 313.9 516.9 315 518.3 316.7 518.9 318.8 518.6 321.9 517.2 323.9 515.7 325 513.7 325.4 511.8 325 509.2 322.7 508.5 320.8 508.4 318.8 509 316.7 510.6 314.6Z" fill="none" stroke="#111" stroke-width="1.3"/>
<path d="M364.8 269 373.1 272.9 383.4 270.8 389.2 270.6 396.2 271.6 405.2 274.5 407.2 273.9 411 271.1 415.6 269M495.4 269 497.6 270.1 499.6 271.8 500.2 273.2 500.1 275.3 497.7 286.7 496.7 289.8 494.8 292.9 491.5 296 485.9 299.1 478.5 301.2 459.8 303.7 449.5 304.4 442.4 304 436 302.8 429.6 300.9 423.8 298.3 420.1 296 416.5 292.9 409.1 283 407.8 282.2 403.1 287.7 400.7 289.8 396.9 292 392.4 293.6 387.9 294.3 384.1 294.1 371.9 290.7 369.9 291.1 365.4 293.2 363.5 293.1 362.2 291.8 361 288.7 359.3 274.2 359.7 271.1 361 269.8 362.8 269M549 309.3 551.5 309.7 553.5 311 555.1 313.6 555.9 316.7 555.8 319.8 554.6 322.9 552.8 325 550.2 326.1 547.7 325.7 545.8 324.4 544.1 321.9 543.3 318.8 543.4 315.7 544.6 312.5 546.4 310.4 548.5 309.4Z" fill="none" stroke="#111" stroke-width="1.3"/>
<path d="M463.6 269 471.3 270 477.1 271.4 481.4 273.2 484.8 275.9 487.4 280.4 488.2 285.6 487 289.8 484.6 292.9 480 296 473.9 298.2 464.3 300 454.6 300.7 446.9 300.4 439.9 299.1 433.5 296.9 428.4 293.9 424.7 289.8 423.6 285.6 424.3 280.4 426.6 276.3 429.6 273.6 434.1 271.6 440 270.1 448.1 269M382.8 279.4 387.3 278.6 389.8 279.2 391.8 280.3 393 281.6 393.9 283.5 393.2 286.7 390.8 288.7 387.9 289.6 384.7 289.5 381.5 288.3 379.6 286.4 379 283.5 380.2 281.2 382.7 279.4ZM549.6 317.6 549.5 317.7Z" fill="none" stroke="#111" stroke-width="1.3"/>
<path d="M450.1 274.2 456.6 273.9 462.3 274.3 467.5 275.3 472 277.1 475.5 279.4 478 282.5 479 285.6 478.4 288.7 475.9 291.8 472 294.1 465.8 296 459.1 296.9 452.1 296.9 445.7 296 439.9 294.2 435.9 291.8 434 289.8 432.8 286.7 433.3 283.5 434.8 281.1 437.6 278.4 441.2 276.4 445 275.2 450.1 274.2Z" fill="none" stroke="#111" stroke-width="1.3"/>
<path d="M454 280.4 459.8 280.7 464.9 282.4 467.5 284.6 468.1 286.6 467.9 287.7 466.2 289.7 464.2 290.8 460.8 291.8 457.2 292.3 453.4 292.2 449.5 291.5 446.9 290.5 444.6 288.7 443.7 286.6 444.4 284.6 445.3 283.5 448.9 281.5 453.5 280.4Z" fill="none" stroke="#111" stroke-width="1.3"/>
<path d="M561.8 284 559.2 283.5 556 283.8 554.1 284.8 553.5 285.6 553.5 286.7 554.3 287.7 556.9 288.7 559.2 288.9 561.8 288.4M330.8 288.4 332.1 287.7 332.9 286.7 332.7 285.4 330.8 284M469.4 310.4 461.7 312.2 459 313.6 456.5 315.7 455.2 317.7 455 320.8 456 322.9 458.1 325 461.1 326.7 464.3 327.8 468.1 328.5 472.6 328.6 477.1 327.9 480.3 326.8 483.5 325 485.7 322.9 486.8 320.8 487 317.7 486.1 315.7 484 313.6 480.9 311.9 477.7 311 473.9 310.4 469.4 310.4" fill="none" stroke="#111" stroke-width="1.25" stroke-dasharray="4.5 2.5"/>
<path d="M467.5 313.5 463.6 315.1 461.3 317.7 461.3 319.8 461.8 320.8 464.2 322.9 468.1 324.2 472.6 324.3 477.1 323 479.9 320.8 480.4 319.8 480.5 317.7 479.3 315.7 477.9 314.6 473.2 313.2 468.1 313.4Z" fill="none" stroke="#111" stroke-width="1.25" stroke-dasharray="4.5 2.5"/>
</g>
<g clip-path="url(#mc4)">
<rect x="330.8" y="351.9" width="231" height="82.8" fill="#fff"/>
<path d="M331.8 351.9 488.3 352.2 561.8 351.9 561.8 353.1 556 354.6 554.7 355.9 557 368.9 558.6 370.9 561.8 372.6 561.8 383.9 557.9 384.5 552.1 383 546.3 385.7 544.4 386 542.5 385.4 541.1 383.8 540.7 381.8 542.9 374.9 542.7 372.9 539.6 369.9 535.7 368.4 532.8 368 529.9 368.3 527 369.5 525.4 370.9 524.2 372.9 523.7 374.9 524 381.8 523.1 383 522.2 382.8 518.6 379.8 516.4 379.1 513.5 378.8 506.7 379.3 503.8 378.6 501.9 376.8 499.3 371.9 497 369.1 495.1 367.8 492.2 367.2 489.3 367.8 482.5 371 471.9 371.3 468 371.9 459.3 376 454.5 377 450.6 376.9 445.8 376.1 434.2 372.1 427.5 371 418.8 371.2 406.2 373.4 392.7 373.6 389.8 374.8 388.8 376 388.8 378.3 391.1 382.8 391 383.8 389.8 385.2 372.4 391.4 364.6 393.5 359.8 393.9 356.9 393 354.2 390.8 350 384.8 349 381.8 350 379.8 356.1 374.9 357.7 371.9 357.4 369.9 356.3 367.9 355 366.5 350.9 363.9 350.1 362.9 350.1 361.9 351.1 360.8 357.9 357 358.8 355.9 359 354.9 356.9 353.8 345.3 352.6 336.6 352.4 330.8 353.1 330.8 351.9ZM331.2 372.9 334.7 375.9 336 378.9 335.8 379.8 334.2 381.8 330.8 383.9 330.8 372.6ZM425.5 399.6 428.4 400.6 431.1 403.8 431.9 407.8 430.8 410.8 425.5 415.5 421.6 420.8 418.3 423.8 410.1 428.9 408.1 429.4 406.2 428.7 404.3 425.8 403.3 421.8 403.4 416.8 404.5 413.8 406.2 412.1 408.1 411.3 415.9 409.9 418.8 408.8 420.6 406.8 423.6 400.8 425 399.8ZM464.2 411.8 467.2 412.8 469.2 415.8 469.2 419.8 468.6 420.8 467.1 421.7 464.2 422 461.3 421.4 459.3 420.3 458.3 418.8 458.3 415.8 459.6 413.8 461.3 412.5 464.1 411.8Z" fill="#feeaa6"/>
<path d="M369.5 351.9 464.2 352.2 475.8 353.4 484.5 357 487.4 357.5 499 354.8 508.6 354.4 520.2 355.9 523.1 357 529.9 360.6 532.8 361.5 536.4 361.9 530.9 362.3 527 363.7 524.1 365.9 519.3 372.5 517.3 374.2 513.2 375.9 508.6 376.7 505.7 376.5 503.8 375.4 498 367.6 495.1 365.7 492.2 365 488.3 365.6 481.6 369.1 468 370.5 465.1 371.6 459.3 375 454.5 376.1 450.6 376 446.8 375.3 435.2 370.8 428.4 369.6 420.7 369.5 407.2 370.7 395.6 370.6 390.7 371 387.6 371.9 384.4 373.9 383.2 375.9 381.7 382.8 377.3 386.8 373.3 388.9 368.5 390.3 363.7 391.3 359.8 391.1 357.1 389.8 355.2 387.8 353.7 384.8 353.5 382.8 354.5 380.8 359.1 375.9 360.8 372.9 360.9 369.9 359.5 363.9 359.8 361.9 362.7 358.4 370.3 352.9 369.3 351.9ZM544.4 362.7 545.1 362.9 543.8 362.9ZM426.5 403.7 427.5 403.9 428.3 405.8 427.5 407.8 426.5 408.2 425.5 408 425 406.8 425.3 404.8 426.2 403.8ZM413.9 413.7 416.8 413.9 418.3 414.8 418.5 415.8 417.8 417.8 416.1 419.8 413.9 421.2 412 421.9 410.1 422 409.1 421.4 408.1 419.8 408.4 416.8 410.1 414.8 413.2 413.8ZM464.2 413.8 466.1 414.5 466.9 415.8 466.8 417.8 465.1 419.1 463 418.8 461.5 416.8 462.1 414.8 464.1 413.8Z" fill="#fdbb50"/>
<path d="M405.2 352.9 445.8 352.3 467.1 353.4 472.9 354.4 477.7 356.2 483.1 359.9 484.7 361.9 484.8 362.9 483.6 364.9 480.6 367 477.4 367.9 467.1 369.2 459.2 373.9 454.5 375.2 447.7 374.4 437.1 369.8 429.4 368.3 418.8 368 395.6 368.6 388.8 369.4 384.1 370.9 381.1 372.9 379.4 375.9 377.7 382.8 376 384.8 373.3 386.7 368.5 388.4 363.7 388.9 360.8 388.4 358.5 386.8 357.5 384.8 357.5 382.8 362 375.9 363.3 372.9 362.9 362.9 363.9 360.9 366.1 358.9 371.4 356.2 378.2 354.3 385.9 353.6 405.1 352.9ZM499 357.7 502.8 357.1 507.7 357.3 512.5 358.1 516.4 359.4 518.5 360.9 519.6 362.9 518.7 366.9 516.4 370.4 513.2 372.9 509.6 374.1 505.7 373.8 503.8 372.3 499 365.9 494.1 361.9 493.8 360.9 494.4 359.9 498.4 357.9Z" fill="#fa8c28"/>
<path d="M413.9 353.9 446.8 353.1 462.8 353.9 469 355 474.8 356.9 479 359.9 480.2 361.9 480.2 362.9 479.6 364.1 477.7 365.5 466.1 367.8 463.2 369.4 458.6 372.9 454.5 374.1 448.7 373.5 438.1 368.4 430.4 366.9 419.7 366.4 400.4 366.5 387.8 367.7 382 369.4 378 371.9 376.3 374.9 375.2 381.8 372.5 384.8 369.5 386.2 366.6 386.6 363.7 386.2 361.7 384.8 361.2 383.8 361.3 381.8 366 372.9 365.4 363.9 366.2 361.9 368.5 359.9 374.3 357.4 382 355.7 413 353.9ZM502.8 360.6 507.7 360.2 511 360.9 513.2 361.9 514.3 362.9 514.9 364.9 513.9 367.9 512.1 369.9 509.6 371.1 507.7 371.3 505.7 370.6 503.8 368.6 501.1 363.9 500.9 361.9 502 360.9Z" fill="#eb502a"/>
<path d="M421.7 354.9 447.7 354.1 461.1 354.9 466 355.9 471.9 357.9 475.1 359.9 476.2 361.9 475.8 363 473.8 364.2 464.2 366.4 457.6 371.9 453.5 373 448.4 371.9 442 368 439.1 366.8 429.4 365.3 406.2 364.1 396.5 364.4 383 366.7 371.4 371.5 369.5 369.6 368.4 366.9 368.4 363.9 369.7 361.9 373.3 360 378.2 358.6 386.9 357.2 420.9 354.9ZM369.5 375.2 370.4 374.9 371.6 375.9 372.4 377.9 372.3 380.8 370.4 383.2 368.5 383.9 367.1 383.8 365.4 382.8 365.2 380.8 366.6 378.2 368.7 375.9Z" fill="#cc1c28"/>
<path d="M432.3 355.9 447.7 355.6 455.9 355.9 464.1 357.9 467.8 359.9 468.4 360.9 467 361.9 461.3 363.8 460.1 364.9 456.8 369.9 455.1 370.9 453.5 371.1 449.7 370.1 444.9 366.3 441 364.7 416.8 362.1 411 360.9 409 359.9 409.3 358.9 412.3 357.9 419 356.9 432 355.9ZM384.9 360.8 390.3 360.9 389.7 361.9 388.8 362.1 376.2 363.9 377.1 362.9 384.2 360.9Z" fill="#9c1420"/>
<path d="M491.2 371.8 494.1 371.8 496.1 374 496.5 376.9 495.3 382.8 499.2 390.8 499.8 393.8 499.8 398.8 498.4 405.8 491.2 421.1 489.1 424.8 486.4 426.8 483.5 426.4 475.8 421.3 473.8 418.8 470.3 411.8 467.1 409.5 462.2 409.2 455.5 411.3 452.6 411.7 440 408.5 437.1 406.1 428.4 395.8 425.5 393.4 423.6 392.5 421.7 392.2 419.7 393.1 417.1 401.8 414.9 404 412 404.7 409.1 404.2 406.7 402.8 405.5 400.8 405.1 398.8 405.3 395.8 407.7 389.8 409.1 388.1 413.9 384.6 416.2 379.8 417.6 377.9 421.7 375.5 425.5 374.7 429.4 374.9 442.8 377.9 454.5 378.8 459.3 378 467.1 375 470.9 374.1 474.8 374.1 482.5 375.1 485.4 374.9 491 371.9ZM339.5 385.7 343.4 386.1 347.2 388.8 349.8 392.8 351.9 398.8 352.7 399.8 359.8 400.4 362.4 401.8 363 403.8 361.8 406.8 357.9 408.9 353 409.4 352.1 408.9 351.5 407.8 350.1 403.7 349.2 403.5 342.4 404.4 338.5 404.3 334.7 403.4 331.8 401.8 330.8 400.9 330.8 391.1 334.4 387.8 338.7 385.8ZM561.8 391.1 561.8 400.9 560.4 398.8 559.7 395.8 560.1 393.8 561.2 391.8ZM461.3 427.6 464.2 427 466.7 427.8 468 429.8 467.7 431.8 466.2 432.8 464.2 433 462 432.8 460.3 432 459.3 430.8 459.3 429.8 460.9 427.8Z" fill="#d8eef9"/>
<path d="M470 375.7 475.8 375.7 489.3 378.1 490.3 379 491.9 383.8 496.4 391.8 497.2 396.8 496 402.8 489.1 418.8 487.4 421.3 485.4 422.7 482.5 422.6 477.4 419.8 474.8 416.9 471.4 410.8 468 408.5 463.2 407.8 452.6 409 443.9 407 440 405.3 436.2 402.2 429.8 394.8 425 387.8 423.5 383.8 423.3 381.8 423.9 379.8 425.5 378.5 427.5 377.8 454.5 379.7 460.3 378.8 469.3 375.9ZM339.5 387.7 342 387.8 344.3 388.9 346.3 390.8 347.7 393.8 347.7 396.8 346.6 398.8 345.3 400 342.4 401.2 339.5 401.4 336.6 400.7 333.8 398.8 332.6 396.8 332.4 393.8 333.3 391.8 335.6 389.4 339 387.8Z" fill="#a8d8f4"/>
<path d="M468 377.7 471.9 377.1 475.8 377.4 481.4 378.9 485.4 380.5 488.3 383.1 493.9 391.8 494.8 395.8 493.9 400.8 487.5 415.8 486.2 417.8 484.5 419.1 481.6 419.3 477.7 417.3 475.8 415 472.7 409.8 470.9 408.2 469 407.3 464.2 406.5 452.6 406.6 443.9 404.5 440 402.9 436.2 400.1 433.3 397 431 393.8 429.2 389.8 428.6 386.8 429.1 383.8 430.4 382.3 432.3 381.4 440 380.5 456.4 380.5 461.3 379.7 467.3 377.9ZM340.5 389.8 342.4 390.3 344.3 391.8 345.2 394.8 344.4 396.8 343.4 397.8 340.5 398.8 337 397.8 336 396.8 335.2 394.8 335.6 392.8 336.3 391.8 337.6 390.7 340 389.8Z" fill="#70b4e6"/>
<path d="M466.1 379.7 470 379 473.8 378.9 477.7 379.7 481.6 381.1 486.4 384.4 491.2 391.2 492.3 394.8 491.8 398.8 487.8 406.8 485.4 412.9 483.5 415.3 481.6 415.8 478.7 414.7 473.8 407.8 470.9 406.1 467.1 405.4 454.5 404.4 443.9 402.1 440 400.7 435.8 397.8 432.3 392.8 431.5 389.8 431.8 386.8 433.3 384.8 436.2 383.1 442.9 381.8 458.4 381.3 465.7 379.8ZM340.5 393.5 340.9 393.8 340.5 394.8 339.6 393.8Z" fill="#3b80c6"/>
<path d="M465.1 381.7 471.9 381 477.3 381.8 483.4 384.8 487.3 388.8 489.5 392.8 489.6 396.8 487.4 401 482.5 405.6 480.6 406.4 476.7 404.2 474.8 403.6 462.2 403.4 451.6 400.9 442 399.3 437.1 396.9 435.2 394.8 434.2 392.8 433.8 389.8 434.4 387.8 436.2 385.9 439.1 384.4 445.8 383 458.4 382.6 464.3 381.8Z" fill="#1b4fa0"/>
<path d="M446.8 384.7 470.9 384 476.6 384.8 481.2 386.8 484.5 389.4 486.5 392.8 486.4 395.8 485.4 397.4 483.5 398.6 480.6 398.5 474.8 397 472.9 397.7 468 400.7 465.1 401.2 462.2 400.8 453.5 397.5 442 396.7 438.1 395 437 393.8 436.2 391.8 437 388.8 440 386.6 445.9 384.8Z" fill="#15266a"/>
<path transform="translate(0,351.9)" d="M330.8 57.6 332.1 58 332.7 59.5 333.5 62.1 334.7 64.2 335.9 66.3 337.2 69.4 337.5 69.2 336.9 67.8 335.8 65.2 335.3 63.2 334.3 60.6 335.9 63.2 337.9 66.8 340.1 71.5 341.1 73.5 345.6 76.6 347.5 76.6 348.8 78.2 351.3 79.4 352.6 80.8 352.9 82.8M354.2 82.8 354.2 77.7 351.3 76.8 351.3 74 352 70.9 349.7 71.5 349.4 73.8 347.2 74.4 345.6 71.5 345.2 66.8 345.6 64.2 347.5 62.4 350.1 63 350.7 61.8 353.3 62.4 354.5 63.2 354.9 65.2 355.8 67.1 356.5 65.8 356.1 63.7 355.6 61.1 357.1 58.5 359 57 359 54.9 360.3 51.3 362.9 50.2 362.6 48.7 364.8 46.9 366.4 45.8 368.7 46.1 365.8 48.2 368.7 46.1 366.7 43 365.1 41.4 369.3 41.2 371.9 39.9 371.9 38.3 370.6 36.8 368.7 35.2 368 33.1 366.4 30.8 364.2 32.6 362.9 30 357.8 28.5 357.8 32.6 358.4 35.7 356.8 39.9 354.9 38.8 353.3 35.9 351 34.7 348.4 34.2 347.2 32.1 347.5 30 349.7 27.4 352 26.4 350.1 24.3 346.8 22.8 344.9 23 340.4 22.3 338.5 22.8 334 22.8 330.8 21.2M561.8 21.2 558.6 20.7 555.4 20.7 552.2 21.2 548.3 21.1 542.5 20.3 538.4 19.4 534.8 20.5 532.3 22 533.6 23.8 531 25.3 532.9 26.4 535.5 26.4 533.6 28 532.3 29.5 533.2 30.8 534.8 31.3 537.4 32.4 538.1 33.7 534.8 36.2 533.9 36.6 539.3 33.7 541.3 31.6 542.5 30 545.1 30.2 549 31.4 551.5 33.1 554.1 36.2 555.4 37.3 557 40.9 559.2 43 559.2 45.6 559.2 49.7 559 51.4 560.2 54.4 561.5 57.5 561.8 57.6M353.3 70.6 355.2 69.7 358.1 70.9 360.2 72.3 357.9 72.6 355.8 70.7 353.3 70.6M360 74 361.3 72.6 363.8 73.7 362.9 74.4 360 74M368 24.3 365.4 29 362.2 28.2 357.8 26.4 356.5 20.7 351.3 20.2 355.2 17.1 358.4 17.9 362.2 20.2 364.8 21.7 368 24.3M346.8 13.5 356.5 13.5 368 8.8 362.9 7.2 350.1 8.8 346.8 11.4 346.8 13.5M332.7 18.6 340.4 17.6 343 20.7 337.2 22.3 332.1 20.7 332.7 18.6M348.8 16.1 356.5 16.1 356.5 14 348.8 14 348.8 16.1M352.6 26.9 356.1 26.9 353.9 28.5 352.6 26.9M361 12.4 365.4 14.5 370.6 15 372.5 19.7 374.4 22.3 375.7 26.9 379.6 31.1 380.9 30 382.8 25.4 387.3 22.8 393.7 20.7 393.7 17.6 396.2 14.5 395 10.4 400.1 8.8 395 7.2 386.6 6.7 378.9 7.8 369.3 8.3 366.1 9.3 361 12.4M392.4 25.4 393.7 24.4 397.5 24.3 399.1 25.9 396.2 27.5 393.7 27.1 392.4 25.4M398.5 82.3 397.1 80.3 396.7 78 397.4 73 396.9 71.5 398.5 66.3 399.5 64.5 401.6 61.6 401.7 59 403.9 56.1 406.5 56.9 409.7 55.1 414.2 54.7 414.9 57 414.3 58.2 417.7 59.9 420 61.8 420.6 59.9 422.6 59.4 423.8 60.3 427.1 60.9 428.7 60.9 429.9 60.6 430.6 57.5 430.9 55.3 428.3 55.7 426.4 55.3 425.1 54.1 424.7 51.8 426.4 50.7 427.7 50.6 430.3 49.7 432.2 50.7 434.4 50.2 434.6 48.7 432.8 47.1 431.9 46.3 432.7 44.3 430.3 46.4 429.3 47.1 428.7 46.1 427.7 44.9 426.8 46.4 426.1 47.9 425.8 49.9 424.7 51 422.6 51.3 423.2 53.9 422.2 55.4 421.3 53.3 420.3 51.8 420.2 49.7 418.1 48.2 416.5 45.9 415.7 46.6 416.8 49.7 419.7 51.7 418.1 53.9 417.8 51.8 415.8 50 414.2 47.6 413.3 47.3 411.6 48.6 409.9 48.5 409.9 49.7 408.1 51.3 407.5 53.1 406.5 55.1 404.3 55.9 403.6 54.9 402 54.9 402.2 49.7 401.9 48.5 406.8 48.3 407 45.6 404.8 43 406.8 42.8 408.8 41.4 410.4 39.9 411 37.9 413.3 37.6 413.3 34.2 414.5 33.5 414.5 36.8 415.8 36.9 416.8 37.3 419.4 36.5 421.3 35.2 421.6 33.7 423.2 34 422.9 31.9 427.1 31.1 422.2 30.8 421.6 29.5 421.6 28 424.2 25.9 421.9 25.1 419 28.5 419.7 31.1 418.4 34.7 417 35.7 416 35.2 415.2 33.1 414.2 32.1 412.3 33.1 411 32.1 411 29 414.2 26.9 416.8 23.3 418.7 21.2 421.9 20.2 424.5 19.7 427.1 20.7 429 21.4 431.5 22.3 434.1 23.4 432.8 24.9 430.3 26.4 431.5 27.1 434.1 26.4 436 24.9 436 22.3 439.9 22.8 442.4 22.3 445 22 446.3 20.9 450.8 22.3 452.1 17.9 454 18.1 454.3 22.8 455 19.2 459.1 18.1 461.1 20.7 459.1 17.1 463.6 16.6 468.8 14.5 474.5 12.7 480.3 17.1 485.4 17.6 490.6 18.6 493.1 19.2 497.6 18.1 504 19.1 510.5 21 516.9 20.7 523.3 22 528.4 24.3 529.7 25.1 527.1 26.6 523.9 25.9 522.7 28.5 519.4 29.3 516.9 31.1 512.4 31.6 511.8 34.2 510.5 37.3 508.3 40.4 507.9 38.5 507.6 33.7 508.5 32.2 505.3 31.9 500.8 31.8 498.3 32.6 496 37.3 498.3 38.3 498 42.5 496.3 45.6 493.1 48.9 491.5 49.2 490.9 51 490.8 54.9 490.6 56.9 489 57.5 488.8 54.2 487.8 52.2 485.8 52.8 485.6 51 483.5 52.6 483.5 53.9 485.1 54.4 486.4 54.9 484.5 57 485.4 59.9 486.1 62.1 485.8 64.2 484.5 66.8 482.9 68.9 480.9 70.1 478.7 71.5 478.3 70.9 477.1 70.9 476.1 72.5 475.6 74 477.4 77.7 477.9 80.8 477.1 81.8 476.2 82.8M440.5 80.9 436.4 82.4 435.6 81 435.1 79.2 433.1 77.2 431.7 73.5 430.6 69.4 429.6 65.2 428.7 62.2 429.5 64.4 430.3 62.7 430.6 64.2 431.5 66.8 432.8 70.4 434.1 74 435.3 77.7 435.6 80.1 436.7 80 438.9 78.7 441.3 76.9 443.1 75.1 444.9 73.5 446.2 69.9 445.3 68.8 444 65.9 443.7 67.8 442.8 68.1 440.8 67.8 440.7 66.2 440 66.8 439.6 65.2 438.6 62.7 439.9 62.1 440.8 64.4 442.4 65.6 444.1 65.1 444.6 66.6 447.3 67.1 450.5 66.9 451.1 68.4 451.8 69.2 452.7 69.9 454.4 71.1 454.6 73.5 455 76.6 455.8 80 456.6 82.8M459 82.8 459.3 79.2 459.3 76.8 460.6 75.6 462.2 73.1 463.6 70.9 464.6 70.4 465.5 70.4 466.7 70.1 467 71.8 468.4 75.1 468.3 76.6 470.4 76.1 470.4 78.2 471.1 82.8M471.5 82.8 472 79.2 472.5 79.3 473.6 80.8 474.2 82.3M438 47.1 439.6 45 441.8 44.7 440.7 46.4 441.8 49.5 442.4 51.3 441.9 52.5 442.4 54.6 440.5 55.2 439.2 54.3 439.6 51.5 438.3 49.2 438 47.1M491.8 60.9 492.3 58.5 492.8 56.4 495.1 56 497.6 53.3 498 50.2 498.6 50.4 498.9 52.3 498.3 54.9 498.1 56.6 497.5 57 495.7 57.4 494.4 58.4 492.8 59.2 491.8 60.9M497.6 49.7 498.6 46.2 501.2 47.6 499.8 49.7 498.3 49.9 497.6 49.7M498.9 45.6 499.9 42.5 499.2 37.1 498.9 40.4 498.9 45.6M484.9 69.9 485.4 67.1 486 67.3 485.4 70.4 484.9 69.9M484.8 74 486.2 74 486.1 76.1 487.4 79.7 485.2 78.9 484.8 76.6 484.8 74M404.1 41.4 408.7 40.2 408.9 38.6 407.9 37.8 406.8 35.9 406.5 33.5 405.7 32.5 404.6 32.5 403.8 34.7 404.6 36.2 405.9 37.3 404.9 38 404.9 39.4 404.5 39.8 405.9 40.1 404.1 41.4M403.9 39.4 403.9 37.3 403.1 35.9 402.3 36.8 401.4 37.3 401.4 39.4 402.7 39.9 403.9 39.4M414.9 11.9 418.1 10.4 423.8 10 425.1 11.9 419.4 14 416.8 12.9 414.9 11.9M441.2 19.7 443.7 17.6 445 15 451.4 13.5 446.3 17.1 444.4 20.2 441.2 19.7M468.8 11.4 472 9.3 475.2 10.9 472 12.4 468.8 11.4M495.7 15.5 498.9 14.5 502.8 15.2 497.6 16.6 495.7 15.5M522.3 19.7 524.6 19.2 523.6 19.9 522.3 19.7" fill="none" stroke="#8ea3ab" stroke-width="0.9" stroke-linejoin="round"/>
<path d="M561.8 367.4 553.5 365.2 546.4 360.6 542.5 359.4 525.9 359.2 510.5 359.7 501.5 360.9 495.1 362.6 491.1 364.3 480.3 370.5 472 373.6 461.7 375.5 450.1 375.9 441.2 375.2 432.2 373.5 422.9 370.5 409.2 364.3 403.8 363.3 398.7 363.3 396.5 364.3 405.9 369 408.4 370.9 410.4 373 411.6 375.6 412.1 377.8 411.4 381.9 410 384 407.2 386.1 387.9 397 383.4 399 378.9 399.6 375.1 399.2 371.2 397.9 367.4 395.9 364.8 393.9 362.4 391.3 360.7 388.1 359.7 385 359.5 381.9 360.7 376.8 363.2 373.6 368.7 370 380.2 364.3 380.2 363.3 376.7 362.3 371.2 361.6 364 362.3 360.2 364.3 355.8 369.8 353.3 372.1 350.1 373.5 346.8 374.1 343 373.9 339.8 373 330.8 367.4M539.3 371.3 541.9 371.3 543.2 372.4 543.8 373.6 543.7 375.7 541.9 377.8 539.3 377.8 537.6 375.7 537.5 373.6 538.9 371.6ZM513 391.1 515 391.4 516.2 393.3 515.7 396.4 514.3 397.6 512.4 397.2 511.3 395.4 511.3 393.3 512.8 391.3Z" fill="none" stroke="#111" stroke-width="1.3"/>
<path d="M330.8 352 331.4 351.9 331.7 351.9M353.8 351.9 355.1 352.9 355.1 355 349.8 362.3 346.2 365.1 344.3 365.5 342.4 365.3 335.3 361.5 330.8 362.2M483.2 351.9 485.3 352.9 485.8 354 485.4 355 476.4 363.3 472.2 366.4 467.8 368.5 463.6 369.7 458.5 370.6 452.7 370.9 446.9 370.6 441.8 369.7 437.5 368.5 433.1 366.4 430.1 364.3 419.3 355 418.7 354 419.2 352.9 421.4 351.9M561.8 362.2 558.6 362.7 555.4 362.1 552.9 360.2 551.9 357.1 552.4 355 554.1 353.4 556.7 352.6 561.8 352M382.8 371.5 387.3 371.1 391.8 371.5 395.6 372.3 399.5 373.9 402 375.7 403.6 377.8 404.2 380.9 403.5 383 401.8 385 397.6 388.1 392.4 391 387.9 392.8 384.1 393.5 380.9 393.4 377.6 392.7 374.4 391.4 371.3 389.2 369 386.1 368.3 383 368.9 379.9 371.1 376.8 373.8 374.7 377.6 372.8 382.4 371.6Z" fill="none" stroke="#111" stroke-width="1.3"/>
<path d="M448.9 356 454.6 355.8 459.1 356.6 461.9 358.1 462.6 360.2 461.3 362.3 457.2 364.3 452.7 364.8 448.2 364.3 444.1 362.3 442.8 360.2 442.8 359.1 443.7 357.8 445 357 448.4 356ZM382.8 375.6 389.2 375.1 395 376.7 396.9 378.1 398.1 379.9 397.9 383 395 386.1 389.2 388.9 384.1 389.4 379.1 388.1 377 386.7 375.6 385 374.9 381.9 375.7 379.9 377 378.4 379.5 376.8 382.1 375.7Z" fill="none" stroke="#111" stroke-width="1.3"/>
<path d="M384.1 380.9 386 380.1 387.9 380 390.1 380.9 390.6 381.9 390.2 383 388.8 384 386 384.4 384.5 384 383.4 383 383.3 381.9 384 380.9Z" fill="none" stroke="#111" stroke-width="1.3"/>
<path d="M479 387.1 475.2 389.5 473.7 391.3 472.8 393.3 472.8 397.5 473.7 399.5 475.2 401.4 479 403.9 484.2 404.8 488.6 404.1 493 401.6 494.7 399.5 495.8 396.4 495.6 393.3 493.8 390.1 491.2 387.9 487.4 386.4 483.5 386.2 479.7 386.9ZM403.9 394.3 400.1 395.9 396.9 398.5 394.9 401.6 394.2 405.8 395.2 409.9 397.5 413.2 400.7 415.3 404.6 415.9 409.1 414.8 412.3 412.3 414.9 408 415.7 403.7 414.9 399.5 413.8 397.5 412.3 395.9 409.1 394.3 404.6 394.1ZM346.8 397.4 346.1 399.5 346.5 401.6 347.5 402.7 349.4 402.9 350.7 401.3 350.7 398.5 349.4 396.8 347.5 396.8Z" fill="none" stroke="#111" stroke-width="1.25" stroke-dasharray="4.5 2.5"/>
<path d="M481.6 392 479.9 393.3 479.4 394.4 479.4 396.4 479.9 397.5 481.6 398.8 483.5 399.4 485.4 399.3 487.4 398.5 489 396.4 489 394.4 488.4 393.3 487.3 392.3 485.4 391.6 482.2 391.7ZM402.7 398.3 400.8 399.5 399.2 401.6 398.7 403.7 398.8 405.8 399.8 407.8 401.4 409.3 403.3 410.1 405.9 410 408 408.9 409.7 406.8 410.4 404.7 410.4 402.2 409.7 400.4 407.8 398.5 405.9 397.9 403.3 398.1Z" fill="none" stroke="#111" stroke-width="1.25" stroke-dasharray="4.5 2.5"/>
</g>
<g clip-path="url(#mc5)">
<rect x="330.8" y="434.8" width="231" height="82.8" fill="#fff"/>
<path d="M331.8 434.8 403.3 434.8 404.8 435.7 405.2 437.7 404.6 439.7 403.3 441.7 396.6 448.7 394.6 450.2 390.7 451 382 449.7 380.1 450.1 377.8 451.7 376.1 454.7 375.9 457.7 376.9 461.7 379.6 467.7 379.5 470.7 377.9 473.7 374.3 478.4 371.4 480.4 368.5 480.9 365.6 480.2 361.7 478.3 358.8 476.2 356.7 473.7 355.2 470.7 354.5 466.7 356.3 459.7 356.1 456.7 354 455.1 348.2 453.4 346.1 451.7 344.9 449.7 344.1 446.7 344.1 444.7 344.9 442.7 346.3 441.4 348.2 440.4 353 439.6 388.8 439.2 390.9 438.7 392.6 437.7 393 436.7 392.7 436.4 390.7 435.5 385.9 435.2 351.1 435.1 341.4 435.6 339.5 436 337.6 437.1 330.8 443.7 330.8 434.8ZM437.1 434.8 441.4 434.8 436.7 434.8ZM446.8 434.8 561.8 434.8 561.8 443.7 560.4 446.7 560 452.7 559.5 454.7 558 456.7 555 458.7 542.5 465.2 539.6 465.1 533.8 462.8 530.9 462.5 524.1 463.3 518.1 464.7 514 466.7 511.7 468.7 508.4 474.7 506.7 476.6 503.8 477.3 502.5 476.7 501.7 475.7 501.1 472.7 502.7 464.7 502.2 456.7 504.9 450.7 505.9 446.7 505.5 442.7 503.8 439.7 501.9 438.7 499 438.9 487.4 444.1 484.5 446.1 471.9 458.6 469 459.6 466.1 459.7 462.2 458.8 458.1 455.7 456 454.7 448.7 454.3 445.8 453.7 430.5 445.7 429.8 444.7 430.5 443.7 438.1 439.2 442.9 437.5 448.5 436.7 451.4 435.7 446.2 434.8ZM413 489.6 418.8 489.1 433.3 489.6 436.2 490 438.1 490.9 440.8 493.6 442.2 497.6 442 502.6 440.5 506.6 438.1 509.4 434.2 511.7 427.5 514.4 420.7 515.8 417.4 517.6 405.8 517.6 403.7 515.6 402.5 511.6 402.2 505.6 403 499.6 404.4 495.6 406.2 493.1 409.1 490.9 412.7 489.7ZM555 494.5 558.9 494.4 561.8 495.1 561.8 501.4 559.9 502 557 501.9 555 501.3 553.1 499.9 552.3 498.6 552.3 496.6 553.1 495.4 554.5 494.6ZM331.7 495.6 332.6 496.6 332.9 498.6 331.9 500.6 330.8 501.4 330.8 495.1Z" fill="#feeaa6"/>
<path d="M521.2 435.7 533.8 435.4 544.4 436.7 552.1 436.2 557.9 437.3 558.8 437.7 559.2 438.7 556.7 444.7 556.9 451.7 556.1 454.7 554.3 456.7 551.2 458.7 545.4 461.5 542.5 462.3 539.6 462.1 532.8 460.1 518.3 462 514.4 462 511.5 461.2 509.6 459 508.8 455.7 510.6 440.7 511.7 438.7 513.5 437.4 520.4 435.7ZM476.7 436.7 486.4 436.2 489.6 436.7 490.6 437.7 489.3 439.7 482.5 444.4 478.1 449.7 472.9 454.8 470.2 456.7 468 457.5 464.2 457.2 456.4 453.2 448.7 452.8 445.8 452.2 438 447.7 435.4 445.7 435 444.7 435.4 443.7 438 441.7 444.9 439.5 476.4 436.7ZM353 441.6 369.5 441.1 387.8 442.2 391.7 443 392.8 443.7 393.3 444.7 392.6 446.7 390.7 448 388.8 448.4 381.1 448 379.1 448.7 377.2 450.3 375.3 453.7 374.8 456.7 375.3 460.6 377 466.7 376.5 470.7 374.7 473.7 372.4 475.9 370.4 477.1 367.5 477.5 364.6 476.7 361.7 475 359.3 472.7 358.1 470.7 357.5 468.7 357.4 465.7 359.1 457.7 358.3 454.7 355.9 453 349.2 450.8 347.2 448.5 346.7 446.7 347.2 444.3 349.2 442.6 352.1 441.7ZM415.9 491.6 420.7 491.5 435.6 493.6 437.9 495.6 438.7 497.6 438.7 500.6 438.1 502.8 435.9 505.6 431.3 508 417.8 511.2 411 513.9 408.1 513.6 406.4 511.6 405.6 508.6 405.5 504.6 406.5 499.6 408 496.6 410.1 494.2 412.5 492.6 415.6 491.6Z" fill="#fdbb50"/>
<path d="M526 437.7 531.4 437.7 538.6 440.1 547.3 441.3 550.2 442.3 552.1 445 553.7 449.7 553.7 452.7 552.8 454.7 548.8 457.7 543.4 459.7 540.5 459.6 534.7 457.5 532.8 457.2 523.1 459.6 519.3 459.6 516.3 458.7 514.2 456.7 513.5 454.7 513.9 450.7 515.4 448.5 518.3 447.8 528.9 448.8 530.9 448.3 532.5 446.7 532.9 444.7 531.4 442.7 522.9 439.7 522.8 438.7 525.6 437.7ZM460.3 439.7 476.7 440.1 479.4 440.7 479.8 441.7 478.3 445.7 475.3 449.7 470.9 453.8 467.1 455.5 464.2 455.1 456.4 451.8 448.7 451.4 445.8 450.8 442.1 448.7 439 445.7 438.9 444.7 439.4 443.7 443.9 441.5 449.7 440.4 459.6 439.7ZM362.7 442.7 372.4 442.6 376.2 443.4 378.8 444.7 378.9 445.7 375.4 450.7 373.9 454.7 373.8 458.7 375.1 465.7 374.9 468.7 374 470.7 372.4 472.7 369.5 474.4 367.5 474.6 364.6 473.8 362.7 472.6 361 470.7 359.7 466.7 361 457.7 360.1 453.7 357.9 451.3 351.1 448.8 349.7 446.7 350.4 444.7 352.1 443.9 362 442.7ZM414.9 494.6 418.8 494 422.2 494.6 430.9 498.6 431.5 499.6 429.9 501.6 423 505.6 415.9 507.6 412 507.9 410.1 506.6 409.7 505.6 409.6 501.6 411.2 497.6 413 495.8 414.8 494.6Z" fill="#fa8c28"/>
<path d="M450.6 441.7 460.3 441.2 470 441.8 473.8 443 474.8 443.8 475.1 445.7 473.4 448.7 470.3 451.7 468 453 465.1 453.3 457.4 450.6 447.7 449.7 445.2 448.7 442.8 446.7 442.3 445.7 442.5 444.7 443.5 443.7 445.8 442.7 450.2 441.7ZM366.6 443.7 370.4 443.7 373.3 444.5 375 445.7 375.2 446.7 372.6 455.7 373.4 464.7 373 467.7 371.4 470.3 368.5 471.9 366.6 471.7 364.6 470.8 362.3 467.7 361.9 464.7 362.7 457.7 362.4 454.7 360.8 451 357.3 446.7 358.2 445.7 360.8 444.7 365.9 443.7ZM540.5 445.7 542.5 445.1 544.4 445.2 546.3 445.8 548.3 447.2 549.5 448.7 550.2 450.7 550.1 452.7 548.8 454.7 546.3 456.2 543.4 457 540.5 456.5 537.9 454.7 536.9 452.7 537 450.7 538.3 447.7 540.4 445.7ZM519.3 452.7 521.2 451.9 524.1 451.9 526.4 452.7 527.5 453.7 527.7 454.7 527.1 455.7 525.4 456.7 523.1 457.3 521.2 457.1 518.7 455.7 518.5 453.7 519.2 452.7ZM416.8 498.6 419 498.6 419.7 499.6 419.3 500.6 417.8 501.5 416.8 501.4 416 500.6 416 499.6 416.8 498.6Z" fill="#eb502a"/>
<path d="M455.5 442.7 461.3 442.8 467.3 443.7 469.9 444.7 470.7 445.7 470.8 446.7 468.8 449.7 467.1 450.7 465.1 451 457.4 449.1 448.7 448 446.5 446.7 446.1 445.7 446.7 444.7 448.7 443.7 455.4 442.7ZM364.6 445.7 367.5 445.1 370.4 445.4 372.4 446.5 372.8 447.7 371.3 455.7 371.4 465.7 370.4 467.6 368.5 468.8 367.1 468.7 365.6 467.8 364.6 466.5 364.2 464.7 364.4 455.7 362.4 448.7 362.9 446.7 364.5 445.7Z" fill="#cc1c28"/>
<path d="M455.5 445.5 458.4 445.3 461.3 445.7 461.5 446.7 454.5 445.7ZM367.5 447.4 369.6 447.7 370.5 449.7 368.9 456.7 368.5 462.7 367.5 462.4 367.2 456.7 365.5 450.7 365.7 448.7 366.6 447.7Z" fill="#9c1420"/>
<path d="M419.7 437.7 424.6 437 427.8 437.7 427.5 438.7 426.5 439.3 422.6 440.2 419.5 439.7 418.7 438.7 419.4 437.7ZM418.8 449.7 423.6 449 428.4 449.2 433.3 450.1 438.1 452.1 449 459.7 449.8 461.7 450.6 466.9 452.1 468.7 454.5 469.6 457.4 469 462.2 465.5 465.1 464.3 468 464.4 473.8 466 475.4 465.7 477.7 463.7 480.5 458.7 482.5 456.5 485.4 455.4 488.3 456.6 492.2 461.5 494.7 466.7 496.1 480.3 497.8 487.7 493 500.6 488.3 508.7 485.4 510.8 484.5 510.8 482.5 509.8 475.1 500.6 470.6 493.6 469 492.1 467.1 491.2 460.3 489.7 449.7 488.3 442 483.7 438.1 482.4 433.3 482.2 418.8 483.3 414.7 482.7 411 480.7 408.6 477.7 405.8 471.7 405.1 467.7 405.4 463.7 407.7 458.7 411 454.3 414.9 451.3 418.7 449.7ZM380.1 453.6 382 453 384 453.3 385.9 454.1 387.9 455.7 388.9 457.7 388.4 459.7 387.7 460.7 385.9 462 384 462.5 382 462.2 380.1 461 378.7 458.7 378.4 456.7 378.9 454.7 379.9 453.7ZM331 463.7 333.7 466 335.6 467 345.3 468.5 348.2 469.8 350.3 472.7 353.6 481.7 356.3 485.7 356.6 486.7 356.1 487.7 352.1 488.3 344.3 487.3 333.7 487.1 330.8 486.5 330.8 463.6ZM555 463.5 558.9 462.8 561.8 463.6 561.8 486.5 560.3 485.7 559.1 483.7 558.8 477.7 557.9 474.7 556 472.8 551.8 470.7 550.3 468.7 550.6 466.7 551.3 465.7 554.5 463.7ZM502.8 486.5 503.8 486.5 504.8 487.2 504.8 488.7 502.8 489.2 501.4 488.7 501 487.7 502.2 486.7Z" fill="#d8eef9"/>
<path d="M423.6 450.6 427.5 450.4 432.3 451.1 436.2 452.4 440 454.7 445.2 459.7 446.8 462.7 448.5 469.7 449.7 471.2 451.6 472.1 454.5 472.3 457.4 471.6 464.2 467.4 466.1 466.9 468 467.1 472.9 469 475.8 468.9 479 466.7 483.5 461.8 485.4 461.2 488.3 462.4 491.2 465.7 492.5 468.7 493.5 473.7 493.7 479.7 493.4 486.7 492.2 493.6 490.5 498.6 488.3 502.4 485.4 504.9 483.5 504.7 481.6 503.4 477 497.6 472.9 489.4 470 487.2 459.3 485.7 453.5 484.4 449.9 482.7 444.9 478.9 442 477.9 436.2 477.8 420.7 479 417.8 478.5 414.9 476.9 412 473.7 410 469.7 409.4 466.7 410.1 462.7 412.5 457.7 414.9 454.7 418.8 452 423 450.7ZM382 455.5 383.2 455.7 384.3 456.7 384.4 457.7 383.5 458.7 382 458.8 381.1 458 380.8 456.7 381.5 455.7ZM334.7 469.6 342.4 469.9 345.2 470.7 346.7 471.7 348.7 474.7 349.3 477.7 349.1 480.7 348 482.7 345.3 484.1 340.5 484.7 335.6 484.3 332.7 482.9 331.1 479.7 330.9 472.7 331.6 470.7 334.2 469.7ZM561.8 473.5 561.8 476.1 561.8 473.7Z" fill="#a8d8f4"/>
<path d="M427.5 451.7 432.3 452.3 436.2 453.7 439.2 455.7 442 458.7 443.7 461.7 444.6 465.7 444.4 469.7 442.9 472 440 473.3 436.2 474.1 423.6 474.7 418.8 473.7 416.8 472.5 415.2 470.7 413.7 467.7 413.4 464.7 414.3 460.7 415.7 457.7 417.2 455.7 419.7 453.6 422.6 452.4 426.6 451.7ZM483.5 466.4 486.4 465.9 489.3 468.2 491.2 472.7 491.8 477.7 491.4 485.7 489.7 493.6 487.4 498 485.4 499.6 484.5 499.8 482.5 499.2 479.6 496.4 475.2 486.7 472.9 483.8 470 482.5 462.2 482.3 457.4 481.5 454.1 479.7 453.1 477.7 453.4 476.7 454.7 475.7 465.1 470.4 467.1 470.3 471.9 472.1 474.8 472.1 477.7 470.7 483 466.7ZM336.6 471.6 341.4 471.4 343.4 471.9 345.3 473.1 346.5 474.7 347.1 476.7 346.9 478.7 345.9 480.7 343.4 482.3 340.5 482.8 336.6 482.1 334.7 480.8 333.5 478.7 333.3 475.7 334.7 472.7 336.5 471.7Z" fill="#70b4e6"/>
<path d="M423.6 453.7 427.5 453 431.3 453.3 435.2 454.6 438.1 456.6 440.4 459.7 441.5 462.7 441.6 465.7 440.1 468.7 436.2 470.7 430.4 471.4 423.6 470.8 419.3 468.7 417.4 465.7 417.1 463.7 417.4 460.7 418.6 457.7 419.7 456.2 423.5 453.7ZM484.5 469.5 486.4 469.9 488.3 471.8 489.7 475.7 490 479.7 489.5 485.7 488.3 490.5 486.4 494 484.5 495.1 482.5 494.6 480.1 491.6 475.3 480.7 474.5 477.7 476.6 474.7 481.6 470.9 483.9 469.7ZM337.6 473.6 339.5 473.1 341.4 473.2 343.9 474.7 344.5 475.7 344.7 477.7 343.4 479.7 340.5 480.7 338.5 480.5 337.1 479.7 336.2 478.7 335.6 476.7 336.3 474.7 337.4 473.7Z" fill="#3b80c6"/>
<path d="M426.5 454.5 429.4 454.4 432.3 454.9 434.2 455.7 436.7 457.7 438 459.7 438.7 462.7 438.4 464.7 437.1 466.4 434.2 467.8 429.4 468.2 425.5 467.5 422.2 465.7 420.5 462.7 420.6 459.7 422.2 456.7 425.6 454.7ZM482.5 473.6 484.5 473.2 486.4 474.3 487.4 476.2 487.9 478.7 487.4 485.7 486.3 488.7 484.5 490.3 482.6 489.7 481.6 488.4 479.9 484.7 478.7 480.7 478.5 478.7 479.2 476.7 480.6 474.9 482.4 473.7ZM340.5 476.4 340.5 477 339.8 476.7Z" fill="#1b4fa0"/>
<path d="M426.5 456.6 430.4 456.3 433.5 457.7 434.5 458.7 435.3 460.7 435.2 462.3 434.2 463.7 432.3 464.6 430.4 464.9 427.5 464.5 425.5 463.5 424.1 461.7 423.8 459.7 424.8 457.7 426.2 456.7ZM483.5 479.5 484.5 480.7 484.5 481.8 483.5 482.4 483.1 480.7 483.4 479.7Z" fill="#15266a"/>
<path transform="translate(0,434.8)" d="M330.8 57.6 332.1 58 332.7 59.5 333.5 62.1 334.7 64.2 335.9 66.3 337.2 69.4 337.5 69.2 336.9 67.8 335.8 65.2 335.3 63.2 334.3 60.6 335.9 63.2 337.9 66.8 340.1 71.5 341.1 73.5 345.6 76.6 347.5 76.6 348.8 78.2 351.3 79.4 352.6 80.8 352.9 82.8M354.2 82.8 354.2 77.7 351.3 76.8 351.3 74 352 70.9 349.7 71.5 349.4 73.8 347.2 74.4 345.6 71.5 345.2 66.8 345.6 64.2 347.5 62.4 350.1 63 350.7 61.8 353.3 62.4 354.5 63.2 354.9 65.2 355.8 67.1 356.5 65.8 356.1 63.7 355.6 61.1 357.1 58.5 359 57 359 54.9 360.3 51.3 362.9 50.2 362.6 48.7 364.8 46.9 366.4 45.8 368.7 46.1 365.8 48.2 368.7 46.1 366.7 43 365.1 41.4 369.3 41.2 371.9 39.9 371.9 38.3 370.6 36.8 368.7 35.2 368 33.1 366.4 30.8 364.2 32.6 362.9 30 357.8 28.5 357.8 32.6 358.4 35.7 356.8 39.9 354.9 38.8 353.3 35.9 351 34.7 348.4 34.2 347.2 32.1 347.5 30 349.7 27.4 352 26.4 350.1 24.3 346.8 22.8 344.9 23 340.4 22.3 338.5 22.8 334 22.8 330.8 21.2M561.8 21.2 558.6 20.7 555.4 20.7 552.2 21.2 548.3 21.1 542.5 20.3 538.4 19.4 534.8 20.5 532.3 22 533.6 23.8 531 25.3 532.9 26.4 535.5 26.4 533.6 28 532.3 29.5 533.2 30.8 534.8 31.3 537.4 32.4 538.1 33.7 534.8 36.2 533.9 36.6 539.3 33.7 541.3 31.6 542.5 30 545.1 30.2 549 31.4 551.5 33.1 554.1 36.2 555.4 37.3 557 40.9 559.2 43 559.2 45.6 559.2 49.7 559 51.4 560.2 54.4 561.5 57.5 561.8 57.6M353.3 70.6 355.2 69.7 358.1 70.9 360.2 72.3 357.9 72.6 355.8 70.7 353.3 70.6M360 74 361.3 72.6 363.8 73.7 362.9 74.4 360 74M368 24.3 365.4 29 362.2 28.2 357.8 26.4 356.5 20.7 351.3 20.2 355.2 17.1 358.4 17.9 362.2 20.2 364.8 21.7 368 24.3M346.8 13.5 356.5 13.5 368 8.8 362.9 7.2 350.1 8.8 346.8 11.4 346.8 13.5M332.7 18.6 340.4 17.6 343 20.7 337.2 22.3 332.1 20.7 332.7 18.6M348.8 16.1 356.5 16.1 356.5 14 348.8 14 348.8 16.1M352.6 26.9 356.1 26.9 353.9 28.5 352.6 26.9M361 12.4 365.4 14.5 370.6 15 372.5 19.7 374.4 22.3 375.7 26.9 379.6 31.1 380.9 30 382.8 25.4 387.3 22.8 393.7 20.7 393.7 17.6 396.2 14.5 395 10.4 400.1 8.8 395 7.2 386.6 6.7 378.9 7.8 369.3 8.3 366.1 9.3 361 12.4M392.4 25.4 393.7 24.4 397.5 24.3 399.1 25.9 396.2 27.5 393.7 27.1 392.4 25.4M398.5 82.3 397.1 80.3 396.7 78 397.4 73 396.9 71.5 398.5 66.3 399.5 64.5 401.6 61.6 401.7 59 403.9 56.1 406.5 56.9 409.7 55.1 414.2 54.7 414.9 57 414.3 58.2 417.7 59.9 420 61.8 420.6 59.9 422.6 59.4 423.8 60.3 427.1 60.9 428.7 60.9 429.9 60.6 430.6 57.5 430.9 55.3 428.3 55.7 426.4 55.3 425.1 54.1 424.7 51.8 426.4 50.7 427.7 50.6 430.3 49.7 432.2 50.7 434.4 50.2 434.6 48.7 432.8 47.1 431.9 46.3 432.7 44.3 430.3 46.4 429.3 47.1 428.7 46.1 427.7 44.9 426.8 46.4 426.1 47.9 425.8 49.9 424.7 51 422.6 51.3 423.2 53.9 422.2 55.4 421.3 53.3 420.3 51.8 420.2 49.7 418.1 48.2 416.5 45.9 415.7 46.6 416.8 49.7 419.7 51.7 418.1 53.9 417.8 51.8 415.8 50 414.2 47.6 413.3 47.3 411.6 48.6 409.9 48.5 409.9 49.7 408.1 51.3 407.5 53.1 406.5 55.1 404.3 55.9 403.6 54.9 402 54.9 402.2 49.7 401.9 48.5 406.8 48.3 407 45.6 404.8 43 406.8 42.8 408.8 41.4 410.4 39.9 411 37.9 413.3 37.6 413.3 34.2 414.5 33.5 414.5 36.8 415.8 36.9 416.8 37.3 419.4 36.5 421.3 35.2 421.6 33.7 423.2 34 422.9 31.9 427.1 31.1 422.2 30.8 421.6 29.5 421.6 28 424.2 25.9 421.9 25.1 419 28.5 419.7 31.1 418.4 34.7 417 35.7 416 35.2 415.2 33.1 414.2 32.1 412.3 33.1 411 32.1 411 29 414.2 26.9 416.8 23.3 418.7 21.2 421.9 20.2 424.5 19.7 427.1 20.7 429 21.4 431.5 22.3 434.1 23.4 432.8 24.9 430.3 26.4 431.5 27.1 434.1 26.4 436 24.9 436 22.3 439.9 22.8 442.4 22.3 445 22 446.3 20.9 450.8 22.3 452.1 17.9 454 18.1 454.3 22.8 455 19.2 459.1 18.1 461.1 20.7 459.1 17.1 463.6 16.6 468.8 14.5 474.5 12.7 480.3 17.1 485.4 17.6 490.6 18.6 493.1 19.2 497.6 18.1 504 19.1 510.5 21 516.9 20.7 523.3 22 528.4 24.3 529.7 25.1 527.1 26.6 523.9 25.9 522.7 28.5 519.4 29.3 516.9 31.1 512.4 31.6 511.8 34.2 510.5 37.3 508.3 40.4 507.9 38.5 507.6 33.7 508.5 32.2 505.3 31.9 500.8 31.8 498.3 32.6 496 37.3 498.3 38.3 498 42.5 496.3 45.6 493.1 48.9 491.5 49.2 490.9 51 490.8 54.9 490.6 56.9 489 57.5 488.8 54.2 487.8 52.2 485.8 52.8 485.6 51 483.5 52.6 483.5 53.9 485.1 54.4 486.4 54.9 484.5 57 485.4 59.9 486.1 62.1 485.8 64.2 484.5 66.8 482.9 68.9 480.9 70.1 478.7 71.5 478.3 70.9 477.1 70.9 476.1 72.5 475.6 74 477.4 77.7 477.9 80.8 477.1 81.8 476.2 82.8M440.5 80.9 436.4 82.4 435.6 81 435.1 79.2 433.1 77.2 431.7 73.5 430.6 69.4 429.6 65.2 428.7 62.2 429.5 64.4 430.3 62.7 430.6 64.2 431.5 66.8 432.8 70.4 434.1 74 435.3 77.7 435.6 80.1 436.7 80 438.9 78.7 441.3 76.9 443.1 75.1 444.9 73.5 446.2 69.9 445.3 68.8 444 65.9 443.7 67.8 442.8 68.1 440.8 67.8 440.7 66.2 440 66.8 439.6 65.2 438.6 62.7 439.9 62.1 440.8 64.4 442.4 65.6 444.1 65.1 444.6 66.6 447.3 67.1 450.5 66.9 451.1 68.4 451.8 69.2 452.7 69.9 454.4 71.1 454.6 73.5 455 76.6 455.8 80 456.6 82.8M459 82.8 459.3 79.2 459.3 76.8 460.6 75.6 462.2 73.1 463.6 70.9 464.6 70.4 465.5 70.4 466.7 70.1 467 71.8 468.4 75.1 468.3 76.6 470.4 76.1 470.4 78.2 471.1 82.8M471.5 82.8 472 79.2 472.5 79.3 473.6 80.8 474.2 82.3M438 47.1 439.6 45 441.8 44.7 440.7 46.4 441.8 49.5 442.4 51.3 441.9 52.5 442.4 54.6 440.5 55.2 439.2 54.3 439.6 51.5 438.3 49.2 438 47.1M491.8 60.9 492.3 58.5 492.8 56.4 495.1 56 497.6 53.3 498 50.2 498.6 50.4 498.9 52.3 498.3 54.9 498.1 56.6 497.5 57 495.7 57.4 494.4 58.4 492.8 59.2 491.8 60.9M497.6 49.7 498.6 46.2 501.2 47.6 499.8 49.7 498.3 49.9 497.6 49.7M498.9 45.6 499.9 42.5 499.2 37.1 498.9 40.4 498.9 45.6M484.9 69.9 485.4 67.1 486 67.3 485.4 70.4 484.9 69.9M484.8 74 486.2 74 486.1 76.1 487.4 79.7 485.2 78.9 484.8 76.6 484.8 74M404.1 41.4 408.7 40.2 408.9 38.6 407.9 37.8 406.8 35.9 406.5 33.5 405.7 32.5 404.6 32.5 403.8 34.7 404.6 36.2 405.9 37.3 404.9 38 404.9 39.4 404.5 39.8 405.9 40.1 404.1 41.4M403.9 39.4 403.9 37.3 403.1 35.9 402.3 36.8 401.4 37.3 401.4 39.4 402.7 39.9 403.9 39.4M414.9 11.9 418.1 10.4 423.8 10 425.1 11.9 419.4 14 416.8 12.9 414.9 11.9M441.2 19.7 443.7 17.6 445 15 451.4 13.5 446.3 17.1 444.4 20.2 441.2 19.7M468.8 11.4 472 9.3 475.2 10.9 472 12.4 468.8 11.4M495.7 15.5 498.9 14.5 502.8 15.2 497.6 16.6 495.7 15.5M522.3 19.7 524.6 19.2 523.6 19.9 522.3 19.7" fill="none" stroke="#8ea3ab" stroke-width="0.9" stroke-linejoin="round"/>
<path d="M561.8 459.2 552.8 461.2 547 462 540.6 462 534.8 461.2 529.1 459.4 524.6 456.9 521.4 454.3 514.3 447 509.8 444.4 501.5 442.8 486.7 442.5 457.8 442.9 424.5 442.7 421.3 443.3 414.9 446.5 410.4 447.1 405.2 446.7 398.2 444.3 395 444.2 386 446.4 369.9 453.1 361.6 455.7 353.3 457 337.9 458 330.8 459.2M453.4 454.3 457.2 453.5 461.1 453.9 464.9 455.6 468.1 458.6 469.7 461.7 470 465.8 468.8 469.2 465.5 472.4 461.1 474.3 455.9 474.5 450.8 472.8 447.5 470 445.7 465.8 446 461.7 446.9 459.6 448.9 457.1 453.1 454.4ZM383.4 459.6 385.9 460.6 386.9 462.7 386.6 464.8 385.3 466.1 384.1 466.5 381.5 465.9 380 463.7 380.2 461.7 380.9 460.7 383.3 459.6ZM394.3 479.2 396.9 479.7 398.7 481.4 400.1 484.1 400.8 487.6 400.5 491.7 399.4 494.8 397.5 497.1 395 498 393 497.5 391.1 495.7 389.7 492.7 389.2 489.6 389.5 485.5 390.5 482.6 392.2 480.3 394.1 479.3Z" fill="none" stroke="#111" stroke-width="1.3"/>
<path d="M367.5 434.8 370.3 436.8 370.9 437.9 370.7 439.9 368.5 443 362.9 446.7 359 448.3 354.5 449.4 337.9 450.6 330.8 452.4M561.8 452.4 549.9 456.5 545.1 457.2 540.6 457.1 536.1 456.2 532.2 454.4 529.6 452.4 527.5 449.2 526.9 446.1 527.5 443 529.1 440.7 531.6 438.8 534.8 437.4 539.3 436.2 554.3 434.8M407.2 441.9 411 441.6 412.4 442 413.5 443 413.1 444.1 411.6 444.7 408.4 444.9 406.3 444.1 405.9 443 407 442ZM457.2 459.6 459.8 459.8 461.6 460.6 463 461.9 463.9 463.7 463.3 466.9 461.7 468.5 459.8 469.4 457.2 469.6 454.7 468.9 453.2 467.9 451.9 465.8 451.8 463.7 452.9 461.7 454.6 460.3 456.9 459.6Z" fill="none" stroke="#111" stroke-width="1.3"/>
<path d="M543.8 444 547 444.1 550 445.1 551.1 446.1 551.1 448.2 549 450.3 545.8 451.5 541.9 451.5 538.8 450.3 537.6 448.2 538.4 446.1 540 445 543.3 444.1Z" fill="none" stroke="#111" stroke-width="1.3"/>
<path d="M502.8 476.1 500.2 476.8 497.6 478.7 496.2 481.4 495.9 484.5 497 487.3 498.9 489.3 501.5 490.5 504 490.7 506.6 490.1 509.2 488.1 510.7 485.5 510.9 482.4 509.8 479.6 507.9 477.6 505.3 476.4 502.8 476.1" fill="none" stroke="#111" stroke-width="1.25" stroke-dasharray="4.5 2.5"/>
</g>
<path d="M330.8 103.35h-2M330.8 92.99h-2M330.8 82.64h-4M330.8 72.28h-2M330.8 61.92h-2M330.8 51.57h-4M330.8 41.21h-2M330.8 30.86h-2M330.8 20.5h-4" stroke="#333" stroke-width="0.9" fill="none"/>
<rect x="471.3" y="59.8" width="27.3" height="27.8" fill="none" stroke="#3cdc3c" stroke-width="1"/>
<rect x="330.8" y="20.5" width="231" height="82.85" fill="none" stroke="#222" stroke-width="1"/>
<text x="322" y="23.8" font-size="9" text-anchor="end">90N</text>
<text x="322" y="54.87" font-size="9" text-anchor="end">60N</text>
<text x="322" y="85.94" font-size="9" text-anchor="end">30N</text>
<text x="551.4" y="98.1" font-size="9.4" font-weight="bold" text-anchor="end">Lag -10- -6</text>
<path d="M330.8 186.2h-2M330.8 175.84h-2M330.8 165.49h-4M330.8 155.13h-2M330.8 144.77h-2M330.8 134.42h-4M330.8 124.06h-2M330.8 113.71h-2M330.8 103.35h-4" stroke="#333" stroke-width="0.9" fill="none"/>
<rect x="471.3" y="142.65" width="27.3" height="27.8" fill="none" stroke="#3cdc3c" stroke-width="1"/>
<rect x="330.8" y="103.35" width="231" height="82.85" fill="none" stroke="#222" stroke-width="1"/>
<text x="322" y="106.65" font-size="9" text-anchor="end">90N</text>
<text x="322" y="137.72" font-size="9" text-anchor="end">60N</text>
<text x="322" y="168.79" font-size="9" text-anchor="end">30N</text>
<text x="551.4" y="180.95" font-size="9.4" font-weight="bold" text-anchor="end">Lag -5- -1</text>
<path d="M330.8 269.05h-2M330.8 258.69h-2M330.8 248.34h-4M330.8 237.98h-2M330.8 227.62h-2M330.8 217.27h-4M330.8 206.91h-2M330.8 196.56h-2M330.8 186.2h-4" stroke="#333" stroke-width="0.9" fill="none"/>
<rect x="471.3" y="225.5" width="27.3" height="27.8" fill="none" stroke="#3cdc3c" stroke-width="1"/>
<rect x="330.8" y="186.2" width="231" height="82.85" fill="none" stroke="#222" stroke-width="1"/>
<text x="322" y="189.5" font-size="9" text-anchor="end">90N</text>
<text x="322" y="220.57" font-size="9" text-anchor="end">60N</text>
<text x="322" y="251.64" font-size="9" text-anchor="end">30N</text>
<text x="551.4" y="263.8" font-size="9.4" font-weight="bold" text-anchor="end">Lag 0-4</text>
<path d="M330.8 351.9h-2M330.8 341.54h-2M330.8 331.19h-4M330.8 320.83h-2M330.8 310.47h-2M330.8 300.12h-4M330.8 289.76h-2M330.8 279.41h-2M330.8 269.05h-4" stroke="#333" stroke-width="0.9" fill="none"/>
<rect x="471.3" y="308.35" width="27.3" height="27.8" fill="none" stroke="#3cdc3c" stroke-width="1"/>
<rect x="330.8" y="269.05" width="231" height="82.85" fill="none" stroke="#222" stroke-width="1"/>
<text x="322" y="272.35" font-size="9" text-anchor="end">90N</text>
<text x="322" y="303.42" font-size="9" text-anchor="end">60N</text>
<text x="322" y="334.49" font-size="9" text-anchor="end">30N</text>
<text x="551.4" y="346.65" font-size="9.4" font-weight="bold" text-anchor="end">Lag 5-9</text>
<path d="M330.8 434.75h-2M330.8 424.39h-2M330.8 414.04h-4M330.8 403.68h-2M330.8 393.32h-2M330.8 382.97h-4M330.8 372.61h-2M330.8 362.26h-2M330.8 351.9h-4" stroke="#333" stroke-width="0.9" fill="none"/>
<rect x="471.3" y="391.2" width="27.3" height="27.8" fill="none" stroke="#3cdc3c" stroke-width="1"/>
<rect x="330.8" y="351.9" width="231" height="82.85" fill="none" stroke="#222" stroke-width="1"/>
<text x="322" y="355.2" font-size="9" text-anchor="end">90N</text>
<text x="322" y="386.27" font-size="9" text-anchor="end">60N</text>
<text x="322" y="417.34" font-size="9" text-anchor="end">30N</text>
<text x="551.4" y="429.5" font-size="9.4" font-weight="bold" text-anchor="end">Lag 10-14</text>
<path d="M330.8 517.6h-2M330.8 507.24h-2M330.8 496.89h-4M330.8 486.53h-2M330.8 476.18h-2M330.8 465.82h-4M330.8 455.46h-2M330.8 445.11h-2M330.8 434.75h-4" stroke="#333" stroke-width="0.9" fill="none"/>
<rect x="471.3" y="474.05" width="27.3" height="27.8" fill="none" stroke="#3cdc3c" stroke-width="1"/>
<rect x="330.8" y="434.75" width="231" height="82.85" fill="none" stroke="#222" stroke-width="1"/>
<text x="322" y="438.05" font-size="9" text-anchor="end">90N</text>
<text x="322" y="469.12" font-size="9" text-anchor="end">60N</text>
<text x="322" y="500.19" font-size="9" text-anchor="end">30N</text>
<text x="551.4" y="512.35" font-size="9.4" font-weight="bold" text-anchor="end">Lag 15-19</text>
<path d="M330.8 517.6v4M337.22 517.6v2M343.63 517.6v2M350.05 517.6v2M356.47 517.6v2M362.88 517.6v2M369.3 517.6v4M375.72 517.6v2M382.13 517.6v2M388.55 517.6v2M394.97 517.6v2M401.38 517.6v2M407.8 517.6v4M414.22 517.6v2M420.63 517.6v2M427.05 517.6v2M433.47 517.6v2M439.88 517.6v2M446.3 517.6v4M452.72 517.6v2M459.13 517.6v2M465.55 517.6v2M471.97 517.6v2M478.38 517.6v2M484.8 517.6v4M491.22 517.6v2M497.63 517.6v2M504.05 517.6v2M510.47 517.6v2M516.88 517.6v2M523.3 517.6v4M529.72 517.6v2M536.13 517.6v2M542.55 517.6v2M548.97 517.6v2M555.38 517.6v2M561.8 517.6v4" stroke="#333" stroke-width="0.9" fill="none"/>
<text x="330.8" y="533.6" font-size="9" text-anchor="middle">120W</text>
<text x="369.3" y="533.6" font-size="9" text-anchor="middle">60W</text>
<text x="407.8" y="533.6" font-size="9" text-anchor="middle">0</text>
<text x="446.3" y="533.6" font-size="9" text-anchor="middle">60E</text>
<text x="484.8" y="533.6" font-size="9" text-anchor="middle">120E</text>
<text x="523.3" y="533.6" font-size="9" text-anchor="middle">180</text>
<text x="561.8" y="533.6" font-size="9" text-anchor="middle">120W</text>
<text x="320.2" y="11.5" font-size="11">(c)</text>
<rect x="360" y="539.9" width="12.47" height="7.7" fill="#15246a"/>
<rect x="372.17" y="539.9" width="12.47" height="7.7" fill="#1f4fa0"/>
<rect x="384.34" y="539.9" width="12.47" height="7.7" fill="#3f7fc6"/>
<rect x="396.51" y="539.9" width="12.47" height="7.7" fill="#6cafe0"/>
<rect x="408.68" y="539.9" width="12.47" height="7.7" fill="#a6d3f0"/>
<rect x="420.85" y="539.9" width="12.47" height="7.7" fill="#d6ebf8"/>
<rect x="433.02" y="539.9" width="12.47" height="7.7" fill="#ffffff"/>
<rect x="445.19" y="539.9" width="12.47" height="7.7" fill="#ffffff"/>
<rect x="457.36" y="539.9" width="12.47" height="7.7" fill="#fde8a6"/>
<rect x="469.53" y="539.9" width="12.47" height="7.7" fill="#fdbd58"/>
<rect x="481.7" y="539.9" width="12.47" height="7.7" fill="#f88b2b"/>
<rect x="493.87" y="539.9" width="12.47" height="7.7" fill="#e8502a"/>
<rect x="506.04" y="539.9" width="12.47" height="7.7" fill="#c81f2b"/>
<rect x="518.21" y="539.9" width="12.47" height="7.7" fill="#981020"/>
<text x="372.17" y="556.9" font-size="9" text-anchor="middle">-3</text>
<text x="396.51" y="556.9" font-size="9" text-anchor="middle">-2</text>
<text x="420.85" y="556.9" font-size="9" text-anchor="middle">-1</text>
<text x="445.19" y="556.9" font-size="9" text-anchor="middle">0</text>
<text x="469.53" y="556.9" font-size="9" text-anchor="middle">1</text>
<text x="493.87" y="556.9" font-size="9" text-anchor="middle">2</text>
<text x="518.21" y="556.9" font-size="9" text-anchor="middle">3</text>
<text x="532.9" y="547.5" font-size="10.5">K</text>
</svg></body></html>
